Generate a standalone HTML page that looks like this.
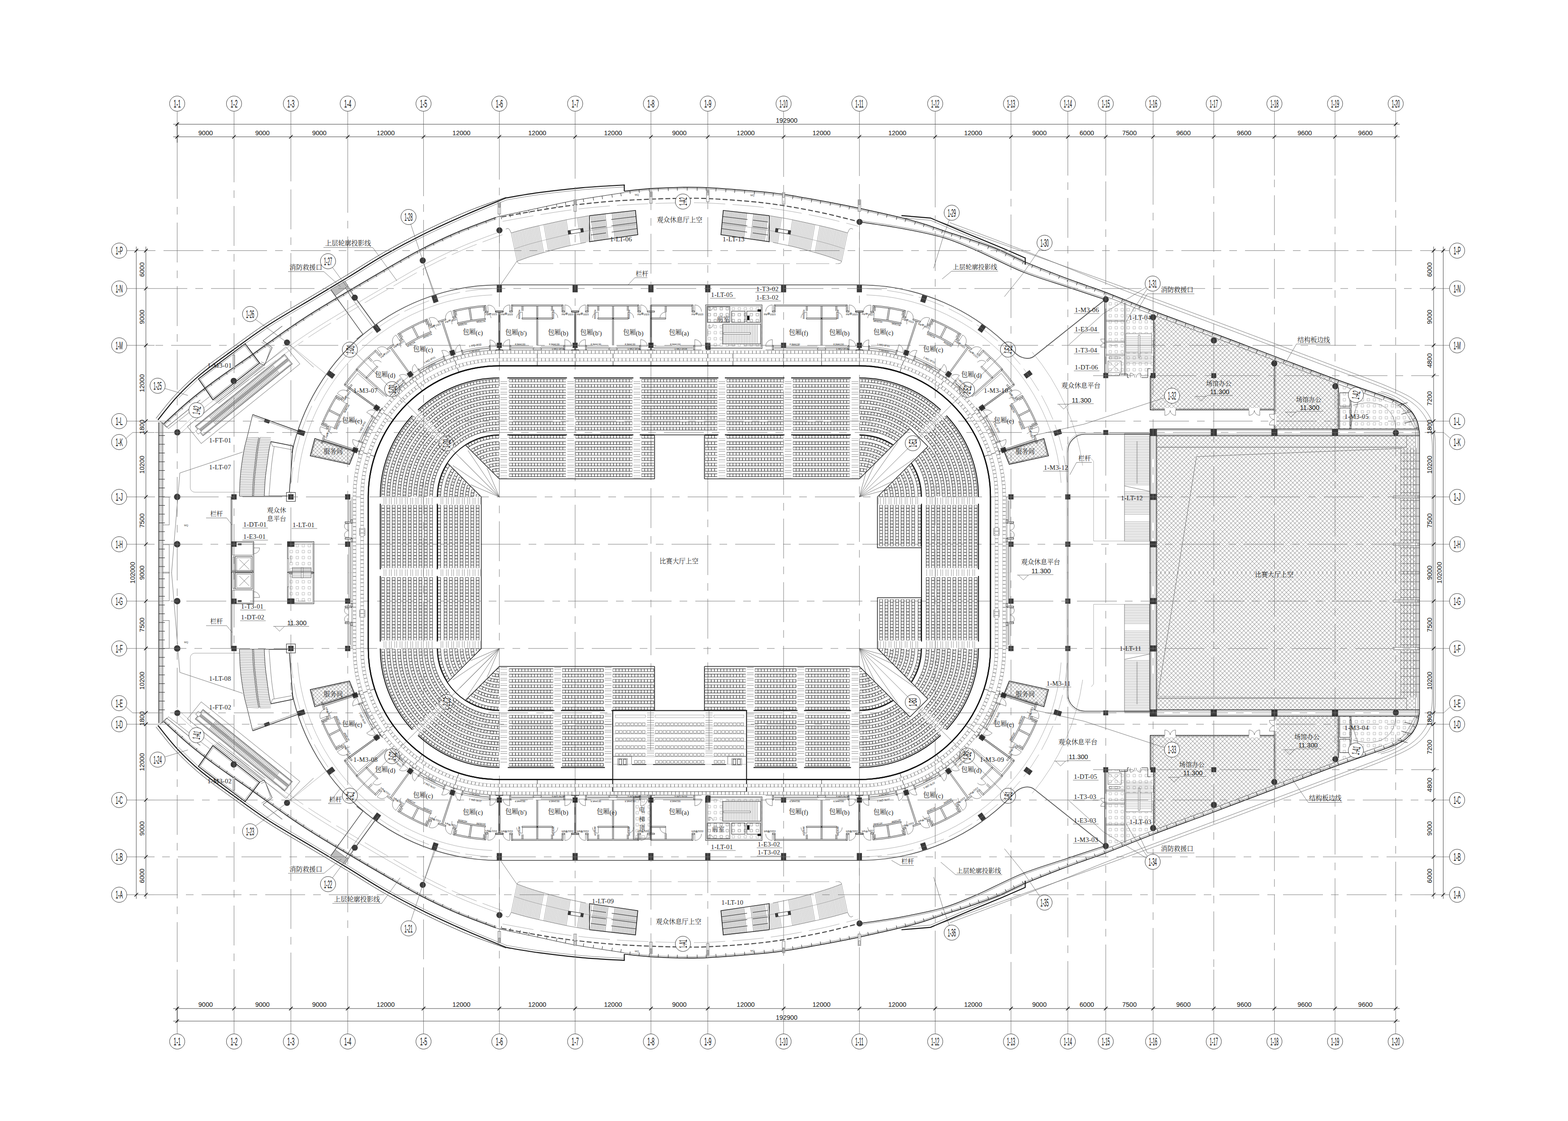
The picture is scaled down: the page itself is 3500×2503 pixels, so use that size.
<!DOCTYPE html><html><head><meta charset="utf-8"><title>plan</title><style>
html,body{margin:0;padding:0;background:#fff}
svg{display:block}
text{font-family:"Liberation Sans",sans-serif;fill:#111}
.g{stroke:#707070;stroke-width:0.95;fill:none}
.gd{stroke:#747474;stroke-width:0.95;fill:none;stroke-dasharray:89 18 17 18}
.bub{stroke:#333;stroke-width:1;fill:#fff}
.bt{font-size:24px;text-anchor:middle}
.dm{stroke:#444;stroke-width:1;fill:none}
.tk{stroke:#111;stroke-width:1.6}
.dt{font-size:14.5px;text-anchor:middle}
.t1{stroke:#222;stroke-width:1;fill:none}
.t0{stroke:#555;stroke-width:0.8;fill:none}
.tl{stroke:#888;stroke-width:0.7;fill:none}
.t2{stroke:#111;stroke-width:2;fill:none}
.t3{stroke:#111;stroke-width:3;fill:none}
.t15{stroke:#222;stroke-width:1.5;fill:none}
.col{fill:#3a3a3a;stroke:none}
.bw{stroke:#1a1a1a;stroke-width:0.9;fill:#fff}
.sd{stroke:#1f1f1f;fill:none;stroke-width:7.1}
.sw{stroke:#fff;fill:none;stroke-width:5.2;stroke-dasharray:5.95 1.1;stroke-dashoffset:-0.55}
.sr{stroke:#c8c8c8;fill:none;stroke-width:0.6}
.stp{stroke:#666;fill:none;stroke-width:15;stroke-dasharray:0.7 3.6 0.7 6.93}
.gsd{stroke:#8c8c8c;fill:none;stroke-width:7.6}
.gsw{stroke:#fff;fill:none;stroke-width:6.3;stroke-dasharray:7 1.56;stroke-dashoffset:-0.8}
.vsd{stroke:#777;fill:none;stroke-width:7.2;stroke-dasharray:7.1 1.4}
.vsw{stroke:#fff;fill:none;stroke-width:5.4;stroke-dasharray:5.3 3.2;stroke-dashoffset:-0.9}
.w{fill:#fff;stroke:none}
.lt{font-family:"Liberation Serif",serif;fill:#222}
.st{font-size:5.6px;fill:#333}
.dt2{font-family:"Liberation Sans",sans-serif;fill:#111}
.cj{font-family:"Liberation Serif","Noto Serif CJK SC",serif;fill:#222}
.cs{font-family:"Liberation Sans","Noto Sans CJK SC",sans-serif}
</style></head><body><svg width="3500" height="2503" viewBox="0 0 3500 2503"><g id="th"><rect x="2581.6" y="972.7" width="577" height="306.5" fill="url(#xh)"/><line x1="2567" y1="958.1" x2="3168" y2="958.1" class="t15"/><line x1="2567" y1="961" x2="3168" y2="961" class="t0"/><line x1="2567" y1="969.5" x2="3168" y2="969.5" class="t0"/><line x1="2567" y1="972.7" x2="3168" y2="972.7" class="t15"/><line x1="2567.1" y1="958" x2="2567.1" y2="1279.2" class="t15"/><line x1="2570" y1="958" x2="2570" y2="1279.2" class="t0"/><line x1="2578.4" y1="958" x2="2578.4" y2="1279.2" class="t0"/><line x1="2581.6" y1="958" x2="2581.6" y2="1279.2" class="t15"/><line x1="2581.6" y1="998.4" x2="3140" y2="998.4" class="t15" style="stroke:#777"/><line x1="3140" y1="972.7" x2="3140" y2="998.4" class="t0"/><line x1="3126.8" y1="1000" x2="3126.8" y2="1279.2" class="t0"/><line x1="3134" y1="1000" x2="3134" y2="1279.2" class="t0"/><line x1="3141" y1="1000" x2="3141" y2="1279.2" class="t0"/><line x1="3148.5" y1="1000" x2="3148.5" y2="1279.2" class="t0"/><line x1="3155.5" y1="1000" x2="3155.5" y2="1279.2" class="t0"/><line x1="3161.5" y1="1000" x2="3161.5" y2="1279.2" class="t0"/><path d="M3126 1012H3168M3126 1029.6H3168M3126 1047.2H3168M3126 1064.8H3168M3126 1082.4H3168M3126 1100H3168M3126 1117.6H3168M3126 1135.2H3168M3126 1152.8H3168M3126 1170.4H3168M3126 1188H3168M3126 1205.6H3168M3126 1223.2H3168M3126 1240.8H3168M3126 1258.4H3168M3126 1276H3168" class="t0"/><rect x="3110" y="1107" width="58" height="5" class="t0" style="fill:#fff"/><rect x="3110" y="1212.8" width="58" height="5" class="t0" style="fill:#fff"/><rect x="2567.1" y="958.4" width="13.6" height="14" class="col"/><rect x="2702.5" y="958.4" width="13.6" height="14" class="col"/><rect x="2837.9" y="958.4" width="13.6" height="14" class="col"/><rect x="2973.2" y="958.4" width="13.6" height="14" class="col"/><rect x="2567.1" y="1102.7" width="13.6" height="13.6" class="col"/><rect x="2567.1" y="1208.5" width="13.6" height="13.6" class="col"/><rect x="2462.7" y="960.2" width="11" height="11" class="col"/><path d="M2575.6 700 L2844.4 800.5 L2844.4 915.3 L2567.5 915.3 L2567.5 839.5 L2575.6 839.5 Z" fill="url(#xh)"/><path d="M2844.4 800.5 L2987.8 854.1 L2987.8 958 L2844.4 958 Z" fill="url(#xh)"/><path d="M2575.6 709 L2575.6 839.5 L2567.5 839.5 L2567.5 915.3 L2844.4 915.3" class="t15"/><path d="M2578.4 720 L2578.4 842.3 L2570.3 842.3 L2570.3 912.5 L2844.4 912.5" class="t0"/><line x1="2844.4" y1="813.5" x2="2844.4" y2="958" class="t15"/><line x1="2847.2" y1="813.5" x2="2847.2" y2="958" class="t0"/><line x1="2987.8" y1="865.1" x2="2987.8" y2="958" class="t15"/><line x1="2985" y1="865.1" x2="2985" y2="958" class="t0"/><path d="M2468.2 661.8 L2573.9 703.4 L2709.5 753.4 L2844.4 804.5 L2980.7 855.6 L3085 892.7" class="t0"/><rect x="2600" y="911" width="24" height="6" class="w"/><path d="M2600 916.5v11a12 12 0 0 0 12 -11M2624 916.5v11a12 12 0 0 1 -12 -11" class="t0"/><rect x="2788" y="911" width="24" height="6" class="w"/><path d="M2788 916.5v11a12 12 0 0 0 12 -11M2812 916.5v11a12 12 0 0 1 -12 -11" class="t0"/><rect x="2841" y="925" width="8" height="24" class="w"/><path d="M2844.4 925h-11a12 12 0 0 0 11 12M2844.4 949h-11a12 12 0 0 1 11 -12" class="t0"/><rect x="2703.8" y="833.3" width="11" height="11" class="col"/><path d="M2470 663.5 L2574 704.4 L2574 838.8 L2470 838.8 Z" fill="url(#sq)"/><path d="M2992 858.6 L3109 900.3 L3140 915 L3155 940 L3158 958 L2992 958 Z" fill="url(#sq)"/><line x1="2466.2" y1="660.8" x2="2466.2" y2="838.8" class="t15"/><line x1="2469.7" y1="660.8" x2="2469.7" y2="838.8" class="t0"/><line x1="2510.5" y1="675.4" x2="2510.5" y2="838.8" class="t1"/><line x1="2513" y1="675.4" x2="2513" y2="838.8" class="t0"/><line x1="2468.2" y1="715" x2="2510.5" y2="715" class="t0"/><line x1="2468.2" y1="717.5" x2="2510.5" y2="717.5" class="t0"/><line x1="2468.2" y1="762" x2="2510.5" y2="762" class="t0"/><line x1="2468.2" y1="764.5" x2="2510.5" y2="764.5" class="t0"/><line x1="2468.2" y1="791" x2="2510.5" y2="791" class="t0"/><line x1="2468.2" y1="793.5" x2="2510.5" y2="793.5" class="t0"/><path d="M2468.2 838.8 L2498.5 838.8 L2498.5 835 L2516.5 835 L2516.5 843 L2520 843" class="t1"/><path d="M2548 843 L2562 843 L2562 823 L2568 823" class="t1"/><rect x="2462.7" y="832.8" width="11" height="11.5" class="col"/><rect x="2568.4" y="832.8" width="11" height="11.5" class="col"/><rect x="2473" y="806" width="30" height="26" class="t0"/><path d="M2473 806l30 26M2503 806l-30 26" class="tl"/><rect x="2476" y="797" width="24" height="4" class="t0"/><rect x="2513" y="745" width="58" height="42" class="t0" style="fill:#fff"/><path d="M2513 752H2571M2513 756H2571M2513 760H2571M2513 764H2571M2513 768H2571M2513 772H2571M2513 776H2571M2513 780H2571M2513 784H2571" class="tl"/><rect x="2541" y="748" width="3.5" height="50" class="t0" style="fill:#fff"/><path d="M2513 790H2571M2513 793.5H2571M2513 797H2571M2513 800.5H2571M2513 804H2571M2513 807.5H2571M2513 811H2571" class="tl"/><path d="M2466 757h-9a9 9 0 0 0 9 9M2466 775h-9a9 9 0 0 1 9 -9" class="t0"/><path d="M2523 843v-10a10 10 0 0 1 10 10M2546 843v-10a10 10 0 0 0 -10 10" class="t0"/><rect x="2990.5" y="877" width="23" height="30" class="t1"/><rect x="2990.5" y="911" width="23" height="47" class="t1"/><line x1="3016" y1="877" x2="3016" y2="958" class="t1"/><path d="M3020 905C3070 890 3112 905 3115.7 958" class="t0"/><path d="M3068 878 Q3130 890 3158 958M3075 876Q3140 890 3163 958M3082 874Q3148 888 3166 950" class="t0"/><path d="M3120 905l22 -6M3128 925l22 -6M3135 945l22 -6" class="t1"/><rect x="2510" y="968" width="56" height="240" class="t0" style="fill:#fff"/><path d="M2510 971H2566M2510 974.6H2566M2510 978.2H2566M2510 981.8H2566M2510 985.4H2566M2510 989H2566M2510 992.6H2566M2510 996.2H2566M2510 999.8H2566M2510 1003.4H2566M2510 1007H2566M2510 1010.6H2566M2510 1014.2H2566M2510 1017.8H2566M2510 1021.4H2566M2510 1025H2566M2510 1028.6H2566M2510 1032.2H2566M2510 1035.8H2566M2510 1039.4H2566M2510 1043H2566M2510 1046.6H2566M2510 1050.2H2566M2510 1053.8H2566M2510 1057.4H2566M2510 1061H2566M2510 1064.6H2566M2510 1068.2H2566M2510 1071.8H2566M2510 1075.4H2566M2510 1079H2566M2510 1082.6H2566M2510 1098H2566M2510 1101.6H2566M2510 1105.2H2566M2510 1108.8H2566M2510 1112.4H2566M2510 1116H2566M2510 1119.6H2566M2510 1123.2H2566M2510 1126.8H2566M2510 1130.4H2566M2510 1134H2566M2510 1137.6H2566M2510 1141.2H2566M2510 1144.8H2566M2510 1148.4H2566M2510 1165H2566M2510 1168.6H2566M2510 1172.2H2566M2510 1175.8H2566M2510 1179.4H2566M2510 1183H2566M2510 1186.6H2566M2510 1190.2H2566M2510 1193.8H2566M2510 1197.4H2566M2510 1201H2566M2510 1204.6H2566" class="tl" style="stroke:#777"/><path d="M2510 1085 L2566 1097" class="t0"/><line x1="2538" y1="985" x2="2538" y2="1080" class="t0"/><path d="M2510 1208 L2441 1208 L2441 1030 L2436 1024" class="tl"/><path d="M352.5 937.6C359.6 929 378.8 903.3 395 886C411.2 868.7 429 851.5 450 834C471 816.5 496 799.1 521 781C546 762.9 570.2 744.4 600 725.1C629.8 705.8 670.6 682.6 700 665C729.4 647.4 749.8 635.4 776.2 619.4C802.6 603.4 830.2 585.1 858.5 569C886.8 552.9 914.9 537.9 945.7 522.7C976.5 507.5 1012.9 491.2 1043.5 477.8C1074.1 464.4 1115 448.1 1129.3 442.1C1141.4 440.1 1173.5 434 1202 430.2C1230.5 426.4 1268.1 422 1300 419.1C1331.9 416.2 1377.9 414 1393.5 413V427" class="t2" style="stroke-width:2.2"/><path d="M348.3 934.1C355.4 925.5 374.6 899.6 391 882.2C407.4 864.8 425.3 847.4 446.5 829.8C467.6 812.2 492.7 794.8 517.8 776.5C542.9 758.3 567.1 739.9 597 720.5C626.9 701.1 667.8 677.9 697.2 660.3C726.6 642.7 746.9 630.7 773.4 614.7C799.8 598.7 827.5 580.4 855.8 564.2C884.1 548.1 912.3 533 943.3 517.8C974.2 502.5 1010.3 485.6 1041.3 472.8C1072.3 459.9 1114.6 445.9 1129.3 440.5" class="t1"/><path d="M398.3 889.1C407.4 880.5 432 854.9 452.9 837.5C473.8 820 498.7 802.7 523.6 784.6C548.6 766.5 572.7 748.2 602.4 728.9C632.2 709.6 673 686.5 702.3 668.9C731.7 651.3 752.1 639.2 778.5 623.2C804.9 607.3 832.5 589 860.7 572.9C888.9 556.8 916.9 541.9 947.7 526.7C978.5 511.6 1014.8 495.3 1045.3 481.9C1075.9 468.5 1116.7 452.2 1131 446.3" class="t0"/><path d="M1130 446.5C1142.1 444.6 1174.2 438.5 1202.6 434.7C1231 430.8 1268.5 426.4 1300.4 423.6C1332.3 420.7 1378.2 418.5 1393.8 417.5" class="t0"/><path d="M366 946C375 937.8 401 913 420 897C439 881 456.7 867.2 480 850C503.3 832.8 533.4 812.8 560 794C586.6 775.2 616.3 753.2 639.6 737C662.9 720.8 677.2 711.3 700 697C722.8 682.7 749.9 666.7 776.2 651C802.5 635.3 831.1 618.5 858 603C884.9 587.5 910.8 572 937.8 558C964.8 544 991.8 531 1020 519C1048.2 506.9 1092.4 491.2 1106.9 485.7" class="t15" style="stroke-width:2.4;stroke:#444"/><path d="M368 948.2C377 940.1 403 915.3 421.9 899.3C440.9 883.3 458.5 869.6 481.8 852.4C505.1 835.3 535.1 815.3 561.7 796.4C588.3 777.6 618 755.6 641.3 739.5C664.6 723.3 678.9 713.9 701.6 699.5C724.3 685.2 751.4 669.2 777.7 653.6C804.1 637.9 832.6 621.1 859.5 605.6C886.4 590.1 912.2 574.6 939.2 560.7C966.1 546.7 993 533.8 1021.2 521.8C1049.3 509.7 1093.5 494 1108 488.5" class="t0"/><path d="M375 937.8l3 3.3M390 924.2l3 3.3M405 910.6l3 3.3M421.6 895.8l2.8 3.5M437.4 883.4l2.8 3.5M454.7 869.8l2.8 3.5M470.5 857.4l2.8 3.5M488.3 844.2l2.6 3.7M505 832.5l2.6 3.7M521.7 820.8l2.6 3.7M540 808l2.6 3.7M556.7 796.3l2.6 3.7M573.3 784.5l2.6 3.7M589.9 772.6l2.6 3.7M608.1 759.6l2.6 3.7M624.7 747.7l2.6 3.7M641.3 735.9l2.5 3.8M659.7 723.7l2.5 3.8M676.5 712.6l2.5 3.8M695 700.3l2.5 3.8M712.1 689.7l2.3 3.9M729.4 679.2l2.3 3.9M748.5 667.7l2.3 3.9M765.8 657.3l2.3 3.9M784.9 645.9l2.3 3.9M802.3 635.7l2.3 3.9M819.7 625.5l2.3 3.9M838.9 614.2l2.3 3.9M856.3 604l2.3 3.9M875.7 593l2.2 3.9M893.5 583l2.2 3.9M911.2 573l2.2 3.9M930.7 562l2.2 3.9M948.8 552.8l1.9 4.1M967 544.1l1.9 4.1M987.1 534.6l1.9 4.1M1005.4 525.9l1.9 4.1M1023.8 517.6l1.6 4.2M1044.6 509.6l1.6 4.2M1063.5 502.4l1.6 4.2M1084.2 494.4l1.6 4.2M1103.1 487.1l1.6 4.2" class="t1"/><path d="M388.2 970.4C397 962.4 422.7 937.9 441.3 922.2C459.8 906.6 476.6 893.5 499.6 876.6C522.5 859.7 552.6 839.7 579.1 820.9C605.5 802.2 635.3 780.1 658.4 764.1C681.5 748.1 695.1 739.1 717.6 724.9C740 710.8 766.9 694.9 793.1 679.4C819.2 663.8 847.8 646.9 874.5 631.6C901.1 616.3 926.6 601 953 587.3C979.4 573.6 1005.4 561.1 1033 549.3C1060.6 537.5 1104.4 522 1118.7 516.5" class="tl"/><path d="M393.6 976.4C402.4 968.4 428 943.9 446.4 928.4C464.9 912.8 481.4 899.8 504.3 883C527.2 866.2 557.2 846.2 583.7 827.5C610.1 808.7 639.9 786.7 663 770.7C686 754.7 699.5 745.8 721.8 731.7C744.2 717.6 771.1 701.8 797.2 686.2C823.3 670.7 851.9 653.8 878.5 638.5C905 623.2 930.4 608 956.7 594.4C983 580.8 1008.6 568.4 1036.1 556.7C1063.6 545 1107.3 529.4 1121.6 524" class="tl" style="stroke-dasharray:60 14"/><path d="M1106.9 485.7C1109.1 485.1 1104.5 485.4 1120 482C1135.5 478.6 1176.7 470 1200 465C1223.3 460 1243.3 455.4 1260 452C1276.7 448.6 1277.7 448.2 1300 444.5C1322.3 440.8 1378 432.4 1393.6 430" class="t1"/><path d="M1117.8 482.6l1.9 6.7M1138 478.2l1.5 6.8M1160 473.5l1.5 6.8M1180 469.2l1.5 6.8M1200 465l1.5 6.8M1220 460.7l1.5 6.8M1242 455.9l1.5 6.8M1262 451.6l1.3 6.9M1282 447.9l1.3 6.9M1302 444.2l1.1 6.9M1323.9 440.8l1.1 6.9M1343.8 437.7l1.1 6.9M1365.7 434.3l1.1 6.9M1385.6 431.2l1.1 6.9" class="t1"/><path d="M1393.6 427C1403.5 426 1432.3 422.4 1453 421C1473.7 419.6 1496.6 418.6 1517.8 418.3C1539 418 1554 417.8 1580.4 419.1C1606.8 420.4 1648 423.7 1676.3 426.2C1704.6 428.7 1719.7 429.7 1750.3 434.2C1780.9 438.7 1832 448.1 1860 453.3C1888 458.5 1893.2 459.6 1918.6 465.1C1944 470.6 1988.2 480.3 2012.2 486.2C2036.2 492.1 2046.9 495.4 2062.9 500.3C2078.9 505.2 2091.1 510.2 2108 515.8C2124.9 521.4 2144.7 527.3 2164.4 534.1C2184.1 540.9 2205.7 548 2226.4 556.5C2247.1 565 2264.9 575 2288.4 585C2311.9 595 2344.8 607.8 2367.3 616.5C2389.9 625.2 2406.9 631 2423.7 637C2440.5 643 2443.2 643.2 2468.2 652.8C2493.2 662.4 2533.7 679.1 2573.9 694.4C2614.1 709.7 2664.4 727.5 2709.5 744.4C2754.6 761.2 2799.2 778.5 2844.4 795.5C2889.6 812.5 2936.5 830.5 2980.7 846.6C3024.8 862.8 3082 881.2 3109.3 892.4C3136.6 903.5 3135.7 905.9 3144.5 913.5C3153.3 921.1 3158.2 929.4 3162.2 938.2C3166.2 947 3167.4 961.7 3168.5 966.4" class="t15" style="stroke-width:1.8"/><path d="M1393.9 430C1403.8 429 1432.6 425.4 1453.2 424C1473.9 422.5 1496.7 421.6 1517.8 421.3C1539 421 1553.9 420.8 1580.3 422.1C1606.6 423.4 1647.8 426.7 1676 429.2C1704.3 431.7 1719.3 432.7 1749.9 437.2C1780.4 441.7 1831.4 451.1 1859.5 456.3C1887.5 461.4 1892.6 462.6 1918 468C1943.3 473.5 1987.5 483.3 2011.5 489.1C2035.5 495 2046.1 498.2 2062 503.2C2077.9 508.1 2090.2 513 2107.1 518.6C2124 524.3 2143.7 530.2 2163.4 536.9C2183.1 543.7 2204.6 550.8 2225.3 559.3C2245.9 567.7 2263.7 577.8 2287.2 587.8C2310.7 597.8 2343.6 610.6 2366.2 619.3C2388.8 628 2405.9 633.8 2422.7 639.8C2439.5 645.9 2442.1 646 2467.1 655.6C2492.2 665.2 2532.6 681.9 2572.8 697.2C2613.1 712.5 2663.4 730.4 2708.4 747.2C2753.5 764.1 2798.1 781.3 2843.3 798.3C2888.5 815.3 2935.5 833.3 2979.7 849.4C3023.8 865.6 3081 884.1 3108.2 895.2C3135.3 906.2 3134 908.4 3142.5 915.8C3151.1 923.1 3155.6 930.9 3159.5 939.4C3163.3 948 3164.6 962.5 3165.6 967.1" class="t0"/><path d="M1405.9 425.8l0.7 7M1426.4 423.7l0.7 7M1448.9 421.4l0.7 7M1469.2 420.3l0.3 7M1491.5 419.4l0.3 7M1511.7 418.6l0.3 7M1534 418.5l-0.1 7M1556.2 418.8l-0.1 7M1576.4 419l-0.1 7M1598.4 420.4l-0.5 7M1620.4 422.1l-0.5 7M1640.3 423.5l-0.5 7M1662.3 425.2l-0.5 7M1684.3 427.1l-0.8 7M1706.3 429.4l-0.8 7M1726.3 431.6l-0.8 7M1748.3 434l-0.8 7M1770.2 437.7l-1.2 6.9M1790.2 441.1l-1.2 6.9M1812.1 445l-1.2 6.9M1832.1 448.4l-1.2 6.9M1854 452.3l-1.2 6.9M1876.2 456.6l-1.4 6.9M1896.4 460.6l-1.4 6.9M1916.6 464.7l-1.4 6.9M1938.5 469.6l-1.5 6.8M1960.4 474.5l-1.5 6.8M1980.3 479l-1.5 6.8M2002.2 484l-1.5 6.8M2022 488.9l-1.9 6.7M2043.4 494.9l-1.9 6.7M2062.9 500.3l-1.9 6.7M2084.5 507.7l-2.3 6.6M2104.1 514.5l-2.3 6.6M2125.5 521.5l-2.2 6.7M2145 527.8l-2.2 6.7M2166.3 534.8l-2.4 6.6M2185.7 541.8l-2.4 6.6M2207 549.5l-2.4 6.6M2226.4 556.5l-2.4 6.6M2246.5 565.7l-2.9 6.4M2264.7 574.1l-2.9 6.4M2284.8 583.3l-2.9 6.4M2305.3 591.8l-2.6 6.5M2324.1 599.2l-2.6 6.5M2344.8 607.5l-2.6 6.5M2365.4 615.8l-2.6 6.5M2384.2 622.6l-2.4 6.6M2404.9 630.2l-2.4 6.6M2425.6 637.7l-2.3 6.6M2445 644.6l-2.3 6.6M2466.3 652.1l-2.3 6.6M2485.2 659.5l-2.6 6.5M2505.9 667.7l-2.6 6.5M2526.7 675.8l-2.6 6.5M2545.6 683.3l-2.6 6.5M2566.3 691.4l-2.6 6.5M2585.2 698.6l-2.4 6.6M2605.9 706.2l-2.4 6.6M2626.6 713.8l-2.4 6.6M2647.3 721.5l-2.4 6.6M2666.2 728.4l-2.4 6.6M2686.9 736.1l-2.4 6.6M2707.6 743.7l-2.4 6.6M2726.4 750.8l-2.5 6.5M2747 758.6l-2.5 6.5M2767.6 766.4l-2.5 6.5M2788.2 774.2l-2.5 6.5M2806.9 781.3l-2.5 6.5M2827.5 789.1l-2.5 6.5M2848.2 796.9l-2.5 6.6M2867.1 804l-2.5 6.6M2887.9 811.8l-2.5 6.6M2908.8 819.6l-2.5 6.6M2927.7 826.7l-2.5 6.6M2948.5 834.5l-2.5 6.6M2969.3 842.3l-2.5 6.6M2988.3 849.3l-2.3 6.6M3009.1 856.7l-2.3 6.6M3029.9 864.1l-2.3 6.6M3048.8 870.8l-2.3 6.6M3069.6 878.3l-2.3 6.6M3090.4 885.7l-2.3 6.6M3111.1 893.5l-3.6 6M3128.7 904l-3.6 6M3145.7 915.1l-5.7 4.1M3158.7 933.3l-5.7 4.1M3165.8 954.3l-6.8 1.5" class="t1"/><path d="M1120 484.5C1133.3 482.1 1173.3 474.4 1200 470C1226.7 465.6 1251.7 461.5 1280 458C1308.3 454.5 1341.2 451.2 1370 449C1398.8 446.8 1428.5 445.7 1453 444.7C1477.5 443.7 1495.8 443.2 1517 443C1538.2 442.8 1553.9 442.2 1580.4 443.4C1606.9 444.6 1647.7 447.4 1676 450C1704.3 452.6 1724.6 455.3 1750.3 459.3C1776 463.3 1808.4 469.6 1830 474C1851.6 478.4 1865.2 482.1 1880 485.7C1894.8 489.3 1912.2 493.9 1918.6 495.5" class="t2" style="stroke:#444;stroke-width:2.2;stroke-dasharray:11 5"/><path d="M1121.8 494.3C1135.1 491.9 1175.1 484.3 1201.6 479.9C1228.2 475.5 1253 471.4 1281.2 467.9C1309.4 464.4 1342.1 461.2 1370.8 459C1399.5 456.8 1429 455.7 1453.4 454.7C1477.8 453.7 1496 453.2 1517.1 453C1538.2 452.8 1553.6 452.2 1580 453.4C1606.3 454.5 1646.9 457.3 1675.1 460C1703.2 462.6 1723.3 465.2 1748.8 469.2C1774.2 473.2 1806.5 479.4 1828 483.8C1849.5 488.2 1863 491.9 1877.6 495.4C1892.3 499 1909.7 503.6 1916.1 505.2" class="tl" style="stroke-dasharray:70 16"/><path d="M2012.2 481.4 L2077 486.8 L2153.1 519 L2237.7 554 L2288.4 576 L2288.4 591" class="t2" style="stroke-width:2.2"/><path d="M2012.2 486.4 L2077 491.8 L2153.1 524 L2237.7 559 L2283 580" class="t0"/><path d="M1918.6 495.5C1934.2 497.9 1980.9 504.2 2012 510C2043.1 515.8 2077 522.2 2105.2 530.5C2133.4 538.8 2151.7 547.2 2181.3 560C2210.9 572.8 2249.7 593.7 2282.8 607C2315.9 620.3 2351.8 630.5 2380 640C2408.2 649.5 2437.1 659.2 2451.9 664C2466.7 668.8 2466 667.8 2468.8 668.6" class="t15"/><path d="M1919.1 492.5C1934.6 495 1981.4 501.2 2012.6 507.1C2043.7 512.9 2077.7 519.3 2106 527.6C2134.4 536 2152.8 544.5 2182.5 557.2C2212.1 570 2250.8 590.9 2283.9 604.2C2317 617.5 2352.8 627.7 2381 637.2C2409.1 646.6 2438 656.4 2452.8 661.1C2467.6 665.9 2466.8 664.9 2469.6 665.7" class="t0"/><path d="M2085.5 490.5C2113.7 500.6 2185.5 526.6 2254.6 551.3C2323.7 576 2424.3 611.2 2500 638.7C2575.7 666.2 2629 686.1 2709 716C2789 745.9 2914.8 793.3 2980 818C3045.2 842.7 3070 851.2 3100 864C3130 876.8 3144.7 883.7 3160 895C3175.3 906.3 3184.8 918.7 3192 932C3199.2 945.3 3201 958.7 3203 975C3205 991.3 3203.8 1020.8 3204 1030" class="t0"/><path d="M2120 497C2150 508.3 2236.7 540.4 2300 565C2363.3 589.6 2431.8 618.4 2500 644.7C2568.2 671 2629 693 2709 723C2789 753 2915.7 800.7 2980 825C3044.3 849.3 3066.3 856.7 3095 869C3123.7 881.3 3137.2 887.8 3152 899C3166.8 910.2 3176.7 922.5 3184 936C3191.3 949.5 3193.8 964.3 3196 980C3198.2 995.7 3196.8 1021.7 3197 1030" class="t0"/><path d="M2465.3 660.2C2482.9 667.2 2530.8 686.6 2571.1 701.9C2611.3 717.2 2661.6 735 2706.7 751.9C2751.8 768.7 2796.4 785.9 2841.6 803C2886.8 820 2933.8 838 2978 854.1C3022.1 870.2 3079.4 888.9 3106.3 899.8C3133.2 910.7 3131.2 912.6 3139.3 919.5C3147.4 926.5 3151.3 933.4 3154.9 941.5C3158.5 949.6 3159.7 963.7 3160.7 968.1" class="tl"/><line x1="354.4" y1="943" x2="354.4" y2="1279.7" class="t15"/><line x1="357.1" y1="943" x2="357.1" y2="1279.7" class="t0"/><line x1="360.4" y1="943" x2="360.4" y2="1279.7" class="t0"/><line x1="363.3" y1="943" x2="363.3" y2="1279.7" class="t1"/><path d="M355 972.5h13M355 992h13M355 1011.5h13M355 1031h13M355 1050.5h13M355 1070h13M355 1089.5h13M355 1109h13M355 1128.5h13M355 1148h13M355 1167.5h13M355 1187h13M355 1206.5h13M355 1226h13M355 1245.5h13M355 1265h13" class="t1"/><line x1="3168.5" y1="966" x2="3168.5" y2="1279.7" class="t15"/><line x1="3165" y1="966" x2="3165" y2="1279.7" class="t0"/><line x1="3160" y1="966" x2="3160" y2="1279.7" class="t0"/><line x1="3204" y1="1030" x2="3204" y2="1279.7" class="t0"/><line x1="3197" y1="1030" x2="3197" y2="1279.7" class="t0"/><rect x="1111.6" y="452" width="6" height="26" class="t0" style="fill:#fff"/><rect x="1113.1" y="454" width="3" height="9" class="t0"/><rect x="1280.8" y="446" width="6" height="26" class="t0" style="fill:#fff"/><rect x="1282.3" y="448" width="3" height="9" class="t0"/><rect x="1450" y="428" width="6" height="26" class="t0" style="fill:#fff"/><rect x="1451.5" y="430" width="3" height="9" class="t0"/><rect x="1576.9" y="424.5" width="6" height="26" class="t0" style="fill:#fff"/><rect x="1578.4" y="426.5" width="3" height="9" class="t0"/><rect x="1746.1" y="430" width="6" height="26" class="t0" style="fill:#fff"/><rect x="1747.6" y="432" width="3" height="9" class="t0"/><rect x="1915.3" y="446" width="6" height="26" class="t0" style="fill:#fff"/><rect x="1916.8" y="448" width="3" height="9" class="t0"/><circle cx="791.9" cy="664.6" r="6.8" class="col"/><circle cx="943.6" cy="581.6" r="6.8" class="col"/><circle cx="1114.8" cy="514.2" r="6.8" class="col"/><circle cx="1918.6" cy="495.5" r="6.8" class="col"/><circle cx="2468.2" cy="668.7" r="6.8" class="col"/><circle cx="2573.9" cy="708.5" r="6.8" class="col"/><circle cx="2709.5" cy="760.3" r="6.8" class="col"/><circle cx="2844.4" cy="811.4" r="6.8" class="col"/><circle cx="2980.7" cy="862.4" r="6.8" class="col"/><circle cx="3115.7" cy="966.4" r="6.8" class="col"/><circle cx="395.8" cy="965.4" r="6.8" class="col"/><circle cx="640.7" cy="764.8" r="6.8" class="col"/><circle cx="521.7" cy="850.5" r="6.8" class="col"/><rect x="-5.8" y="-8.5" width="11.5" height="17" class="col" transform="translate(1114.6 644.2) rotate(0)"/><rect x="-5.8" y="-5.8" width="11.5" height="11.5" class="col" transform="translate(1114.6 771.1) rotate(0)"/><rect x="-5.8" y="-8.5" width="11.5" height="17" class="col" transform="translate(1283.8 644.2) rotate(0)"/><rect x="-5.8" y="-5.8" width="11.5" height="11.5" class="col" transform="translate(1283.8 771.1) rotate(0)"/><rect x="-5.8" y="-8.5" width="11.5" height="17" class="col" transform="translate(1453 644.2) rotate(0)"/><rect x="-5.8" y="-5.8" width="11.5" height="11.5" class="col" transform="translate(1453 771.1) rotate(0)"/><rect x="-5.8" y="-8.5" width="11.5" height="17" class="col" transform="translate(1579.9 644.2) rotate(0)"/><rect x="-5.8" y="-5.8" width="11.5" height="11.5" class="col" transform="translate(1579.9 771.1) rotate(0)"/><rect x="-5.8" y="-8.5" width="11.5" height="17" class="col" transform="translate(1749.1 644.2) rotate(0)"/><rect x="-5.8" y="-5.8" width="11.5" height="11.5" class="col" transform="translate(1749.1 771.1) rotate(0)"/><rect x="-5.8" y="-8.5" width="11.5" height="17" class="col" transform="translate(1918.3 644.2) rotate(0)"/><rect x="-5.8" y="-5.8" width="11.5" height="11.5" class="col" transform="translate(1918.3 771.1) rotate(0)"/><rect x="-5.8" y="-8.5" width="11.5" height="17" class="col" transform="translate(970.8 667) rotate(-18)"/><rect x="-5.8" y="-5.8" width="11.5" height="11.5" class="col" transform="translate(1010 787.7) rotate(-18)"/><rect x="-5.8" y="-8.5" width="11.5" height="17" class="col" transform="translate(841.1 733.1) rotate(-36)"/><rect x="-5.8" y="-5.8" width="11.5" height="11.5" class="col" transform="translate(915.7 835.7) rotate(-36)"/><rect x="-5.8" y="-8.5" width="11.5" height="17" class="col" transform="translate(738.2 836) rotate(-54)"/><rect x="-5.8" y="-5.8" width="11.5" height="11.5" class="col" transform="translate(840.8 910.6) rotate(-54)"/><rect x="-5.8" y="-8.5" width="11.5" height="17" class="col" transform="translate(672.1 965.7) rotate(-72)"/><rect x="-5.8" y="-5.8" width="11.5" height="11.5" class="col" transform="translate(792.8 1004.9) rotate(-72)"/><rect x="-5.8" y="-8.5" width="11.5" height="17" class="col" transform="translate(2062.1 667) rotate(18)"/><rect x="-5.8" y="-5.8" width="11.5" height="11.5" class="col" transform="translate(2022.9 787.7) rotate(18)"/><rect x="-5.8" y="-8.5" width="11.5" height="17" class="col" transform="translate(2191.8 733.1) rotate(36)"/><rect x="-5.8" y="-5.8" width="11.5" height="11.5" class="col" transform="translate(2117.2 835.7) rotate(36)"/><rect x="-5.8" y="-8.5" width="11.5" height="17" class="col" transform="translate(2294.7 836) rotate(54)"/><rect x="-5.8" y="-5.8" width="11.5" height="11.5" class="col" transform="translate(2192.1 910.6) rotate(54)"/><rect x="-5.8" y="-8.5" width="11.5" height="17" class="col" transform="translate(2360.8 965.7) rotate(72)"/><rect x="-5.8" y="-5.8" width="11.5" height="11.5" class="col" transform="translate(2240.1 1004.9) rotate(72)"/><rect x="-5.8" y="-5.8" width="11.5" height="11.5" class="col" transform="translate(776.2 1109.5) rotate(0)"/><rect x="-5.8" y="-5.8" width="11.5" height="11.5" class="col" transform="translate(2256.7 1109.5) rotate(0)"/><rect x="-5.8" y="-5.8" width="11.5" height="11.5" class="col" transform="translate(2383.6 1109.5) rotate(0)"/><rect x="-5.8" y="-5.8" width="11.5" height="11.5" class="col" transform="translate(649.3 1109.5) rotate(0)"/><rect x="-5.8" y="-5.8" width="11.5" height="11.5" class="col" transform="translate(522.4 1109.5) rotate(0)"/><rect x="-5.8" y="-5.8" width="11.5" height="11.5" class="col" transform="translate(776.2 1215.2) rotate(0)"/><rect x="-5.8" y="-5.8" width="11.5" height="11.5" class="col" transform="translate(2256.7 1215.2) rotate(0)"/><rect x="-5.8" y="-5.8" width="11.5" height="11.5" class="col" transform="translate(2383.6 1215.2) rotate(0)"/><rect x="-5.8" y="-5.8" width="11.5" height="11.5" class="col" transform="translate(649.3 1215.2) rotate(0)"/><rect x="-5.8" y="-5.8" width="11.5" height="11.5" class="col" transform="translate(522.4 1215.2) rotate(0)"/><path d="M651.6 1011.1A473.3 473.3 0 0 1 1114.6 636.2L1918.3 636.2A473.3 473.3 0 0 1 2264.4 786.7C2276 799 2296 806 2310 794L2463 672" class="t15" style="stroke:#555;stroke-width:1.8"/><path d="M1098.4 644.5A465.3 465.3 0 0 0 650.4 1077" class="tl" style="stroke-dasharray:60 12"/><path d="M1098.8 658.5A451.3 451.3 0 0 0 664.4 1078" class="tl"/><path d="M2382.5 1077A465.3 465.3 0 0 0 1934.5 644.5" class="tl" style="stroke-dasharray:60 12"/><path d="M2368.5 1078A451.3 451.3 0 0 0 1934.1 658.5" class="tl"/><path d="M2416.7 1039.5A503.3 503.3 0 0 0 2303.9 786" class="tl"/><path d="M2567 969.5H2421.6A38 38 0 0 0 2383.6 1007.5V1279.2" class="t15" style="stroke:#444"/><path d="M2567 966.5H2421.6A41 41 0 0 0 2380.6 1007.5V1279.2" class="tl"/><circle cx="395.5" cy="1109.5" r="7.2" class="col"/><circle cx="395.5" cy="1215.2" r="7.2" class="col"/><rect x="363.3" y="1110" width="14.5" height="62" class="t0"/><rect x="363.3" y="1216" width="14.5" height="63.7" class="t0"/><line x1="516" y1="1109.5" x2="516" y2="1279.2" class="t15" style="stroke:#444"/><line x1="518.6" y1="1109.5" x2="518.6" y2="1279.2" class="t0"/><rect x="639.3" y="1099.5" width="20" height="20" class="t1" style="fill:#fff"/><rect x="643.3" y="1103.5" width="12" height="12" class="col"/><rect x="517.2" y="1209.3" width="49.3" height="70.4" class="t1" style="fill:#fff"/><rect x="519.2" y="1211.3" width="45.3" height="28" class="t0"/><rect x="525.2" y="1242.3" width="38" height="36" class="t1"/><rect x="528.2" y="1245.3" width="32" height="30" class="t0"/><path d="M534.2 1249.3l22 22m0 -22l-22 22" class="t0"/><rect x="520.2" y="1243.3" width="3" height="34" class="t0"/><rect x="519.2" y="1281.3" width="45.3" height="2.5" class="t0"/><path d="M566.5 1223.3h13a13 13 0 0 1 -13 13" class="t0"/><rect x="531.2" y="1213.3" width="8" height="4" class="col"/><rect x="641.6" y="1209.3" width="59.1" height="70.4" class="t1" style="fill:url(#sq2)"/><rect x="644.1" y="1211.8" width="54.1" height="69.4" class="t0"/><rect x="652.6" y="1267.3" width="42" height="12.4" class="t0" style="fill:#fff"/><path d="M652.6 1269.3H694.6M652.6 1273H694.6M652.6 1276.7H694.6M652.6 1280.4H694.6M652.6 1284.1H694.6M652.6 1287.8H694.6" class="tl" style="stroke:#666"/><rect x="672.6" y="1267.3" width="4" height="12.4" class="t0" style="fill:#fff"/><rect x="641.6" y="1247.3" width="3" height="31.4" class="t0" style="fill:#fff"/><rect x="516.7" y="1103.8" width="11.4" height="11.4" class="col"/><rect x="770.5" y="1103.8" width="11.4" height="11.4" class="col"/><rect x="516.7" y="1209.5" width="11.4" height="11.4" class="col"/><rect x="770.5" y="1209.5" width="11.4" height="11.4" class="col"/><rect x="641.3" y="1209.5" width="16" height="11.4" class="col"/><path d="M424.8 941V1089a10 10 0 0 0 10 10H534" class="tl" style="stroke:#777"/><path d="M534.4 1107.8C534.7 1101.5 535.2 1081.7 536 1070C536.8 1058.3 537.9 1048.8 539.4 1037.6C540.9 1026.4 542.8 1014.1 545 1003C547.2 991.9 549.7 984 552.9 971.1C556.1 958.2 562.1 933.2 564 925.6" class="t1"/><path d="M563.4 1107.8C563.8 1101.5 564.6 1081.7 565.5 1070C566.4 1058.3 567.8 1048.8 569 1037.6C570.2 1026.4 571.6 1013 573 1003C574.4 993 576.8 981.6 577.5 977.3" class="t1"/><path d="M566 1107.8C566.4 1101.5 567.2 1081.7 568.1 1070C569 1058.3 570.4 1048.8 571.6 1037.6C572.9 1026.4 574.2 1013 575.6 1003C577 993 579.4 981.6 580.1 977.3" class="t1"/><path d="M589.9 1107.8C590.2 1101.5 591 1081.7 592 1070C593 1058.3 594.6 1048.4 596 1037.6C597.4 1026.8 599.1 1013.6 600.5 1005C601.9 996.4 603.9 989.1 604.6 985.9" class="t1"/><path d="M534.6 1104L563.6 1104M566.2 1104L590.1 1104M534.7 1100.3L563.8 1100.2M566.4 1100.2L590.3 1100.2M534.9 1096.6L564 1096.5M566.6 1096.5L590.5 1096.5M535 1092.9L564.3 1092.7M566.9 1092.7L590.8 1092.8M535.2 1089.2L564.5 1089M567.1 1089L591 1089.1M535.3 1085.5L564.7 1085.2M567.3 1085.2L591.2 1085.3M535.5 1081.8L564.9 1081.5M567.5 1081.5L591.4 1081.6M535.7 1078.1L565.1 1077.8M567.7 1077.8L591.6 1077.9M535.8 1074.4L565.3 1074M567.9 1074L591.8 1074.1M536 1070.7L565.6 1070.3M568.2 1070.3L592.1 1070.4M536.3 1067L566 1066.5M568.6 1066.5L592.6 1066.7M536.7 1063.3L566.4 1062.8M569 1062.8L593 1063M537.1 1059.6L566.8 1059M569.4 1059L593.5 1059.2M537.5 1055.9L567.2 1055.3M569.8 1055.3L594 1055.5M537.9 1052.2L567.6 1051.6M570.2 1051.6L594.5 1051.8M538.3 1048.5L568 1047.8M570.6 1047.8L594.9 1048M538.6 1044.8L568.5 1044.1M571.1 1044.1L595.4 1044.3M539 1041.1L568.9 1040.3M571.5 1040.3L595.9 1040.6M539.4 1037.4L569.3 1036.6M571.9 1036.6L596.4 1036.9M540 1033.7L569.7 1032.8M572.3 1032.8L596.9 1033.1M540.6 1030L570.2 1029.1M572.8 1029.1L597.5 1029.4M541.2 1026.3L570.6 1025.4M573.2 1025.4L598 1025.7M541.8 1022.6L571.1 1021.6M573.7 1021.6L598.5 1021.9M542.4 1018.9L571.5 1017.9M574.1 1017.9L599.1 1018.2M543 1015.2L572 1014.1M574.6 1014.1L599.6 1014.5M543.6 1011.5L572.4 1010.4M575 1010.4L600.1 1010.8M544.2 1007.8L572.8 1006.6M575.4 1006.6L600.7 1007M544.8 1004.1L573.4 1002.9M576 1002.9L601.5 1003.3M545.6 1000.4L574.1 999.2M576.7 999.2L602.4 999.6M546.6 996.7L574.8 995.4M577.4 995.4L603.2 995.8M547.5 993L575.4 991.7M578 991.7L604 992.1M548.4 989.3L576.1 987.9M578.7 987.9L604.6 988.4M549.3 985.6L576.8 984.2M579.4 984.2L604.6 984.7M550.2 981.9L577.5 980.4M580.1 980.4L604.6 980.9M551.1 978.2L577.5 976.7M580.1 976.7L604.6 977.2" class="tl" style="stroke:#555"/><line x1="534.4" y1="1107.8" x2="642" y2="1107.8" class="t1"/><path d="M564 925.6 L672.4 965 Z" class="t15"/><path d="M563 928.5 L671 968" class="t0"/><rect x="-6" y="-4" width="12" height="8" class="col" transform="translate(596 940.3) rotate(20)"/><path d="M604.6 985.9C612.8 987.5 645.7 994.1 653.9 995.8" class="t15"/><path d="M653.9 995.8C653.3 1003.2 651.6 1025.1 650.5 1040C649.4 1054.9 647.8 1075.2 647 1085C646.2 1094.8 646.2 1096.7 646 1099" class="t15"/><path d="M604.6 985.9 L608 996 L651 1004" class="t0"/><path d="M612 997C611 1004.2 607.9 1021.7 606 1040C604.1 1058.3 601.4 1095.8 600.5 1107" class="t0"/><line x1="600.5" y1="1107" x2="642" y2="1107" class="t0"/><path d="M541.8 1009.3 L401.4 1056.1 L383 1279" class="t0"/><g transform="translate(433.7 971.3) rotate(-38.9)"><rect x="0" y="-24.5" width="283" height="49" class="t0"/><rect x="14" y="-13.6" width="256" height="12.5" class="t1" style="stroke:#444;fill:#fff"/><rect x="16" y="-11.399999999999999" width="252" height="8.1" class="t0" style="stroke:#777"/><path d="M52 -7.35H236" stroke="#666" stroke-width="8.1" stroke-dasharray="0.8 2.5" fill="none"/><path d="M14 -12.5H270M14 -2.1999999999999993H270" class="tl"/><rect x="14" y="1.1" width="256" height="12.5" class="t1" style="stroke:#444;fill:#fff"/><rect x="16" y="3.3000000000000003" width="252" height="8.1" class="t0" style="stroke:#777"/><path d="M52 7.35H236" stroke="#666" stroke-width="8.1" stroke-dasharray="0.8 2.5" fill="none"/><path d="M14 2.2H270M14 12.5H270" class="tl"/><rect x="8" y="-5" width="9" height="9" class="t0" style="fill:#fff"/></g><path d="M443 846 L547.2 767.4 L579.4 810.6 L475.2 892.6 Z" class="t15" style="stroke-width:1.8"/><path d="M447 847 L546.5 771.5 L575.5 810 L476 888.5 Z" class="t0"/><path d="M478.2 894.8 L582.4 812.8" class="t0"/><path d="M481.2 897 L585.4 815" class="t0"/><path d="M484.2 899.2 L588.4 817.2" class="t0"/><path d="M487.2 901.4 L591.4 819.4" class="t0"/><path d="M579.4 810.6 L590 816 L607.5 776 L587 761 L630 728" class="t1"/><path d="M583 808 L592 812 L604 777 L584 764" class="t0"/><rect x="520" y="793" width="4" height="28" class="t0" style="fill:#fff"/><circle cx="521.7" cy="850.5" r="6.8" class="col"/><path d="M357 940 L372 954 L447 893" class="t1"/><path d="M363 943 L376 957 L470 884" class="t0"/><path d="M738 646.5 L770.4 627.4 L777 639.3 L748 660.4 Z" class="t0" style="fill:#bdbdbd"/><path d="M738.7 647.2 L810 746.3 L796 757" class="t15" style="stroke:#555"/><path d="M777 639.3 L792 664" class="t1"/><path d="M771 642 L786 667" class="t1"/><path d="M795.5 668 L845 736" class="t15" style="stroke:#555"/><path d="M789 671 L838.5 739" class="t0"/><path d="M748 660.4 L756 673" class="t0"/><path d="M943.6 581.6 L972 668" class="t0"/><path d="M640.7 764.8 L740 845" class="tl"/><g id="st6"><path d="M1141.1 520L1154.4 583.4M1144.2 519.1L1157.3 582.4M1147.2 518.3L1160.3 581.3M1150.3 517.4L1163.2 580.3M1153.3 516.6L1166.1 579.2M1156.4 515.7L1169.1 578.2M1159.5 514.9L1172 577.1M1162.5 514L1174.9 576.1M1165.6 513.1L1177.9 575M1168.6 512.3L1180.8 574M1171.7 511.4L1183.7 573M1174.8 510.6L1186.7 572M1177.9 509.8L1189.7 571.1M1181 509.1L1192.6 570.2M1184 508.4L1195.6 569.3M1187.1 507.7L1198.6 568.4M1190.2 507L1201.6 567.5M1193.3 506.2L1204.6 566.6M1196.4 505.5L1207.5 565.8M1199.5 504.8L1210.5 564.9M1202.6 504.1L1213.5 564M1214 501.5L1224.5 560.9M1217.1 500.8L1227.5 560M1220.2 500.1L1230.5 559.2M1223.3 499.5L1233.5 558.4M1226.4 498.8L1236.5 557.6M1229.5 498.1L1239.5 556.8M1232.6 497.5L1242.5 556M1235.7 496.8L1245.5 555.2M1238.8 496.1L1248.5 554.4M1242 495.5L1251.5 553.6M1245.1 494.8L1254.6 552.8M1248.2 494.1L1257.6 552M1251.3 493.4L1260.6 551.2M1254.4 492.8L1263.6 550.5M1257.5 492.1L1266.6 549.8M1260.6 491.4L1269.7 549.2M1263.7 490.8L1272.7 548.5M1288.8 486.2L1297.2 543.4M1291.9 485.7L1300.2 542.8M1295.1 485.1L1303.2 542.1M1298.2 484.6L1306.3 541.5M1301.3 484L1309.3 540.9M1304.4 483.4L1312.4 540.3M1307.6 482.9L1315.5 539.8M1310.7 482.3L1318.5 539.3M1313.8 481.8L1321.6 538.7" class="tl" style="stroke:#6a6a6a"/><path d="M1318.9 481L1326.5 537.8M1322 480.6L1329.6 537.3M1325.2 480.1L1332.7 536.7M1328.3 479.7L1335.7 536.2M1331.5 479.3L1338.8 535.7M1334.6 478.8L1341.9 535.1M1337.8 478.4L1344.9 534.6M1340.9 477.9L1348 534M1344.1 477.5L1351 533.5M1347.2 477L1354.1 532.9M1350.4 476.6L1357.2 532.4M1366.1 474.4L1372.6 530.1M1369.3 474.1L1375.6 529.7M1372.4 473.8L1378.7 529.4M1375.6 473.6L1381.8 529M1378.8 473.3L1384.9 528.6M1381.9 473L1388 528.3M1385.1 472.7L1391.1 527.9M1388.3 472.5L1394.2 527.5M1391.4 472.2L1397.3 527.2M1394.6 471.9L1400.4 526.8M1397.8 471.6L1403.5 526.4M1400.9 471.4L1406.5 526.1M1404.1 471.1L1409.6 525.7M1407.3 470.8L1412.7 525.3M1410.4 470.5L1415.8 525M1413.6 470.2L1418.9 524.6M1416.8 470L1422 524.2" class="t0" style="stroke:#555"/><path d="M1315.9 481.5 L1418.6 469.8 L1423.8 524 L1315.7 539.8 Z" class="t15"/><path d="M1318.8 495.6L1352.2 491.5M1364.3 490.1L1419.9 483.4" class="t1"/><path d="M1318.8 510.1L1352.6 505.8M1364.9 504.2L1421.2 496.9" class="t1"/><path d="M1318.7 524.7L1353 520M1365.4 518.3L1422.5 510.4" class="t1"/><path d="M1141.1 520C1146.8 518.4 1162.9 513.6 1175 510.5C1187.1 507.4 1198.8 504.8 1213.8 501.5C1228.8 498.2 1248.3 493.8 1265 490.5C1281.7 487.2 1306 483.2 1314.2 481.7" class="t0"/><path d="M1154.4 583.4C1159.5 581.6 1174.2 576 1185 572.5C1195.8 569 1206.3 565.9 1219.1 562.3C1231.9 558.7 1247.2 554.3 1262 550.8C1276.8 547.3 1300 542.8 1307.6 541.2" class="t0"/><path d="M1147.8 555.7C1153.1 554 1168.5 548.8 1180 545.5C1191.5 542.2 1202.5 539.4 1216.4 535.9C1230.4 532.4 1247.8 528.1 1263.5 524.6C1279.2 521.2 1294 518.4 1310.9 515.5C1327.8 512.5 1346.6 509.2 1365 506.8C1383.4 504.3 1411.8 501.9 1421.2 500.9" class="tl"/><g transform="translate(1285 516.5) rotate(-9)"><rect x="-17" y="-4" width="34" height="8" class="t1" style="fill:#fff"/><rect x="-17" y="-4" width="6" height="8" class="col"/><rect x="11" y="-4" width="6" height="8" class="col"/></g><path d="M1129 512q4 -4 8 0l4 8" class="t0"/><path d="M1154.4 583.4q1 5.3 7 5.3" class="t0"/></g><use href="#st6" transform="matrix(-1 0 0 1 3032.9 0)"/><line x1="1161" y1="588.7" x2="1872" y2="588.7" class="tl" style="stroke-dasharray:74 14;stroke:#777"/><path d="M1114.8 514.2 L1114.6 636" class="t0"/><path d="M1154 583 L1114.6 640" class="t0"/><path d="M1918.6 495.5 L1918.3 636" class="t0"/><g class="st" transform="translate(1131.6 703.5) rotate(0) translate(-13.1 0)"><text x="0" y="0">FM</text><text class="cs" x="8.1" y="-0.6">甲</text><text x="13.7" y="0">1023</text></g><g class="st" transform="translate(1131.6 789.7) rotate(0) translate(-13.6 0)"><text x="0" y="0">FM</text><text class="cs" x="8.1" y="-0.6">甲</text><text x="13.7" y="0">1023'</text></g><g class="st" transform="translate(1161.1 770.7) rotate(0) translate(-11.7 0)"><text x="0" y="0">FJM4130</text></g><g class="st" transform="translate(1161.2 701.8) rotate(-90) translate(-10.1 0)"><text x="0" y="0">M0823a</text></g><g class="st" transform="translate(1266.8 703.5) rotate(0) translate(-13.1 0)"><text x="0" y="0">FM</text><text class="cs" x="8.1" y="-0.6">甲</text><text x="13.7" y="0">1023</text></g><g class="st" transform="translate(1266.8 789.7) rotate(0) translate(-13.6 0)"><text x="0" y="0">FM</text><text class="cs" x="8.1" y="-0.6">甲</text><text x="13.7" y="0">1023'</text></g><g class="st" transform="translate(1237.3 770.7) rotate(0) translate(-11.7 0)"><text x="0" y="0">FJM4130</text></g><g class="st" transform="translate(1245.7 780.7) rotate(0) translate(-14.3 0)"><text x="0" y="0">1-MQ-3F06</text></g><g class="st" transform="translate(1237.2 701.8) rotate(-90) translate(-10.1 0)"><text x="0" y="0">M0823a</text></g><g class="st" transform="translate(1300.8 703.5) rotate(0) translate(-13.1 0)"><text x="0" y="0">FM</text><text class="cs" x="8.1" y="-0.6">甲</text><text x="13.7" y="0">1023</text></g><g class="st" transform="translate(1300.8 789.7) rotate(0) translate(-13.6 0)"><text x="0" y="0">FM</text><text class="cs" x="8.1" y="-0.6">甲</text><text x="13.7" y="0">1023'</text></g><g class="st" transform="translate(1330.3 770.7) rotate(0) translate(-11.7 0)"><text x="0" y="0">FJM4130</text></g><g class="st" transform="translate(1330.4 701.8) rotate(-90) translate(-10.1 0)"><text x="0" y="0">M0823a</text></g><g class="st" transform="translate(1436 703.5) rotate(0) translate(-13.1 0)"><text x="0" y="0">FM</text><text class="cs" x="8.1" y="-0.6">甲</text><text x="13.7" y="0">1023</text></g><g class="st" transform="translate(1436 789.7) rotate(0) translate(-13.6 0)"><text x="0" y="0">FM</text><text class="cs" x="8.1" y="-0.6">甲</text><text x="13.7" y="0">1023'</text></g><g class="st" transform="translate(1406.5 770.7) rotate(0) translate(-11.7 0)"><text x="0" y="0">FJM4130</text></g><g class="st" transform="translate(1414.9 780.7) rotate(0) translate(-14.3 0)"><text x="0" y="0">1-MQ-3F06</text></g><g class="st" transform="translate(1406.4 701.8) rotate(-90) translate(-10.1 0)"><text x="0" y="0">M0823a</text></g><g class="st" transform="translate(1556.9 703.5) rotate(0) translate(-13.1 0)"><text x="0" y="0">FM</text><text class="cs" x="8.1" y="-0.6">甲</text><text x="13.7" y="0">1023</text></g><g class="st" transform="translate(1556.9 789.7) rotate(0) translate(-13.6 0)"><text x="0" y="0">FM</text><text class="cs" x="8.1" y="-0.6">甲</text><text x="13.7" y="0">1023'</text></g><g class="st" transform="translate(1507.4 770.7) rotate(0) translate(-11.7 0)"><text x="0" y="0">FJM4130</text></g><g class="st" transform="translate(1519.5 780.7) rotate(0) translate(-14.3 0)"><text x="0" y="0">1-MQ-3F06</text></g><g class="st" transform="translate(1718 703.5) rotate(0) translate(-13.1 0)"><text x="0" y="0">FM</text><text class="cs" x="8.1" y="-0.6">甲</text><text x="13.7" y="0">1023</text></g><g class="st" transform="translate(1718 789.7) rotate(0) translate(-13.6 0)"><text x="0" y="0">FM</text><text class="cs" x="8.1" y="-0.6">甲</text><text x="13.7" y="0">1023'</text></g><g class="st" transform="translate(1774.1 770.7) rotate(0) translate(-11.7 0)"><text x="0" y="0">FJM4130</text></g><g class="st" transform="translate(1795.9 701.8) rotate(-90) translate(-10.1 0)"><text x="0" y="0">M0823a</text></g><g class="st" transform="translate(1901.3 703.5) rotate(0) translate(-13.1 0)"><text x="0" y="0">FM</text><text class="cs" x="8.1" y="-0.6">甲</text><text x="13.7" y="0">1023</text></g><g class="st" transform="translate(1901.3 789.7) rotate(0) translate(-13.6 0)"><text x="0" y="0">FM</text><text class="cs" x="8.1" y="-0.6">甲</text><text x="13.7" y="0">1023'</text></g><g class="st" transform="translate(1871.9 770.7) rotate(0) translate(-11.7 0)"><text x="0" y="0">FJM4130</text></g><g class="st" transform="translate(1880.3 780.7) rotate(0) translate(-14.3 0)"><text x="0" y="0">1-MQ-3F06</text></g><g class="st" transform="translate(1871.9 701.8) rotate(-90) translate(-10.1 0)"><text x="0" y="0">M0823a</text></g><g class="st" transform="translate(1096.4 703.9) rotate(-2.6) translate(-13.1 0)"><text x="0" y="0">FM</text><text class="cs" x="8.1" y="-0.6">甲</text><text x="13.7" y="0">1023</text></g><g class="st" transform="translate(1098.6 790.1) rotate(-2.9) translate(-13.6 0)"><text x="0" y="0">FM</text><text class="cs" x="8.1" y="-0.6">甲</text><text x="13.7" y="0">1023'</text></g><g class="st" transform="translate(1006.5 718.1) rotate(-15.4) translate(-13.1 0)"><text x="0" y="0">FM</text><text class="cs" x="8.1" y="-0.6">甲</text><text x="13.7" y="0">1023</text></g><g class="st" transform="translate(1031.1 800.8) rotate(-15.1) translate(-13.6 0)"><text x="0" y="0">FM</text><text class="cs" x="8.1" y="-0.6">甲</text><text x="13.7" y="0">1023'</text></g><g class="st" transform="translate(1061.2 772.4) rotate(-9) translate(-14.3 0)"><text x="0" y="0">1-MQ-3F01</text></g><g class="st" transform="translate(1059.7 785.3) rotate(-9.6) translate(-11.7 0)"><text x="0" y="0">FJM3830</text></g><g class="st" transform="translate(1073.7 719.6) rotate(-6) translate(-10.1 0)"><text x="0" y="0">M0823a</text></g><g class="st" transform="translate(1033 726.1) rotate(-12) translate(-10.1 0)"><text x="0" y="0">M0823a</text></g><g class="st" transform="translate(972 729.4) rotate(-20.6) translate(-13.1 0)"><text x="0" y="0">FM</text><text class="cs" x="8.1" y="-0.6">甲</text><text x="13.7" y="0">1023</text></g><g class="st" transform="translate(1000.7 810.7) rotate(-20.9) translate(-13.6 0)"><text x="0" y="0">FM</text><text class="cs" x="8.1" y="-0.6">甲</text><text x="13.7" y="0">1023'</text></g><g class="st" transform="translate(890.9 770.7) rotate(-33.4) translate(-13.1 0)"><text x="0" y="0">FM</text><text class="cs" x="8.1" y="-0.6">甲</text><text x="13.7" y="0">1023</text></g><g class="st" transform="translate(939.8 841.7) rotate(-33.1) translate(-13.6 0)"><text x="0" y="0">FM</text><text class="cs" x="8.1" y="-0.6">甲</text><text x="13.7" y="0">1023'</text></g><g class="st" transform="translate(959.7 805.4) rotate(-27) translate(-14.3 0)"><text x="0" y="0">1-MQ-3F01</text></g><g class="st" transform="translate(962.3 818.1) rotate(-27.6) translate(-11.7 0)"><text x="0" y="0">FJM3830</text></g><g class="st" transform="translate(955.3 751.3) rotate(-24) translate(-10.1 0)"><text x="0" y="0">M0823a</text></g><g class="st" transform="translate(918.5 770.1) rotate(-30) translate(-10.1 0)"><text x="0" y="0">M0823a</text></g><g class="st" transform="translate(861.5 792) rotate(-38.6) translate(-13.1 0)"><text x="0" y="0">FM</text><text class="cs" x="8.1" y="-0.6">甲</text><text x="13.7" y="0">1023</text></g><g class="st" transform="translate(913.9 860.5) rotate(-38.9) translate(-13.6 0)"><text x="0" y="0">FM</text><text class="cs" x="8.1" y="-0.6">甲</text><text x="13.7" y="0">1023'</text></g><g class="st" transform="translate(885.9 856.2) rotate(-42.1) translate(-14.3 0)"><text x="0" y="0">1-MQ-3F01</text></g><g class="st" transform="translate(891.7 867.8) rotate(-42.7) translate(-11.7 0)"><text x="0" y="0">FJM3830</text></g><g class="st" transform="translate(775.8 885.8) rotate(-56.6) translate(-13.1 0)"><text x="0" y="0">FM</text><text class="cs" x="8.1" y="-0.6">甲</text><text x="13.7" y="0">1023</text></g><g class="st" transform="translate(846.8 934.7) rotate(-56.9) translate(-13.6 0)"><text x="0" y="0">FM</text><text class="cs" x="8.1" y="-0.6">甲</text><text x="13.7" y="0">1023'</text></g><g class="st" transform="translate(734.5 966.9) rotate(-69.4) translate(-13.1 0)"><text x="0" y="0">FM</text><text class="cs" x="8.1" y="-0.6">甲</text><text x="13.7" y="0">1023</text></g><g class="st" transform="translate(815.8 995.6) rotate(-69.1) translate(-13.6 0)"><text x="0" y="0">FM</text><text class="cs" x="8.1" y="-0.6">甲</text><text x="13.7" y="0">1023'</text></g><g class="st" transform="translate(810.5 954.6) rotate(-63) translate(-14.3 0)"><text x="0" y="0">1-MQ-3F01</text></g><g class="st" transform="translate(820.1 963.3) rotate(-63.6) translate(-11.7 0)"><text x="0" y="0">FJM3830</text></g><g class="st" transform="translate(775.2 913.4) rotate(-60) translate(-10.1 0)"><text x="0" y="0">M0823a</text></g><g class="st" transform="translate(756.4 950.2) rotate(-66) translate(-10.1 0)"><text x="0" y="0">M0823a</text></g><g class="st" transform="translate(1936.5 703.9) rotate(2.6) translate(-13.1 0)"><text x="0" y="0">FM</text><text class="cs" x="8.1" y="-0.6">甲</text><text x="13.7" y="0">1023</text></g><g class="st" transform="translate(1934.3 790.1) rotate(2.9) translate(-13.6 0)"><text x="0" y="0">FM</text><text class="cs" x="8.1" y="-0.6">甲</text><text x="13.7" y="0">1023'</text></g><g class="st" transform="translate(2026.4 718.1) rotate(15.4) translate(-13.1 0)"><text x="0" y="0">FM</text><text class="cs" x="8.1" y="-0.6">甲</text><text x="13.7" y="0">1023</text></g><g class="st" transform="translate(2001.8 800.8) rotate(15.1) translate(-13.6 0)"><text x="0" y="0">FM</text><text class="cs" x="8.1" y="-0.6">甲</text><text x="13.7" y="0">1023'</text></g><g class="st" transform="translate(1971.7 772.4) rotate(9) translate(-14.3 0)"><text x="0" y="0">1-MQ-3F01</text></g><g class="st" transform="translate(1973.2 785.3) rotate(9.6) translate(-11.7 0)"><text x="0" y="0">FJM3830</text></g><g class="st" transform="translate(1959.2 719.6) rotate(6) translate(-10.1 0)"><text x="0" y="0">M0823a</text></g><g class="st" transform="translate(1999.9 726.1) rotate(12) translate(-10.1 0)"><text x="0" y="0">M0823a</text></g><g class="st" transform="translate(2060.9 729.4) rotate(20.6) translate(-13.1 0)"><text x="0" y="0">FM</text><text class="cs" x="8.1" y="-0.6">甲</text><text x="13.7" y="0">1023</text></g><g class="st" transform="translate(2032.2 810.7) rotate(20.9) translate(-13.6 0)"><text x="0" y="0">FM</text><text class="cs" x="8.1" y="-0.6">甲</text><text x="13.7" y="0">1023'</text></g><g class="st" transform="translate(2142 770.7) rotate(33.4) translate(-13.1 0)"><text x="0" y="0">FM</text><text class="cs" x="8.1" y="-0.6">甲</text><text x="13.7" y="0">1023</text></g><g class="st" transform="translate(2093.1 841.7) rotate(33.1) translate(-13.6 0)"><text x="0" y="0">FM</text><text class="cs" x="8.1" y="-0.6">甲</text><text x="13.7" y="0">1023'</text></g><g class="st" transform="translate(2073.2 805.4) rotate(27) translate(-14.3 0)"><text x="0" y="0">1-MQ-3F01</text></g><g class="st" transform="translate(2070.6 818.1) rotate(27.6) translate(-11.7 0)"><text x="0" y="0">FJM3830</text></g><g class="st" transform="translate(2077.6 751.3) rotate(24) translate(-10.1 0)"><text x="0" y="0">M0823a</text></g><g class="st" transform="translate(2114.4 770.1) rotate(30) translate(-10.1 0)"><text x="0" y="0">M0823a</text></g><g class="st" transform="translate(2171.4 792) rotate(38.6) translate(-13.1 0)"><text x="0" y="0">FM</text><text class="cs" x="8.1" y="-0.6">甲</text><text x="13.7" y="0">1023</text></g><g class="st" transform="translate(2119 860.5) rotate(38.9) translate(-13.6 0)"><text x="0" y="0">FM</text><text class="cs" x="8.1" y="-0.6">甲</text><text x="13.7" y="0">1023'</text></g><g class="st" transform="translate(2147 856.2) rotate(42.1) translate(-14.3 0)"><text x="0" y="0">1-MQ-3F01</text></g><g class="st" transform="translate(2141.2 867.8) rotate(42.7) translate(-11.7 0)"><text x="0" y="0">FJM3830</text></g><g class="st" transform="translate(2257.1 885.8) rotate(56.6) translate(-13.1 0)"><text x="0" y="0">FM</text><text class="cs" x="8.1" y="-0.6">甲</text><text x="13.7" y="0">1023</text></g><g class="st" transform="translate(2186.1 934.7) rotate(56.9) translate(-13.6 0)"><text x="0" y="0">FM</text><text class="cs" x="8.1" y="-0.6">甲</text><text x="13.7" y="0">1023'</text></g><g class="st" transform="translate(2298.4 966.9) rotate(69.4) translate(-13.1 0)"><text x="0" y="0">FM</text><text class="cs" x="8.1" y="-0.6">甲</text><text x="13.7" y="0">1023</text></g><g class="st" transform="translate(2217.1 995.6) rotate(69.1) translate(-13.6 0)"><text x="0" y="0">FM</text><text class="cs" x="8.1" y="-0.6">甲</text><text x="13.7" y="0">1023'</text></g><g class="st" transform="translate(2222.4 954.6) rotate(63) translate(-14.3 0)"><text x="0" y="0">1-MQ-3F01</text></g><g class="st" transform="translate(2212.8 963.3) rotate(63.6) translate(-11.7 0)"><text x="0" y="0">FJM3830</text></g><g class="st" transform="translate(2257.7 913.4) rotate(60) translate(-10.1 0)"><text x="0" y="0">M0823a</text></g><g class="st" transform="translate(2276.5 950.2) rotate(66) translate(-10.1 0)"><text x="0" y="0">M0823a</text></g><path d="M1113.3 781.2L1113.3 697M1115.9 781.2L1115.9 697M1106.6 697H1122.6M1106.6 694.3H1122.6M1106.6 697L1106.6 694.3M1122.6 697L1122.6 694.3M1106.6 783.4H1122.6M1106.6 781.2H1122.6M1106.6 783.4L1106.6 781.2M1122.6 783.4L1122.6 781.2M1137.6 697H1143.9M1137.6 694.3H1143.9M1137.6 697L1137.6 694.3M1143.9 697L1143.9 694.3M1141.3 694.3L1141.3 680.8M1143.9 694.3L1143.9 680.8M1141.3 680.8H1199.2M1143.9 683.4H1199.2M1197.9 771.2L1197.9 683.4M1200.5 771.2L1200.5 683.4M1190.2 781.2H1208.2M1190.2 777.2H1208.2M1190.2 781.2L1190.2 777.2M1208.2 781.2L1208.2 777.2M1165.2 712.5H1199.2M1165.2 709.8H1199.2M1165.2 712.5L1165.2 709.8M1199.2 712.5L1199.2 709.8M1164.9 694.3L1164.9 683.4M1167.5 694.3L1167.5 683.4M1137.6 781.2H1140.1M1137.6 771.2H1140.1M1137.6 781.2L1137.6 771.2M1140.1 781.2L1140.1 771.2M1282.5 781.2L1282.5 697M1285.1 781.2L1285.1 697M1291.8 697H1275.8M1291.8 694.3H1275.8M1291.8 697L1291.8 694.3M1275.8 697L1275.8 694.3M1291.8 783.4H1275.8M1291.8 781.2H1275.8M1291.8 783.4L1291.8 781.2M1275.8 783.4L1275.8 781.2M1260.8 697H1254.5M1260.8 694.3H1254.5M1260.8 697L1260.8 694.3M1254.5 697L1254.5 694.3M1254.5 694.3L1254.5 680.8M1257.1 694.3L1257.1 680.8M1257.1 680.8H1199.2M1254.5 683.4H1199.2M1233.2 712.5H1199.2M1233.2 709.8H1199.2M1233.2 712.5L1233.2 709.8M1199.2 712.5L1199.2 709.8M1230.9 694.3L1230.9 683.4M1233.5 694.3L1233.5 683.4M1260.8 781.2H1258.3M1260.8 771.2H1258.3M1260.8 781.2L1260.8 771.2M1258.3 781.2L1258.3 771.2M1282.5 781.2L1282.5 697M1285.1 781.2L1285.1 697M1275.8 697H1291.8M1275.8 694.3H1291.8M1275.8 697L1275.8 694.3M1291.8 697L1291.8 694.3M1275.8 783.4H1291.8M1275.8 781.2H1291.8M1275.8 783.4L1275.8 781.2M1291.8 783.4L1291.8 781.2M1306.8 697H1313.1M1306.8 694.3H1313.1M1306.8 697L1306.8 694.3M1313.1 697L1313.1 694.3M1310.5 694.3L1310.5 680.8M1313.1 694.3L1313.1 680.8M1310.5 680.8H1368.4M1313.1 683.4H1368.4M1367.1 771.2L1367.1 683.4M1369.7 771.2L1369.7 683.4M1359.4 781.2H1377.4M1359.4 777.2H1377.4M1359.4 781.2L1359.4 777.2M1377.4 781.2L1377.4 777.2M1334.4 712.5H1368.4M1334.4 709.8H1368.4M1334.4 712.5L1334.4 709.8M1368.4 712.5L1368.4 709.8M1334.1 694.3L1334.1 683.4M1336.7 694.3L1336.7 683.4M1306.8 781.2H1309.3M1306.8 771.2H1309.3M1306.8 781.2L1306.8 771.2M1309.3 781.2L1309.3 771.2M1451.7 781.2L1451.7 697M1454.3 781.2L1454.3 697M1461 697H1445M1461 694.3H1445M1461 697L1461 694.3M1445 697L1445 694.3M1461 783.4H1445M1461 781.2H1445M1461 783.4L1461 781.2M1445 783.4L1445 781.2M1430 697H1423.7M1430 694.3H1423.7M1430 697L1430 694.3M1423.7 697L1423.7 694.3M1423.7 694.3L1423.7 680.8M1426.3 694.3L1426.3 680.8M1426.3 680.8H1368.4M1423.7 683.4H1368.4M1402.4 712.5H1368.4M1402.4 709.8H1368.4M1402.4 712.5L1402.4 709.8M1368.4 712.5L1368.4 709.8M1400.1 694.3L1400.1 683.4M1402.7 694.3L1402.7 683.4M1430 781.2H1427.5M1430 771.2H1427.5M1430 781.2L1430 771.2M1427.5 781.2L1427.5 771.2M1550.9 697H1544.6M1550.9 694.3H1544.6M1550.9 697L1550.9 694.3M1544.6 697L1544.6 694.3M1544.6 694.3L1544.6 680.8M1547.2 694.3L1547.2 680.8M1547.2 680.8H1453M1544.6 683.4H1453M1550.9 781.2H1548.4M1550.9 771.2H1548.4M1550.9 781.2L1550.9 771.2M1548.4 781.2L1548.4 771.2M1451.7 781.2L1451.7 680.8M1454.3 781.2L1454.3 680.8M1453 712.5H1486M1453 709.8H1486M1453 712.5L1453 709.8M1486 712.5L1486 709.8M1484.7 696.8L1484.7 683.4M1487.3 696.8L1487.3 683.4M1724 697H1730.3M1724 694.3H1730.3M1724 697L1724 694.3M1730.3 697L1730.3 694.3M1727.7 694.3L1727.7 680.8M1730.3 694.3L1730.3 680.8M1727.7 680.8H1833.9M1730.3 683.4H1833.9M1832.6 771.2L1832.6 683.4M1835.2 771.2L1835.2 683.4M1824.9 781.2H1842.9M1824.9 777.2H1842.9M1824.9 781.2L1824.9 777.2M1842.9 781.2L1842.9 777.2M1799.9 712.5H1833.9M1799.9 709.8H1833.9M1799.9 712.5L1799.9 709.8M1833.9 712.5L1833.9 709.8M1799.6 694.3L1799.6 683.4M1802.2 694.3L1802.2 683.4M1724 781.2H1726.5M1724 771.2H1726.5M1724 781.2L1724 771.2M1726.5 781.2L1726.5 771.2M1917 781.2L1917 697M1919.6 781.2L1919.6 697M1926.3 697H1910.3M1926.3 694.3H1910.3M1926.3 697L1926.3 694.3M1910.3 697L1910.3 694.3M1926.3 783.4H1910.3M1926.3 781.2H1910.3M1926.3 783.4L1926.3 781.2M1910.3 783.4L1910.3 781.2M1895.3 697H1889M1895.3 694.3H1889M1895.3 697L1895.3 694.3M1889 697L1889 694.3M1889 694.3L1889 680.8M1891.6 694.3L1891.6 680.8M1891.6 680.8H1833.9M1889 683.4H1833.9M1867.9 712.5H1833.9M1867.9 709.8H1833.9M1867.9 712.5L1867.9 709.8M1833.9 712.5L1833.9 709.8M1865.6 694.3L1865.6 683.4M1868.2 694.3L1868.2 683.4M1895.3 781.2H1892.8M1895.3 771.2H1892.8M1895.3 781.2L1895.3 771.2M1892.8 781.2L1892.8 771.2M1115.7 781.2L1116 697M1113.5 781.2L1113.2 697M1123.3 697.1A412.5 412.5 0 0 0 1105.9 697.1M1123.3 694.4A415.2 415.2 0 0 0 1105.9 694.4M1123.3 697.1L1123.3 694.4M1105.9 697.1L1105.9 694.4M1121.5 783.5A326.1 326.1 0 0 0 1107.7 783.5M1121.5 781.3A328.3 328.3 0 0 0 1107.7 781.3M1121.5 783.5L1121.5 781.3M1107.7 783.5L1107.7 781.3M1089.6 697.8A412.5 412.5 0 0 0 1082.8 698.2M1089.5 695.1A415.2 415.2 0 0 0 1082.6 695.5M1089.6 697.8L1089.5 695.1M1082.8 698.2L1082.6 695.5M1085.5 695.3L1084.5 681.9M1082.6 695.5L1081.6 682.1M1094.7 781.8A328.3 328.3 0 0 0 1092.6 781.9M1094.1 771.8A338.3 338.3 0 0 0 1091.9 772M1094.7 781.8L1094.1 771.8M1092.6 781.9L1091.9 772M1017.7 708.5A412.5 412.5 0 0 0 1011.1 710.2M1017.1 705.9A415.2 415.2 0 0 0 1010.4 707.6M1017.7 708.5L1017.1 705.9M1011.1 710.2L1010.4 707.6M1017.1 705.9L1013.9 692.8M1014.3 706.6L1011.1 693.5M1034.3 791.2A328.3 328.3 0 0 0 1032.2 791.7M1031.9 781.5A338.3 338.3 0 0 0 1029.7 782M1034.3 791.2L1031.9 781.5M1032.2 791.7L1029.7 782M1084.5 681.9A428.7 428.7 0 0 0 1011.1 693.5M1081.8 684.7A426.1 426.1 0 0 0 1014.5 695.3M1083.6 713.7A397 397 0 0 0 1021.8 723.5M1083.4 711A399.7 399.7 0 0 0 1021.1 720.9M1083.6 713.7L1083.4 711M1021.8 723.5L1021.1 720.9M1053.4 714.5L1049.4 688.4M1050.7 714.9L1046.5 688.9M1082.4 694.5L1081.7 684.7M1079.6 694.8L1078.8 684.9M1019.7 704.3L1017.5 694.6M1017 704.9L1014.6 695.3M1014.2 796.9L988.5 716.8M1012.1 797.6L985.8 717.6M995.4 714.6A412.5 412.5 0 0 0 978.9 720M994.6 712A415.2 415.2 0 0 0 978 717.4M995.4 714.6L994.6 712M978.9 720L978 717.4M1020.4 797.3A326.1 326.1 0 0 0 1007.3 801.6M1019.7 795.2A328.3 328.3 0 0 0 1006.6 799.5M1020.4 797.3L1019.7 795.2M1007.3 801.6L1006.6 799.5M963.6 725.6A412.5 412.5 0 0 0 957.3 728.2M962.6 723.1A415.2 415.2 0 0 0 956.3 725.7M963.6 725.6L962.6 723.1M957.3 728.2L956.3 725.7M958.9 724.6L953.8 712.1M956.3 725.7L951.1 713.2M994.4 804A328.3 328.3 0 0 0 992.4 804.8M990.8 794.7A338.3 338.3 0 0 0 988.7 795.5M994.4 804L990.8 794.7M992.4 804.8L988.7 795.5M898.6 758.1A412.5 412.5 0 0 0 892.8 761.7M897.2 755.8A415.2 415.2 0 0 0 891.3 759.4M898.6 758.1L897.2 755.8M892.8 761.7L891.3 759.4M897.2 755.8L890.1 744.3M894.7 757.3L887.6 745.8M939.9 831.6A328.3 328.3 0 0 0 938 832.7M934.6 823.1A338.3 338.3 0 0 0 932.7 824.3M939.9 831.6L934.6 823.1M938 832.7L932.7 824.3M953.8 712.1A428.7 428.7 0 0 0 887.6 745.8M952.1 715.6A426.1 426.1 0 0 0 891.4 746.5M962.8 742.7A397 397 0 0 0 907 771.1M961.8 740.2A399.7 399.7 0 0 0 905.6 768.8M962.8 742.7L961.8 740.2M907 771.1L905.6 768.8M934.4 752.7L922.5 729.2M931.9 754L919.9 730.5M955.8 724.8L952 715.6M953.2 725.9L949.3 716.8M899.1 753.4L894 744.9M896.7 754.9L891.5 746.5M922.5 843.2L873.3 775M920.7 844.6L871 776.6M879.2 770.8A412.5 412.5 0 0 0 865.2 781M877.7 768.5A415.2 415.2 0 0 0 863.5 778.8M879.2 770.8L877.7 768.5M865.2 781L863.5 778.8M928.5 841.7A326.1 326.1 0 0 0 917.4 849.8M927.3 839.9A328.3 328.3 0 0 0 916.1 848M928.5 841.7L927.3 839.9M917.4 849.8L916.1 848M852.4 791.1A412.5 412.5 0 0 0 847.2 795.4M850.7 789A415.2 415.2 0 0 0 845.4 793.4M852.4 791.1L850.7 789M847.2 795.4L845.4 793.4M847.6 791.6L838.9 781.2M845.4 793.4L836.6 783.1M905.9 856.1A328.3 328.3 0 0 0 904.3 857.4M899.6 848.3A338.3 338.3 0 0 0 897.8 849.8M905.9 856.1L899.6 848.3M904.3 857.4L897.8 849.8M838.9 781.2A428.7 428.7 0 0 0 794.2 824.7M838.3 785.1A426.1 426.1 0 0 0 798.1 824.2M843.6 819.3A397 397 0 0 0 818.8 844.7M841.8 817.4A399.7 399.7 0 0 0 816.8 842.9M843.6 819.3L841.8 817.4M818.8 844.7L816.8 842.9M831.5 805.8L824 797.8M829.4 807.8L821.9 799.8M864.8 884.3L797 823.2M863.3 886.1L795 825.4M797.9 826A425 425 0 0 0 770.8 859.7M796 824.3A427.6 427.6 0 0 0 768.7 858.2M797.9 826L796 824.3M770.8 859.7L768.7 858.2M849.7 915.6L769.5 857M848.3 917.4L767.8 859.3M854.9 912.3A326.1 326.1 0 0 0 846.8 923.4M853.1 911A328.3 328.3 0 0 0 845 922.2M854.9 912.3L853.1 911M846.8 923.4L845 922.2M849.7 915.6L781.7 865.9M848.3 917.4L780.1 868.2M786.1 860.1A412.5 412.5 0 0 0 775.9 874.1M783.9 858.4A415.2 415.2 0 0 0 773.6 872.6M786.1 860.1L783.9 858.4M775.9 874.1L773.6 872.6M854.9 912.3A326.1 326.1 0 0 0 846.8 923.4M853.1 911A328.3 328.3 0 0 0 845 922.2M854.9 912.3L853.1 911M846.8 923.4L845 922.2M766.8 887.7A412.5 412.5 0 0 0 763.2 893.5M764.5 886.2A415.2 415.2 0 0 0 760.9 892.1M766.8 887.7L764.5 886.2M763.2 893.5L760.9 892.1M762.4 889.6L750.9 882.5M760.9 892.1L749.4 885M837.8 932.9A328.3 328.3 0 0 0 836.7 934.8M829.4 927.6A338.3 338.3 0 0 0 828.2 929.5M837.8 932.9L829.4 927.6M836.7 934.8L828.2 929.5M733.3 952.2A412.5 412.5 0 0 0 730.7 958.5M730.8 951.2A415.2 415.2 0 0 0 728.2 957.5M733.3 952.2L730.8 951.2M730.7 958.5L728.2 957.5M730.8 951.2L718.3 946M729.7 953.8L717.2 948.7M809.9 987.3A328.3 328.3 0 0 0 809.1 989.3M800.6 983.6A338.3 338.3 0 0 0 799.8 985.7M809.9 987.3L800.6 983.6M809.1 989.3L799.8 985.7M750.9 882.5A428.7 428.7 0 0 0 717.2 948.7M751.6 886.3A426.1 426.1 0 0 0 720.7 947M776.2 901.9A397 397 0 0 0 747.8 957.7M773.9 900.5A399.7 399.7 0 0 0 745.3 956.7M776.2 901.9L773.9 900.5M747.8 957.7L745.3 956.7M759.1 926.8L735.6 914.8M757.8 929.3L734.3 917.4M760 891.6L751.6 886.4M758.5 894L750 888.9M731 948.1L721.9 944.2M729.9 950.7L720.7 946.9M802.7 1007L722.7 980.7M802 1009.1L721.9 983.4M725.1 973.8A412.5 412.5 0 0 0 719.7 990.3M722.5 972.9A415.2 415.2 0 0 0 717.1 989.5M725.1 973.8L722.5 972.9M719.7 990.3L717.1 989.5M806.7 1002.2A326.1 326.1 0 0 0 802.4 1015.3M804.6 1001.5A328.3 328.3 0 0 0 800.3 1014.6M806.7 1002.2L804.6 1001.5M802.4 1015.3L800.3 1014.6M1917.2 781.2L1916.9 697M1919.4 781.2L1919.7 697M1909.6 697.1A412.5 412.5 0 0 1 1927 697.1M1909.6 694.4A415.2 415.2 0 0 1 1927 694.4M1909.6 697.1L1909.6 694.4M1927 697.1L1927 694.4M1911.4 783.5A326.1 326.1 0 0 1 1925.2 783.5M1911.4 781.3A328.3 328.3 0 0 1 1925.2 781.3M1911.4 783.5L1911.4 781.3M1925.2 783.5L1925.2 781.3M1943.3 697.8A412.5 412.5 0 0 1 1950.1 698.2M1943.4 695.1A415.2 415.2 0 0 1 1950.3 695.5M1943.3 697.8L1943.4 695.1M1950.1 698.2L1950.3 695.5M1947.4 695.3L1948.4 681.9M1950.3 695.5L1951.3 682.1M1938.2 781.8A328.3 328.3 0 0 1 1940.3 781.9M1938.8 771.8A338.3 338.3 0 0 1 1941 772M1938.2 781.8L1938.8 771.8M1940.3 781.9L1941 772M2015.2 708.5A412.5 412.5 0 0 1 2021.8 710.2M2015.8 705.9A415.2 415.2 0 0 1 2022.5 707.6M2015.2 708.5L2015.8 705.9M2021.8 710.2L2022.5 707.6M2015.8 705.9L2019 692.8M2018.6 706.6L2021.8 693.5M1998.6 791.2A328.3 328.3 0 0 1 2000.7 791.7M2001 781.5A338.3 338.3 0 0 1 2003.2 782M1998.6 791.2L2001 781.5M2000.7 791.7L2003.2 782M1948.4 681.9A428.7 428.7 0 0 1 2021.8 693.5M1951.1 684.7A426.1 426.1 0 0 1 2018.4 695.3M1949.3 713.7A397 397 0 0 1 2011.1 723.5M1949.5 711A399.7 399.7 0 0 1 2011.8 720.9M1949.3 713.7L1949.5 711M2011.1 723.5L2011.8 720.9M1979.5 714.5L1983.5 688.4M1982.2 714.9L1986.4 688.9M1950.5 694.5L1951.2 684.7M1953.3 694.8L1954.1 684.9M2013.2 704.3L2015.4 694.6M2015.9 704.9L2018.3 695.3M2018.7 796.9L2044.4 716.8M2020.8 797.6L2047.1 717.6M2037.5 714.6A412.5 412.5 0 0 1 2054 720M2038.3 712A415.2 415.2 0 0 1 2054.9 717.4M2037.5 714.6L2038.3 712M2054 720L2054.9 717.4M2012.5 797.3A326.1 326.1 0 0 1 2025.6 801.6M2013.2 795.2A328.3 328.3 0 0 1 2026.3 799.5M2012.5 797.3L2013.2 795.2M2025.6 801.6L2026.3 799.5M2069.3 725.6A412.5 412.5 0 0 1 2075.6 728.2M2070.3 723.1A415.2 415.2 0 0 1 2076.6 725.7M2069.3 725.6L2070.3 723.1M2075.6 728.2L2076.6 725.7M2074 724.6L2079.1 712.1M2076.6 725.7L2081.8 713.2M2038.5 804A328.3 328.3 0 0 1 2040.5 804.8M2042.1 794.7A338.3 338.3 0 0 1 2044.2 795.5M2038.5 804L2042.1 794.7M2040.5 804.8L2044.2 795.5M2134.3 758.1A412.5 412.5 0 0 1 2140.1 761.7M2135.7 755.8A415.2 415.2 0 0 1 2141.6 759.4M2134.3 758.1L2135.7 755.8M2140.1 761.7L2141.6 759.4M2135.7 755.8L2142.8 744.3M2138.2 757.3L2145.3 745.8M2093 831.6A328.3 328.3 0 0 1 2094.9 832.7M2098.3 823.1A338.3 338.3 0 0 1 2100.2 824.3M2093 831.6L2098.3 823.1M2094.9 832.7L2100.2 824.3M2079.1 712.1A428.7 428.7 0 0 1 2145.3 745.8M2080.8 715.6A426.1 426.1 0 0 1 2141.5 746.5M2070.1 742.7A397 397 0 0 1 2125.9 771.1M2071.1 740.2A399.7 399.7 0 0 1 2127.3 768.8M2070.1 742.7L2071.1 740.2M2125.9 771.1L2127.3 768.8M2098.5 752.7L2110.4 729.2M2101 754L2113 730.5M2077.1 724.8L2080.9 715.6M2079.7 725.9L2083.6 716.8M2133.8 753.4L2138.9 744.9M2136.2 754.9L2141.4 746.5M2110.4 843.2L2159.6 775M2112.2 844.6L2161.9 776.6M2153.7 770.8A412.5 412.5 0 0 1 2167.7 781M2155.2 768.5A415.2 415.2 0 0 1 2169.4 778.8M2153.7 770.8L2155.2 768.5M2167.7 781L2169.4 778.8M2104.4 841.7A326.1 326.1 0 0 1 2115.5 849.8M2105.6 839.9A328.3 328.3 0 0 1 2116.8 848M2104.4 841.7L2105.6 839.9M2115.5 849.8L2116.8 848M2180.5 791.1A412.5 412.5 0 0 1 2185.7 795.4M2182.2 789A415.2 415.2 0 0 1 2187.5 793.4M2180.5 791.1L2182.2 789M2185.7 795.4L2187.5 793.4M2185.3 791.6L2194 781.2M2187.5 793.4L2196.3 783.1M2127 856.1A328.3 328.3 0 0 1 2128.6 857.4M2133.3 848.3A338.3 338.3 0 0 1 2135.1 849.8M2127 856.1L2133.3 848.3M2128.6 857.4L2135.1 849.8M2194 781.2A428.7 428.7 0 0 1 2238.7 824.7M2194.6 785.1A426.1 426.1 0 0 1 2234.8 824.2M2189.3 819.3A397 397 0 0 1 2214.1 844.7M2191.1 817.4A399.7 399.7 0 0 1 2216.1 842.9M2189.3 819.3L2191.1 817.4M2214.1 844.7L2216.1 842.9M2201.4 805.8L2208.9 797.8M2203.5 807.8L2211 799.8M2168.1 884.3L2235.9 823.2M2169.6 886.1L2237.9 825.4M2235 826A425 425 0 0 1 2262.1 859.7M2236.9 824.3A427.6 427.6 0 0 1 2264.2 858.2M2235 826L2236.9 824.3M2262.1 859.7L2264.2 858.2M2183.2 915.6L2263.4 857M2184.6 917.4L2265.1 859.3M2178 912.3A326.1 326.1 0 0 1 2186.1 923.4M2179.8 911A328.3 328.3 0 0 1 2187.9 922.2M2178 912.3L2179.8 911M2186.1 923.4L2187.9 922.2M2183.2 915.6L2251.2 865.9M2184.6 917.4L2252.8 868.2M2246.8 860.1A412.5 412.5 0 0 1 2257 874.1M2249 858.4A415.2 415.2 0 0 1 2259.3 872.6M2246.8 860.1L2249 858.4M2257 874.1L2259.3 872.6M2178 912.3A326.1 326.1 0 0 1 2186.1 923.4M2179.8 911A328.3 328.3 0 0 1 2187.9 922.2M2178 912.3L2179.8 911M2186.1 923.4L2187.9 922.2M2266.1 887.7A412.5 412.5 0 0 1 2269.7 893.5M2268.4 886.2A415.2 415.2 0 0 1 2272 892.1M2266.1 887.7L2268.4 886.2M2269.7 893.5L2272 892.1M2270.5 889.6L2282 882.5M2272 892.1L2283.5 885M2195.1 932.9A328.3 328.3 0 0 1 2196.2 934.8M2203.5 927.6A338.3 338.3 0 0 1 2204.7 929.5M2195.1 932.9L2203.5 927.6M2196.2 934.8L2204.7 929.5M2299.6 952.2A412.5 412.5 0 0 1 2302.2 958.5M2302.1 951.2A415.2 415.2 0 0 1 2304.7 957.5M2299.6 952.2L2302.1 951.2M2302.2 958.5L2304.7 957.5M2302.1 951.2L2314.6 946M2303.2 953.8L2315.7 948.7M2223 987.3A328.3 328.3 0 0 1 2223.8 989.3M2232.3 983.6A338.3 338.3 0 0 1 2233.1 985.7M2223 987.3L2232.3 983.6M2223.8 989.3L2233.1 985.7M2282 882.5A428.7 428.7 0 0 1 2315.7 948.7M2281.3 886.3A426.1 426.1 0 0 1 2312.2 947M2256.7 901.9A397 397 0 0 1 2285.1 957.7M2259 900.5A399.7 399.7 0 0 1 2287.6 956.7M2256.7 901.9L2259 900.5M2285.1 957.7L2287.6 956.7M2273.8 926.8L2297.3 914.8M2275.1 929.3L2298.6 917.4M2272.9 891.6L2281.3 886.4M2274.4 894L2282.9 888.9M2301.9 948.1L2311 944.2M2303 950.7L2312.2 946.9M2230.2 1007L2310.2 980.7M2230.9 1009.1L2311 983.4M2307.8 973.8A412.5 412.5 0 0 1 2313.2 990.3M2310.4 972.9A415.2 415.2 0 0 1 2315.8 989.5M2307.8 973.8L2310.4 972.9M2313.2 990.3L2315.8 989.5M2226.2 1002.2A326.1 326.1 0 0 1 2230.5 1015.3M2228.3 1001.5A328.3 328.3 0 0 1 2232.6 1014.6M2226.2 1002.2L2228.3 1001.5M2230.5 1015.3L2232.6 1014.6" class="bw"/><path d="M1137.6 695.7L1137.6 680.7A15 15 0 0 0 1122.6 695.7M1166.2 709.8L1166.2 696.8A13 13 0 0 0 1153.2 709.8M1122.6 773.2H1190.2M1122.6 781.2H1190.2M1137.6 773.2L1137.6 758.2A15 15 0 0 0 1122.6 773.2M1260.8 695.7L1260.8 680.7A15 15 0 0 1 1275.8 695.7M1232.2 709.8L1232.2 696.8A13 13 0 0 1 1245.2 709.8M1275.8 773.2H1207.2M1275.8 781.2H1207.2M1260.8 773.2L1260.8 758.2A15 15 0 0 1 1275.8 773.2M1306.8 695.7L1306.8 680.7A15 15 0 0 0 1291.8 695.7M1335.4 709.8L1335.4 696.8A13 13 0 0 0 1322.4 709.8M1291.8 773.2H1359.4M1291.8 781.2H1359.4M1306.8 773.2L1306.8 758.2A15 15 0 0 0 1291.8 773.2M1430 695.7L1430 680.7A15 15 0 0 1 1445 695.7M1401.4 709.8L1401.4 696.8A13 13 0 0 1 1414.4 709.8M1445 773.2H1376.4M1445 781.2H1376.4M1430 773.2L1430 758.2A15 15 0 0 1 1445 773.2M1550.9 695.7L1550.9 680.7A15 15 0 0 1 1565.9 695.7M1565.9 773.2H1461M1565.9 781.2H1461M1550.9 773.2L1550.9 758.2A15 15 0 0 1 1565.9 773.2M1486 709.8L1486 696.8A13 13 0 0 0 1473 709.8M1724 695.7L1724 680.7A15 15 0 0 0 1709 695.7M1800.9 709.8L1800.9 696.8A13 13 0 0 0 1787.9 709.8M1709 773.2H1824.9M1709 781.2H1824.9M1724 773.2L1724 758.2A15 15 0 0 0 1709 773.2M1895.3 695.7L1895.3 680.7A15 15 0 0 1 1910.3 695.7M1866.9 709.8L1866.9 696.8A13 13 0 0 1 1879.9 709.8M1910.3 773.2H1841.9M1910.3 781.2H1841.9M1895.3 773.2L1895.3 758.2A15 15 0 0 1 1910.3 773.2M1089.6 696.5L1088.7 681.5A15 15 0 0 1 1105.9 695.8M1094.3 773.8L1093.4 758.8A15 15 0 0 1 1107.5 773.3M1010.8 708.9L1007 694.4A15 15 0 0 0 995 713.3M1030.2 784L1026.5 769.4A15 15 0 0 0 1017.4 787.5M1082.4 711.1L1081.3 698.1A13 13 0 0 1 1096 710.2M1022.2 720.6L1019.1 708A13 13 0 0 0 1008.9 724M1107.5 773.3A336.3 336.3 0 0 0 1017.4 787.5M1107.7 781.3A328.3 328.3 0 0 0 1019.7 795.2M963.2 724.4L957.7 710.4A15 15 0 0 1 978.5 718.7M991.5 796.5L986 782.6A15 15 0 0 1 1004 791.9M892.1 760.6L884 748A15 15 0 0 0 878.5 769.7M933.7 826L925.7 813.3A15 15 0 0 0 922.7 833.3M960.8 740.6L955.8 728.6A13 13 0 0 1 973.5 735.5M906.5 768.2L899.7 757.1A13 13 0 0 0 895 775.6M1004 791.9A336.3 336.3 0 0 0 922.7 833.3M1006.6 799.5A328.3 328.3 0 0 0 927.3 839.9M851.6 790.1L842 778.5A15 15 0 0 1 864.4 779.9M900.8 849.9L891.3 838.3A15 15 0 0 1 911.2 841.6M841 818.1L832.1 808.6A13 13 0 0 1 851.2 808.9M911.2 841.6A336.3 336.3 0 0 0 868.8 880M916.1 848A328.3 328.3 0 0 0 874.7 885.4M856.6 884.6L798 833.5L777.4 859.1M765.7 887L753.1 878.9A15 15 0 0 1 774.8 873.4M831.1 928.6L818.4 920.6A15 15 0 0 1 838.4 917.6M729.5 958.1L715.5 952.6A15 15 0 0 0 723.8 973.4M801.6 986.4L787.7 980.9A15 15 0 0 0 797 998.9M773.3 901.4L762.2 894.6A13 13 0 0 1 780.7 889.9M745.7 955.7L733.7 950.7A13 13 0 0 0 740.6 968.4M838.4 917.6A336.3 336.3 0 0 0 797 998.9M845 922.2A328.3 328.3 0 0 0 804.6 1001.5M1943.3 696.5L1944.2 681.5A15 15 0 0 0 1927 695.8M1938.6 773.8L1939.5 758.8A15 15 0 0 0 1925.4 773.3M2022.1 708.9L2025.9 694.4A15 15 0 0 1 2037.9 713.3M2002.7 784L2006.4 769.4A15 15 0 0 1 2015.5 787.5M1950.5 711.1L1951.6 698.1A13 13 0 0 0 1936.9 710.2M2010.7 720.6L2013.8 708A13 13 0 0 1 2024 724M1925.4 773.3A336.3 336.3 0 0 1 2015.5 787.5M1925.2 781.3A328.3 328.3 0 0 1 2013.2 795.2M2069.7 724.4L2075.2 710.4A15 15 0 0 0 2054.4 718.7M2041.4 796.5L2046.9 782.6A15 15 0 0 0 2028.9 791.9M2140.8 760.6L2148.9 748A15 15 0 0 1 2154.4 769.7M2099.2 826L2107.2 813.3A15 15 0 0 1 2110.2 833.3M2072.1 740.6L2077.1 728.6A13 13 0 0 0 2059.4 735.5M2126.4 768.2L2133.2 757.1A13 13 0 0 1 2137.9 775.6M2028.9 791.9A336.3 336.3 0 0 1 2110.2 833.3M2026.3 799.5A328.3 328.3 0 0 1 2105.6 839.9M2181.3 790.1L2190.9 778.5A15 15 0 0 0 2168.5 779.9M2132.1 849.9L2141.6 838.3A15 15 0 0 0 2121.7 841.6M2191.9 818.1L2200.8 808.6A13 13 0 0 0 2181.7 808.9M2121.7 841.6A336.3 336.3 0 0 1 2164.1 880M2116.8 848A328.3 328.3 0 0 1 2158.2 885.4M2176.3 884.6L2234.9 833.5L2255.5 859.1M2267.2 887L2279.8 878.9A15 15 0 0 0 2258.1 873.4M2201.8 928.6L2214.5 920.6A15 15 0 0 0 2194.5 917.6M2303.4 958.1L2317.4 952.6A15 15 0 0 1 2309.1 973.4M2231.3 986.4L2245.2 980.9A15 15 0 0 1 2235.9 998.9M2259.6 901.4L2270.7 894.6A13 13 0 0 0 2252.2 889.9M2287.2 955.7L2299.2 950.7A13 13 0 0 1 2292.3 968.4M2194.5 917.6A336.3 336.3 0 0 1 2235.9 998.9M2187.9 922.2A328.3 328.3 0 0 1 2228.3 1001.5" class="t0"/><path d="M1141.6 776.9H1193.2M1256.8 776.9H1205.2M1310.8 776.9H1362.4M1426 776.9H1374.4M1546.9 776.9H1459M1728 776.9H1827.9M1891.3 776.9H1839.9M1091 777.7A332.6 332.6 0 0 0 1034.5 786.7M989.6 801.3A332.6 332.6 0 0 0 938.7 827.2M900.5 855A332.6 332.6 0 0 0 870.3 883.8M832.3 933.6A332.6 332.6 0 0 0 806.4 984.5M1941.9 777.7A332.6 332.6 0 0 1 1998.4 786.7M2043.3 801.3A332.6 332.6 0 0 1 2094.2 827.2M2132.4 855A332.6 332.6 0 0 1 2162.6 883.8M2200.6 933.6A332.6 332.6 0 0 1 2226.5 984.5" class="t15" style="stroke:#777;stroke-width:1.8"/><rect x="1575" y="680.8" width="126" height="97.4" class="t1" style="fill:url(#sq3)"/><rect x="1577.6" y="683.4" width="120.8" height="92.4" class="t0"/><rect x="1579" y="684.8" width="50" height="35" class="t1" style="fill:url(#sq3)"/><rect x="1633" y="694.8" width="30" height="25" class="t1" style="fill:url(#sq3)"/><rect x="1667" y="694.8" width="30" height="25" class="t1" style="fill:url(#sq3)"/><rect x="1668" y="704.8" width="5" height="10" fill="#111"/><rect x="1691" y="690.8" width="8" height="5" fill="#111"/><rect x="1613" y="723.8" width="85" height="44" class="t1" style="fill:#fff"/><path d="M1615 724.8v42M1618.6 724.8v42M1622.2 724.8v42M1625.8 724.8v42M1629.4 724.8v42M1633 724.8v42M1636.6 724.8v42M1640.2 724.8v42M1643.8 724.8v42M1647.4 724.8v42M1651 724.8v42M1654.6 724.8v42M1658.2 724.8v42M1661.8 724.8v42M1665.4 724.8v42M1669 724.8v42M1672.6 724.8v42M1676.2 724.8v42M1679.8 724.8v42M1683.4 724.8v42M1687 724.8v42M1690.6 724.8v42" class="tl" style="stroke:#666"/><rect x="1615" y="742.8" width="60" height="3.5" class="t0" style="fill:#fff"/><rect x="1575" y="770.2" width="11" height="11" class="col"/><path d="M1583 684.8v9a9 9 0 0 0 9 -9M1583 723.8v9a9 9 0 0 0 9 -9" class="t0"/><path d="M1114.6 781.2V816.5M1283.8 781.2V816.5M1453 781.2V816.5M1579.9 781.2V816.5M1749.1 781.2V816.5M1918.3 781.2V816.5M1199.2 787.2V816.5M1368.4 787.2V816.5M1833.9 787.2V816.5M1636 787.2V816.5M1013.1 797.3L1024.1 830.8M921.6 843.9L942.4 872.5M849 916.5L877.6 937.3M802.4 1008L835.9 1019M2019.8 797.3L2008.8 830.8M2111.3 843.9L2090.5 872.5M2183.9 916.5L2155.3 937.3M2230.5 1008L2197 1019" class="t1"/><path d="M792 1007.5 L702.7 979.3 L692.5 1017.7 L780.1 1036.8 Z" class="t15" style="fill:url(#xh2)"/><path d="M789.5 1009 L704.2 982.7 L695.5 1015.5 L778.7 1034.1 Z" class="t0"/><path d="M2240.9 1007.5 L2330.2 979.3 L2340.4 1017.7 L2252.8 1036.8 Z" class="t15" style="fill:url(#xh2)"/><path d="M2243.4 1009 L2328.7 982.7 L2337.4 1015.5 L2254.2 1034.1 Z" class="t0"/><path d="M785.3 1109.5V1279.2M778.3 1109.5V1279.2" class="t0"/><line x1="781.8" y1="1117.5" x2="781.8" y2="1163.5" class="t15" style="stroke:#777;stroke-width:1.6"/><line x1="781.8" y1="1209.5" x2="781.8" y2="1279.2" class="t15" style="stroke:#777;stroke-width:1.6"/><rect x="770.3" y="1165" width="15" height="3" class="bw"/><rect x="783.8" y="1160.5" width="3" height="7.5" class="bw"/><rect x="770.3" y="1201" width="15" height="3" class="bw"/><rect x="783.8" y="1202.5" width="3" height="7.5" class="bw"/><path d="M778.3 1169.5h-8a9 9 0 0 0 8 14M778.3 1199.5h-8a9 9 0 0 1 8 -14" class="t0"/><path d="M814.6 1179.5h-12M814.6 1183.5h-12M814.6 1187.5h-12M814.6 1191.5h-12M814.6 1195.5h-12M814.6 1179.5v16M802.6 1179.5v16" class="t0"/><path d="M2247.6 1109.5V1279.2M2254.6 1109.5V1279.2" class="t0"/><line x1="2251.1" y1="1117.5" x2="2251.1" y2="1163.5" class="t15" style="stroke:#777;stroke-width:1.6"/><line x1="2251.1" y1="1209.5" x2="2251.1" y2="1279.2" class="t15" style="stroke:#777;stroke-width:1.6"/><rect x="2247.6" y="1165" width="15" height="3" class="bw"/><rect x="2246.1" y="1160.5" width="3" height="7.5" class="bw"/><rect x="2247.6" y="1201" width="15" height="3" class="bw"/><rect x="2246.1" y="1202.5" width="3" height="7.5" class="bw"/><path d="M2254.6 1169.5h8a9 9 0 0 1 -8 14M2254.6 1199.5h8a9 9 0 0 0 -8 -14" class="t0"/><path d="M2218.3 1179.5h12M2218.3 1183.5h12M2218.3 1187.5h12M2218.3 1191.5h12M2218.3 1195.5h12M2218.3 1179.5v16M2230.3 1179.5v16" class="t0"/></g><use href="#th" transform="matrix(1 0 0 -1 0 2557.4)"/>
<line x1="395.5" y1="248.4" x2="395.5" y2="392" class="g"/>
<line x1="395.5" y1="392" x2="395.5" y2="2165" class="gd" style="stroke-dashoffset:37"/>
<line x1="395.5" y1="2165" x2="395.5" y2="2308.5" class="g"/>
<circle cx="395.5" cy="231.4" r="17" class="bub"/>
<text x="395.5" y="240" class="bt" textLength="16" lengthAdjust="spacingAndGlyphs">1-1</text>
<circle cx="395.5" cy="2325.5" r="17" class="bub"/>
<text x="395.5" y="2334.1" class="bt" textLength="16" lengthAdjust="spacingAndGlyphs">1-1</text>
<line x1="522.4" y1="248.4" x2="522.4" y2="392" class="g"/>
<line x1="522.4" y1="392" x2="522.4" y2="2165" class="gd" style="stroke-dashoffset:74"/>
<line x1="522.4" y1="2165" x2="522.4" y2="2308.5" class="g"/>
<circle cx="522.4" cy="231.4" r="17" class="bub"/>
<text x="522.4" y="240" class="bt" textLength="16" lengthAdjust="spacingAndGlyphs">1-2</text>
<circle cx="522.4" cy="2325.5" r="17" class="bub"/>
<text x="522.4" y="2334.1" class="bt" textLength="16" lengthAdjust="spacingAndGlyphs">1-2</text>
<line x1="649.3" y1="248.4" x2="649.3" y2="392" class="g"/>
<line x1="649.3" y1="392" x2="649.3" y2="2165" class="gd" style="stroke-dashoffset:111"/>
<line x1="649.3" y1="2165" x2="649.3" y2="2308.5" class="g"/>
<circle cx="649.3" cy="231.4" r="17" class="bub"/>
<text x="649.3" y="240" class="bt" textLength="16" lengthAdjust="spacingAndGlyphs">1-3</text>
<circle cx="649.3" cy="2325.5" r="17" class="bub"/>
<text x="649.3" y="2334.1" class="bt" textLength="16" lengthAdjust="spacingAndGlyphs">1-3</text>
<line x1="776.2" y1="248.4" x2="776.2" y2="392" class="g"/>
<line x1="776.2" y1="392" x2="776.2" y2="2165" class="gd" style="stroke-dashoffset:6"/>
<line x1="776.2" y1="2165" x2="776.2" y2="2308.5" class="g"/>
<circle cx="776.2" cy="231.4" r="17" class="bub"/>
<text x="776.2" y="240" class="bt" textLength="16" lengthAdjust="spacingAndGlyphs">1-4</text>
<circle cx="776.2" cy="2325.5" r="17" class="bub"/>
<text x="776.2" y="2334.1" class="bt" textLength="16" lengthAdjust="spacingAndGlyphs">1-4</text>
<line x1="945.4" y1="248.4" x2="945.4" y2="392" class="g"/>
<line x1="945.4" y1="392" x2="945.4" y2="2165" class="gd" style="stroke-dashoffset:43"/>
<line x1="945.4" y1="2165" x2="945.4" y2="2308.5" class="g"/>
<circle cx="945.4" cy="231.4" r="17" class="bub"/>
<text x="945.4" y="240" class="bt" textLength="16" lengthAdjust="spacingAndGlyphs">1-5</text>
<circle cx="945.4" cy="2325.5" r="17" class="bub"/>
<text x="945.4" y="2334.1" class="bt" textLength="16" lengthAdjust="spacingAndGlyphs">1-5</text>
<line x1="1114.6" y1="248.4" x2="1114.6" y2="392" class="g"/>
<line x1="1114.6" y1="392" x2="1114.6" y2="2165" class="gd" style="stroke-dashoffset:80"/>
<line x1="1114.6" y1="2165" x2="1114.6" y2="2308.5" class="g"/>
<circle cx="1114.6" cy="231.4" r="17" class="bub"/>
<text x="1114.6" y="240" class="bt" textLength="16" lengthAdjust="spacingAndGlyphs">1-6</text>
<circle cx="1114.6" cy="2325.5" r="17" class="bub"/>
<text x="1114.6" y="2334.1" class="bt" textLength="16" lengthAdjust="spacingAndGlyphs">1-6</text>
<line x1="1283.8" y1="248.4" x2="1283.8" y2="392" class="g"/>
<line x1="1283.8" y1="392" x2="1283.8" y2="2165" class="gd" style="stroke-dashoffset:117"/>
<line x1="1283.8" y1="2165" x2="1283.8" y2="2308.5" class="g"/>
<circle cx="1283.8" cy="231.4" r="17" class="bub"/>
<text x="1283.8" y="240" class="bt" textLength="16" lengthAdjust="spacingAndGlyphs">1-7</text>
<circle cx="1283.8" cy="2325.5" r="17" class="bub"/>
<text x="1283.8" y="2334.1" class="bt" textLength="16" lengthAdjust="spacingAndGlyphs">1-7</text>
<line x1="1453" y1="248.4" x2="1453" y2="392" class="g"/>
<line x1="1453" y1="392" x2="1453" y2="2165" class="gd" style="stroke-dashoffset:12"/>
<line x1="1453" y1="2165" x2="1453" y2="2308.5" class="g"/>
<circle cx="1453" cy="231.4" r="17" class="bub"/>
<text x="1453" y="240" class="bt" textLength="16" lengthAdjust="spacingAndGlyphs">1-8</text>
<circle cx="1453" cy="2325.5" r="17" class="bub"/>
<text x="1453" y="2334.1" class="bt" textLength="16" lengthAdjust="spacingAndGlyphs">1-8</text>
<line x1="1579.9" y1="248.4" x2="1579.9" y2="392" class="g"/>
<line x1="1579.9" y1="392" x2="1579.9" y2="2165" class="gd" style="stroke-dashoffset:49"/>
<line x1="1579.9" y1="2165" x2="1579.9" y2="2308.5" class="g"/>
<circle cx="1579.9" cy="231.4" r="17" class="bub"/>
<text x="1579.9" y="240" class="bt" textLength="16" lengthAdjust="spacingAndGlyphs">1-9</text>
<circle cx="1579.9" cy="2325.5" r="17" class="bub"/>
<text x="1579.9" y="2334.1" class="bt" textLength="16" lengthAdjust="spacingAndGlyphs">1-9</text>
<line x1="1749.1" y1="248.4" x2="1749.1" y2="392" class="g"/>
<line x1="1749.1" y1="392" x2="1749.1" y2="2165" class="gd" style="stroke-dashoffset:86"/>
<line x1="1749.1" y1="2165" x2="1749.1" y2="2308.5" class="g"/>
<circle cx="1749.1" cy="231.4" r="17" class="bub"/>
<text x="1749.1" y="240" class="bt" textLength="18.5" lengthAdjust="spacingAndGlyphs">1-10</text>
<circle cx="1749.1" cy="2325.5" r="17" class="bub"/>
<text x="1749.1" y="2334.1" class="bt" textLength="18.5" lengthAdjust="spacingAndGlyphs">1-10</text>
<line x1="1918.3" y1="248.4" x2="1918.3" y2="392" class="g"/>
<line x1="1918.3" y1="392" x2="1918.3" y2="2165" class="gd" style="stroke-dashoffset:123"/>
<line x1="1918.3" y1="2165" x2="1918.3" y2="2308.5" class="g"/>
<circle cx="1918.3" cy="231.4" r="17" class="bub"/>
<text x="1918.3" y="240" class="bt" textLength="18.5" lengthAdjust="spacingAndGlyphs">1-11</text>
<circle cx="1918.3" cy="2325.5" r="17" class="bub"/>
<text x="1918.3" y="2334.1" class="bt" textLength="18.5" lengthAdjust="spacingAndGlyphs">1-11</text>
<line x1="2087.5" y1="248.4" x2="2087.5" y2="392" class="g"/>
<line x1="2087.5" y1="392" x2="2087.5" y2="2165" class="gd" style="stroke-dashoffset:18"/>
<line x1="2087.5" y1="2165" x2="2087.5" y2="2308.5" class="g"/>
<circle cx="2087.5" cy="231.4" r="17" class="bub"/>
<text x="2087.5" y="240" class="bt" textLength="18.5" lengthAdjust="spacingAndGlyphs">1-12</text>
<circle cx="2087.5" cy="2325.5" r="17" class="bub"/>
<text x="2087.5" y="2334.1" class="bt" textLength="18.5" lengthAdjust="spacingAndGlyphs">1-12</text>
<line x1="2256.7" y1="248.4" x2="2256.7" y2="392" class="g"/>
<line x1="2256.7" y1="392" x2="2256.7" y2="2165" class="gd" style="stroke-dashoffset:55"/>
<line x1="2256.7" y1="2165" x2="2256.7" y2="2308.5" class="g"/>
<circle cx="2256.7" cy="231.4" r="17" class="bub"/>
<text x="2256.7" y="240" class="bt" textLength="18.5" lengthAdjust="spacingAndGlyphs">1-13</text>
<circle cx="2256.7" cy="2325.5" r="17" class="bub"/>
<text x="2256.7" y="2334.1" class="bt" textLength="18.5" lengthAdjust="spacingAndGlyphs">1-13</text>
<line x1="2383.6" y1="248.4" x2="2383.6" y2="392" class="g"/>
<line x1="2383.6" y1="392" x2="2383.6" y2="2165" class="gd" style="stroke-dashoffset:92"/>
<line x1="2383.6" y1="2165" x2="2383.6" y2="2308.5" class="g"/>
<circle cx="2383.6" cy="231.4" r="17" class="bub"/>
<text x="2383.6" y="240" class="bt" textLength="18.5" lengthAdjust="spacingAndGlyphs">1-14</text>
<circle cx="2383.6" cy="2325.5" r="17" class="bub"/>
<text x="2383.6" y="2334.1" class="bt" textLength="18.5" lengthAdjust="spacingAndGlyphs">1-14</text>
<line x1="2468.2" y1="248.4" x2="2468.2" y2="392" class="g"/>
<line x1="2468.2" y1="392" x2="2468.2" y2="2165" class="gd" style="stroke-dashoffset:129"/>
<line x1="2468.2" y1="2165" x2="2468.2" y2="2308.5" class="g"/>
<circle cx="2468.2" cy="231.4" r="17" class="bub"/>
<text x="2468.2" y="240" class="bt" textLength="18.5" lengthAdjust="spacingAndGlyphs">1-15</text>
<circle cx="2468.2" cy="2325.5" r="17" class="bub"/>
<text x="2468.2" y="2334.1" class="bt" textLength="18.5" lengthAdjust="spacingAndGlyphs">1-15</text>
<line x1="2573.9" y1="248.4" x2="2573.9" y2="392" class="g"/>
<line x1="2573.9" y1="392" x2="2573.9" y2="2165" class="gd" style="stroke-dashoffset:24"/>
<line x1="2573.9" y1="2165" x2="2573.9" y2="2308.5" class="g"/>
<circle cx="2573.9" cy="231.4" r="17" class="bub"/>
<text x="2573.9" y="240" class="bt" textLength="18.5" lengthAdjust="spacingAndGlyphs">1-16</text>
<circle cx="2573.9" cy="2325.5" r="17" class="bub"/>
<text x="2573.9" y="2334.1" class="bt" textLength="18.5" lengthAdjust="spacingAndGlyphs">1-16</text>
<line x1="2709.3" y1="248.4" x2="2709.3" y2="392" class="g"/>
<line x1="2709.3" y1="392" x2="2709.3" y2="2165" class="gd" style="stroke-dashoffset:61"/>
<line x1="2709.3" y1="2165" x2="2709.3" y2="2308.5" class="g"/>
<circle cx="2709.3" cy="231.4" r="17" class="bub"/>
<text x="2709.3" y="240" class="bt" textLength="18.5" lengthAdjust="spacingAndGlyphs">1-17</text>
<circle cx="2709.3" cy="2325.5" r="17" class="bub"/>
<text x="2709.3" y="2334.1" class="bt" textLength="18.5" lengthAdjust="spacingAndGlyphs">1-17</text>
<line x1="2844.7" y1="248.4" x2="2844.7" y2="392" class="g"/>
<line x1="2844.7" y1="392" x2="2844.7" y2="2165" class="gd" style="stroke-dashoffset:98"/>
<line x1="2844.7" y1="2165" x2="2844.7" y2="2308.5" class="g"/>
<circle cx="2844.7" cy="231.4" r="17" class="bub"/>
<text x="2844.7" y="240" class="bt" textLength="18.5" lengthAdjust="spacingAndGlyphs">1-18</text>
<circle cx="2844.7" cy="2325.5" r="17" class="bub"/>
<text x="2844.7" y="2334.1" class="bt" textLength="18.5" lengthAdjust="spacingAndGlyphs">1-18</text>
<line x1="2980" y1="248.4" x2="2980" y2="392" class="g"/>
<line x1="2980" y1="392" x2="2980" y2="2165" class="gd" style="stroke-dashoffset:135"/>
<line x1="2980" y1="2165" x2="2980" y2="2308.5" class="g"/>
<circle cx="2980" cy="231.4" r="17" class="bub"/>
<text x="2980" y="240" class="bt" textLength="18.5" lengthAdjust="spacingAndGlyphs">1-19</text>
<circle cx="2980" cy="2325.5" r="17" class="bub"/>
<text x="2980" y="2334.1" class="bt" textLength="18.5" lengthAdjust="spacingAndGlyphs">1-19</text>
<line x1="3115.4" y1="248.4" x2="3115.4" y2="392" class="g"/>
<line x1="3115.4" y1="392" x2="3115.4" y2="2165" class="gd" style="stroke-dashoffset:30"/>
<line x1="3115.4" y1="2165" x2="3115.4" y2="2308.5" class="g"/>
<circle cx="3115.4" cy="231.4" r="17" class="bub"/>
<text x="3115.4" y="240" class="bt" textLength="18.5" lengthAdjust="spacingAndGlyphs">1-20</text>
<circle cx="3115.4" cy="2325.5" r="17" class="bub"/>
<text x="3115.4" y="2334.1" class="bt" textLength="18.5" lengthAdjust="spacingAndGlyphs">1-20</text>
<line x1="386.5" y1="277.4" x2="3124.4" y2="277.4" class="dm"/>
<line x1="386.5" y1="305.5" x2="3124.4" y2="305.5" class="dm"/>
<line x1="391.5" y1="281.4" x2="399.5" y2="273.4" class="tk"/>
<line x1="3111.4" y1="281.4" x2="3119.4" y2="273.4" class="tk"/>
<line x1="391.5" y1="309.5" x2="399.5" y2="301.5" class="tk"/>
<line x1="518.4" y1="309.5" x2="526.4" y2="301.5" class="tk"/>
<line x1="645.3" y1="309.5" x2="653.3" y2="301.5" class="tk"/>
<line x1="772.2" y1="309.5" x2="780.2" y2="301.5" class="tk"/>
<line x1="941.4" y1="309.5" x2="949.4" y2="301.5" class="tk"/>
<line x1="1110.6" y1="309.5" x2="1118.6" y2="301.5" class="tk"/>
<line x1="1279.8" y1="309.5" x2="1287.8" y2="301.5" class="tk"/>
<line x1="1449" y1="309.5" x2="1457" y2="301.5" class="tk"/>
<line x1="1575.9" y1="309.5" x2="1583.9" y2="301.5" class="tk"/>
<line x1="1745.1" y1="309.5" x2="1753.1" y2="301.5" class="tk"/>
<line x1="1914.3" y1="309.5" x2="1922.3" y2="301.5" class="tk"/>
<line x1="2083.5" y1="309.5" x2="2091.5" y2="301.5" class="tk"/>
<line x1="2252.7" y1="309.5" x2="2260.7" y2="301.5" class="tk"/>
<line x1="2379.6" y1="309.5" x2="2387.6" y2="301.5" class="tk"/>
<line x1="2464.2" y1="309.5" x2="2472.2" y2="301.5" class="tk"/>
<line x1="2569.9" y1="309.5" x2="2577.9" y2="301.5" class="tk"/>
<line x1="2705.3" y1="309.5" x2="2713.3" y2="301.5" class="tk"/>
<line x1="2840.7" y1="309.5" x2="2848.7" y2="301.5" class="tk"/>
<line x1="2976" y1="309.5" x2="2984" y2="301.5" class="tk"/>
<line x1="3111.4" y1="309.5" x2="3119.4" y2="301.5" class="tk"/>
<text x="458.9" y="302" class="dt">9000</text>
<text x="585.8" y="302" class="dt">9000</text>
<text x="712.8" y="302" class="dt">9000</text>
<text x="860.8" y="302" class="dt">12000</text>
<text x="1030" y="302" class="dt">12000</text>
<text x="1199.2" y="302" class="dt">12000</text>
<text x="1368.4" y="302" class="dt">12000</text>
<text x="1516.4" y="302" class="dt">9000</text>
<text x="1664.5" y="302" class="dt">12000</text>
<text x="1833.7" y="302" class="dt">12000</text>
<text x="2002.9" y="302" class="dt">12000</text>
<text x="2172.1" y="302" class="dt">12000</text>
<text x="2320.1" y="302" class="dt">9000</text>
<text x="2425.9" y="302" class="dt">6000</text>
<text x="2521.1" y="302" class="dt">7500</text>
<text x="2641.6" y="302" class="dt">9600</text>
<text x="2777" y="302" class="dt">9600</text>
<text x="2912.3" y="302" class="dt">9600</text>
<text x="3047.7" y="302" class="dt">9600</text>
<text x="1756" y="273.9" class="dt">192900</text>
<line x1="395.5" y1="274.4" x2="395.5" y2="318.5" class="tk" style="stroke-width:1.2"/>
<line x1="386.5" y1="2280" x2="3124.4" y2="2280" class="dm"/>
<line x1="386.5" y1="2251.9" x2="3124.4" y2="2251.9" class="dm"/>
<line x1="391.5" y1="2284" x2="399.5" y2="2276" class="tk"/>
<line x1="3111.4" y1="2284" x2="3119.4" y2="2276" class="tk"/>
<line x1="391.5" y1="2255.9" x2="399.5" y2="2247.9" class="tk"/>
<line x1="518.4" y1="2255.9" x2="526.4" y2="2247.9" class="tk"/>
<line x1="645.3" y1="2255.9" x2="653.3" y2="2247.9" class="tk"/>
<line x1="772.2" y1="2255.9" x2="780.2" y2="2247.9" class="tk"/>
<line x1="941.4" y1="2255.9" x2="949.4" y2="2247.9" class="tk"/>
<line x1="1110.6" y1="2255.9" x2="1118.6" y2="2247.9" class="tk"/>
<line x1="1279.8" y1="2255.9" x2="1287.8" y2="2247.9" class="tk"/>
<line x1="1449" y1="2255.9" x2="1457" y2="2247.9" class="tk"/>
<line x1="1575.9" y1="2255.9" x2="1583.9" y2="2247.9" class="tk"/>
<line x1="1745.1" y1="2255.9" x2="1753.1" y2="2247.9" class="tk"/>
<line x1="1914.3" y1="2255.9" x2="1922.3" y2="2247.9" class="tk"/>
<line x1="2083.5" y1="2255.9" x2="2091.5" y2="2247.9" class="tk"/>
<line x1="2252.7" y1="2255.9" x2="2260.7" y2="2247.9" class="tk"/>
<line x1="2379.6" y1="2255.9" x2="2387.6" y2="2247.9" class="tk"/>
<line x1="2464.2" y1="2255.9" x2="2472.2" y2="2247.9" class="tk"/>
<line x1="2569.9" y1="2255.9" x2="2577.9" y2="2247.9" class="tk"/>
<line x1="2705.3" y1="2255.9" x2="2713.3" y2="2247.9" class="tk"/>
<line x1="2840.7" y1="2255.9" x2="2848.7" y2="2247.9" class="tk"/>
<line x1="2976" y1="2255.9" x2="2984" y2="2247.9" class="tk"/>
<line x1="3111.4" y1="2255.9" x2="3119.4" y2="2247.9" class="tk"/>
<text x="458.9" y="2248.4" class="dt">9000</text>
<text x="585.8" y="2248.4" class="dt">9000</text>
<text x="712.8" y="2248.4" class="dt">9000</text>
<text x="860.8" y="2248.4" class="dt">12000</text>
<text x="1030" y="2248.4" class="dt">12000</text>
<text x="1199.2" y="2248.4" class="dt">12000</text>
<text x="1368.4" y="2248.4" class="dt">12000</text>
<text x="1516.4" y="2248.4" class="dt">9000</text>
<text x="1664.5" y="2248.4" class="dt">12000</text>
<text x="1833.7" y="2248.4" class="dt">12000</text>
<text x="2002.9" y="2248.4" class="dt">12000</text>
<text x="2172.1" y="2248.4" class="dt">12000</text>
<text x="2320.1" y="2248.4" class="dt">9000</text>
<text x="2425.9" y="2248.4" class="dt">6000</text>
<text x="2521.1" y="2248.4" class="dt">7500</text>
<text x="2641.6" y="2248.4" class="dt">9600</text>
<text x="2777" y="2248.4" class="dt">9600</text>
<text x="2912.3" y="2248.4" class="dt">9600</text>
<text x="3047.7" y="2248.4" class="dt">9600</text>
<text x="1756" y="2276.5" class="dt">192900</text>
<line x1="395.5" y1="2248.9" x2="395.5" y2="2283" class="tk" style="stroke-width:1.2"/>
<line x1="283" y1="1997.8" x2="345" y2="1997.8" class="g"/>
<line x1="3180" y1="1997.8" x2="3235.5" y2="1997.8" class="g"/>
<line x1="345" y1="1997.8" x2="3180" y2="1997.8" class="gd" style="stroke-dashoffset:37"/>
<circle cx="266" cy="1997.8" r="17" class="bub"/>
<text x="266" y="2006.4" class="bt" textLength="16" lengthAdjust="spacingAndGlyphs">1-A</text>
<circle cx="3252.5" cy="1997.8" r="17" class="bub"/>
<text x="3252.5" y="2006.4" class="bt" textLength="16" lengthAdjust="spacingAndGlyphs">1-A</text>
<line x1="283" y1="1913.2" x2="345" y2="1913.2" class="g"/>
<line x1="3180" y1="1913.2" x2="3235.5" y2="1913.2" class="g"/>
<line x1="345" y1="1913.2" x2="3180" y2="1913.2" class="gd" style="stroke-dashoffset:90"/>
<circle cx="266" cy="1913.2" r="17" class="bub"/>
<text x="266" y="1921.8" class="bt" textLength="16" lengthAdjust="spacingAndGlyphs">1-B</text>
<circle cx="3252.5" cy="1913.2" r="17" class="bub"/>
<text x="3252.5" y="1921.8" class="bt" textLength="16" lengthAdjust="spacingAndGlyphs">1-B</text>
<line x1="283" y1="1786.3" x2="345" y2="1786.3" class="g"/>
<line x1="3180" y1="1786.3" x2="3235.5" y2="1786.3" class="g"/>
<line x1="345" y1="1786.3" x2="3180" y2="1786.3" class="gd" style="stroke-dashoffset:1"/>
<circle cx="266" cy="1786.3" r="17" class="bub"/>
<text x="266" y="1794.9" class="bt" textLength="16" lengthAdjust="spacingAndGlyphs">1-C</text>
<circle cx="3252.5" cy="1786.3" r="17" class="bub"/>
<text x="3252.5" y="1794.9" class="bt" textLength="16" lengthAdjust="spacingAndGlyphs">1-C</text>
<line x1="283" y1="1617.1" x2="345" y2="1617.1" class="g"/>
<line x1="3180" y1="1617.1" x2="3235.5" y2="1617.1" class="g"/>
<line x1="345" y1="1617.1" x2="3180" y2="1617.1" class="gd" style="stroke-dashoffset:54"/>
<circle cx="266" cy="1617.1" r="17" class="bub"/>
<text x="266" y="1625.7" class="bt" textLength="16" lengthAdjust="spacingAndGlyphs">1-D</text>
<circle cx="3252.5" cy="1617.1" r="17" class="bub"/>
<text x="3252.5" y="1625.7" class="bt" textLength="16" lengthAdjust="spacingAndGlyphs">1-D</text>
<path d="M281 1578 L296 1591.7 L345 1591.7" class="g"/>
<path d="M3237.5 1578 L3222.5 1591.7 L3180 1591.7" class="g"/>
<line x1="345" y1="1591.7" x2="3180" y2="1591.7" class="gd" style="stroke-dashoffset:107"/>
<circle cx="266" cy="1570" r="17" class="bub"/>
<text x="266" y="1578.6" class="bt" textLength="16" lengthAdjust="spacingAndGlyphs">1-E</text>
<circle cx="3252.5" cy="1570" r="17" class="bub"/>
<text x="3252.5" y="1578.6" class="bt" textLength="16" lengthAdjust="spacingAndGlyphs">1-E</text>
<line x1="283" y1="1447.9" x2="345" y2="1447.9" class="g"/>
<line x1="3180" y1="1447.9" x2="3235.5" y2="1447.9" class="g"/>
<line x1="345" y1="1447.9" x2="3180" y2="1447.9" class="gd" style="stroke-dashoffset:18"/>
<circle cx="266" cy="1447.9" r="17" class="bub"/>
<text x="266" y="1456.5" class="bt" textLength="16" lengthAdjust="spacingAndGlyphs">1-F</text>
<circle cx="3252.5" cy="1447.9" r="17" class="bub"/>
<text x="3252.5" y="1456.5" class="bt" textLength="16" lengthAdjust="spacingAndGlyphs">1-F</text>
<line x1="283" y1="1342.2" x2="345" y2="1342.2" class="g"/>
<line x1="3180" y1="1342.2" x2="3235.5" y2="1342.2" class="g"/>
<line x1="345" y1="1342.2" x2="3180" y2="1342.2" class="gd" style="stroke-dashoffset:71"/>
<circle cx="266" cy="1342.2" r="17" class="bub"/>
<text x="266" y="1350.8" class="bt" textLength="16" lengthAdjust="spacingAndGlyphs">1-G</text>
<circle cx="3252.5" cy="1342.2" r="17" class="bub"/>
<text x="3252.5" y="1350.8" class="bt" textLength="16" lengthAdjust="spacingAndGlyphs">1-G</text>
<line x1="283" y1="1215.2" x2="345" y2="1215.2" class="g"/>
<line x1="3180" y1="1215.2" x2="3235.5" y2="1215.2" class="g"/>
<line x1="345" y1="1215.2" x2="3180" y2="1215.2" class="gd" style="stroke-dashoffset:124"/>
<circle cx="266" cy="1215.2" r="17" class="bub"/>
<text x="266" y="1223.8" class="bt" textLength="16" lengthAdjust="spacingAndGlyphs">1-H</text>
<circle cx="3252.5" cy="1215.2" r="17" class="bub"/>
<text x="3252.5" y="1223.8" class="bt" textLength="16" lengthAdjust="spacingAndGlyphs">1-H</text>
<line x1="283" y1="1109.5" x2="345" y2="1109.5" class="g"/>
<line x1="3180" y1="1109.5" x2="3235.5" y2="1109.5" class="g"/>
<line x1="345" y1="1109.5" x2="3180" y2="1109.5" class="gd" style="stroke-dashoffset:88"/>
<circle cx="266" cy="1109.5" r="17" class="bub"/>
<text x="266" y="1118.1" class="bt" textLength="16" lengthAdjust="spacingAndGlyphs">1-J</text>
<circle cx="3252.5" cy="1109.5" r="17" class="bub"/>
<text x="3252.5" y="1118.1" class="bt" textLength="16" lengthAdjust="spacingAndGlyphs">1-J</text>
<path d="M281 979 L296 965.7 L345 965.7" class="g"/>
<path d="M3237.5 979 L3222.5 965.7 L3180 965.7" class="g"/>
<line x1="345" y1="965.7" x2="3180" y2="965.7" class="gd" style="stroke-dashoffset:141"/>
<circle cx="266" cy="987" r="17" class="bub"/>
<text x="266" y="995.6" class="bt" textLength="16" lengthAdjust="spacingAndGlyphs">1-K</text>
<circle cx="3252.5" cy="987" r="17" class="bub"/>
<text x="3252.5" y="995.6" class="bt" textLength="16" lengthAdjust="spacingAndGlyphs">1-K</text>
<line x1="283" y1="940.3" x2="345" y2="940.3" class="g"/>
<line x1="3180" y1="940.3" x2="3235.5" y2="940.3" class="g"/>
<line x1="345" y1="940.3" x2="3180" y2="940.3" class="gd" style="stroke-dashoffset:52"/>
<circle cx="266" cy="940.3" r="17" class="bub"/>
<text x="266" y="948.9" class="bt" textLength="16" lengthAdjust="spacingAndGlyphs">1-L</text>
<circle cx="3252.5" cy="940.3" r="17" class="bub"/>
<text x="3252.5" y="948.9" class="bt" textLength="16" lengthAdjust="spacingAndGlyphs">1-L</text>
<line x1="283" y1="771.1" x2="345" y2="771.1" class="g"/>
<line x1="3180" y1="771.1" x2="3235.5" y2="771.1" class="g"/>
<line x1="345" y1="771.1" x2="3180" y2="771.1" class="gd" style="stroke-dashoffset:105"/>
<circle cx="266" cy="771.1" r="17" class="bub"/>
<text x="266" y="779.7" class="bt" textLength="16" lengthAdjust="spacingAndGlyphs">1-M</text>
<circle cx="3252.5" cy="771.1" r="17" class="bub"/>
<text x="3252.5" y="779.7" class="bt" textLength="16" lengthAdjust="spacingAndGlyphs">1-M</text>
<line x1="283" y1="644.2" x2="345" y2="644.2" class="g"/>
<line x1="3180" y1="644.2" x2="3235.5" y2="644.2" class="g"/>
<line x1="345" y1="644.2" x2="3180" y2="644.2" class="gd" style="stroke-dashoffset:16"/>
<circle cx="266" cy="644.2" r="17" class="bub"/>
<text x="266" y="652.8" class="bt" textLength="16" lengthAdjust="spacingAndGlyphs">1-N</text>
<circle cx="3252.5" cy="644.2" r="17" class="bub"/>
<text x="3252.5" y="652.8" class="bt" textLength="16" lengthAdjust="spacingAndGlyphs">1-N</text>
<line x1="283" y1="559.6" x2="345" y2="559.6" class="g"/>
<line x1="3180" y1="559.6" x2="3235.5" y2="559.6" class="g"/>
<line x1="345" y1="559.6" x2="3180" y2="559.6" class="gd" style="stroke-dashoffset:122"/>
<circle cx="266" cy="559.6" r="17" class="bub"/>
<text x="266" y="568.2" class="bt" textLength="16" lengthAdjust="spacingAndGlyphs">1-P</text>
<circle cx="3252.5" cy="559.6" r="17" class="bub"/>
<text x="3252.5" y="568.2" class="bt" textLength="16" lengthAdjust="spacingAndGlyphs">1-P</text>
<line x1="2440" y1="838.8" x2="3212" y2="838.8" class="gd"/>
<line x1="2440" y1="1718.6" x2="3212" y2="1718.6" class="gd"/>
<line x1="304.2" y1="550.6" x2="304.2" y2="2006.8" class="dm"/>
<line x1="325.7" y1="550.6" x2="325.7" y2="2006.8" class="dm"/>
<line x1="300.2" y1="563.6" x2="308.2" y2="555.6" class="tk"/>
<line x1="300.2" y1="2001.8" x2="308.2" y2="1993.8" class="tk"/>
<line x1="321.7" y1="2001.8" x2="329.7" y2="1993.8" class="tk"/>
<line x1="321.7" y1="1917.2" x2="329.7" y2="1909.2" class="tk"/>
<line x1="321.7" y1="1790.3" x2="329.7" y2="1782.3" class="tk"/>
<line x1="321.7" y1="1621.1" x2="329.7" y2="1613.1" class="tk"/>
<line x1="321.7" y1="1595.7" x2="329.7" y2="1587.7" class="tk"/>
<line x1="321.7" y1="1451.9" x2="329.7" y2="1443.9" class="tk"/>
<line x1="321.7" y1="1346.2" x2="329.7" y2="1338.2" class="tk"/>
<line x1="321.7" y1="1219.2" x2="329.7" y2="1211.2" class="tk"/>
<line x1="321.7" y1="1113.5" x2="329.7" y2="1105.5" class="tk"/>
<line x1="321.7" y1="969.7" x2="329.7" y2="961.7" class="tk"/>
<line x1="321.7" y1="944.3" x2="329.7" y2="936.3" class="tk"/>
<line x1="321.7" y1="775.1" x2="329.7" y2="767.1" class="tk"/>
<line x1="321.7" y1="648.2" x2="329.7" y2="640.2" class="tk"/>
<line x1="321.7" y1="563.6" x2="329.7" y2="555.6" class="tk"/>
<text class="dt" transform="translate(321.7 1955.5) rotate(-90)">6000</text>
<text class="dt" transform="translate(321.7 1849.8) rotate(-90)">9000</text>
<text class="dt" transform="translate(321.7 1701.7) rotate(-90)">12000</text>
<text class="dt" transform="translate(321.7 1604.4) rotate(-90)">1800</text>
<text class="dt" transform="translate(321.7 1519.8) rotate(-90)">10200</text>
<text class="dt" transform="translate(321.7 1395) rotate(-90)">7500</text>
<text class="dt" transform="translate(321.7 1278.7) rotate(-90)">9000</text>
<text class="dt" transform="translate(321.7 1162.4) rotate(-90)">7500</text>
<text class="dt" transform="translate(321.7 1037.6) rotate(-90)">10200</text>
<text class="dt" transform="translate(321.7 953) rotate(-90)">1800</text>
<text class="dt" transform="translate(321.7 855.7) rotate(-90)">12000</text>
<text class="dt" transform="translate(321.7 707.6) rotate(-90)">9000</text>
<text class="dt" transform="translate(321.7 601.9) rotate(-90)">6000</text>
<text class="dt" transform="translate(300.7 1278.7) rotate(-90)">102000</text>
<line x1="3221.5" y1="550.6" x2="3221.5" y2="2006.8" class="dm"/>
<line x1="3200" y1="550.6" x2="3200" y2="2006.8" class="dm"/>
<line x1="3217.5" y1="563.6" x2="3225.5" y2="555.6" class="tk"/>
<line x1="3217.5" y1="2001.8" x2="3225.5" y2="1993.8" class="tk"/>
<line x1="3196" y1="2001.8" x2="3204" y2="1993.8" class="tk"/>
<line x1="3196" y1="1917.2" x2="3204" y2="1909.2" class="tk"/>
<line x1="3196" y1="1790.3" x2="3204" y2="1782.3" class="tk"/>
<line x1="3196" y1="1722.6" x2="3204" y2="1714.6" class="tk"/>
<line x1="3196" y1="1621.1" x2="3204" y2="1613.1" class="tk"/>
<line x1="3196" y1="1595.7" x2="3204" y2="1587.7" class="tk"/>
<line x1="3196" y1="1451.9" x2="3204" y2="1443.9" class="tk"/>
<line x1="3196" y1="1346.2" x2="3204" y2="1338.2" class="tk"/>
<line x1="3196" y1="1219.2" x2="3204" y2="1211.2" class="tk"/>
<line x1="3196" y1="1113.5" x2="3204" y2="1105.5" class="tk"/>
<line x1="3196" y1="969.7" x2="3204" y2="961.7" class="tk"/>
<line x1="3196" y1="944.3" x2="3204" y2="936.3" class="tk"/>
<line x1="3196" y1="842.8" x2="3204" y2="834.8" class="tk"/>
<line x1="3196" y1="775.1" x2="3204" y2="767.1" class="tk"/>
<line x1="3196" y1="648.2" x2="3204" y2="640.2" class="tk"/>
<line x1="3196" y1="563.6" x2="3204" y2="555.6" class="tk"/>
<text class="dt" transform="translate(3196 1955.5) rotate(-90)">6000</text>
<text class="dt" transform="translate(3196 1849.8) rotate(-90)">9000</text>
<text class="dt" transform="translate(3196 1752.5) rotate(-90)">4800</text>
<text class="dt" transform="translate(3196 1667.9) rotate(-90)">7200</text>
<text class="dt" transform="translate(3196 1604.4) rotate(-90)">1800</text>
<text class="dt" transform="translate(3196 1519.8) rotate(-90)">10200</text>
<text class="dt" transform="translate(3196 1395) rotate(-90)">7500</text>
<text class="dt" transform="translate(3196 1278.7) rotate(-90)">9000</text>
<text class="dt" transform="translate(3196 1162.4) rotate(-90)">7500</text>
<text class="dt" transform="translate(3196 1037.6) rotate(-90)">10200</text>
<text class="dt" transform="translate(3196 953) rotate(-90)">1800</text>
<text class="dt" transform="translate(3196 889.5) rotate(-90)">7200</text>
<text class="dt" transform="translate(3196 804.9) rotate(-90)">4800</text>
<text class="dt" transform="translate(3196 707.6) rotate(-90)">9000</text>
<text class="dt" transform="translate(3196 601.9) rotate(-90)">6000</text>
<text class="dt" transform="translate(3217.5 1278.7) rotate(-90)">102000</text>
<defs><pattern id="xh" width="6.72" height="6.72" patternUnits="userSpaceOnUse" patternTransform="translate(2581.6 972.7) rotate(45)"><path d="M0 0.5H6.72M0.5 0V6.72" stroke="#7a7a7a" stroke-width="0.7" fill="none"/></pattern><pattern id="sq" width="13.4" height="13.4" patternUnits="userSpaceOnUse" patternTransform="translate(2472 672)"><rect x="3.5" y="3.5" width="5.6" height="5.6" stroke="#999" stroke-width="0.7" fill="none"/></pattern><pattern id="sq2" width="13.4" height="13.4" patternUnits="userSpaceOnUse" patternTransform="translate(644 1212)"><rect x="3.5" y="3.5" width="5.6" height="5.6" stroke="#999" stroke-width="0.7" fill="none"/></pattern><pattern id="sq3" width="13.4" height="13.4" patternUnits="userSpaceOnUse" patternTransform="translate(1577 683)"><rect x="3.5" y="3.5" width="5.6" height="5.6" stroke="#999" stroke-width="0.7" fill="none"/></pattern><pattern id="xh2" width="6" height="6" patternUnits="userSpaceOnUse" patternTransform="rotate(45)"><path d="M0 0.5H6M0.5 0V6" stroke="#858585" stroke-width="0.7" fill="none"/></pattern></defs>
<path d="M2584 1555 L2670.8 1019.5 L3130 1001" class="t0"/>
<path d="M2584 1555 L3130 1560" class="tl"/>
<defs><path id="seatp" d="M1136.5 849.8H1263M1284.7 849.8H1411.3M1432 849.8H1601M1622 849.8H1748.5M1770 849.8H1896.5M1136.5 861.7H1263M1284.7 861.7H1411.3M1432 861.7H1601M1622 861.7H1748.5M1770 861.7H1896.5M1136.5 873.7H1263M1284.7 873.7H1411.3M1432 873.7H1601M1622 873.7H1748.5M1770 873.7H1896.5M1136.5 885.6H1263M1284.7 885.6H1411.3M1432 885.6H1601M1622 885.6H1748.5M1770 885.6H1896.5M1136.5 897.5H1263M1284.7 897.5H1411.3M1432 897.5H1601M1622 897.5H1748.5M1770 897.5H1896.5M1136.5 909.5H1263M1284.7 909.5H1411.3M1432 909.5H1601M1622 909.5H1748.5M1770 909.5H1896.5M1136.5 921.4H1263M1284.7 921.4H1411.3M1432 921.4H1601M1622 921.4H1748.5M1770 921.4H1896.5M1136.5 933.3H1263M1284.7 933.3H1411.3M1432 933.3H1601M1622 933.3H1748.5M1770 933.3H1896.5M1136.5 945.2H1263M1284.7 945.2H1411.3M1432 945.2H1601M1622 945.2H1748.5M1770 945.2H1896.5M1136.5 957.2H1263M1284.7 957.2H1411.3M1432 957.2H1601M1622 957.2H1748.5M1770 957.2H1896.5M1136.5 975.4H1263M1284.7 975.4H1411.3M1432 975.4H1459.7M1573.9 975.4H1601M1622 975.4H1748.5M1770 975.4H1896.5M1136.5 989.4H1263M1284.7 989.4H1411.3M1432 989.4H1459.7M1573.9 989.4H1601M1622 989.4H1748.5M1770 989.4H1896.5M1136.5 1001.3H1263M1284.7 1001.3H1411.3M1432 1001.3H1459.7M1573.9 1001.3H1601M1622 1001.3H1748.5M1770 1001.3H1896.5M1136.5 1013.3H1263M1284.7 1013.3H1411.3M1432 1013.3H1459.7M1573.9 1013.3H1601M1622 1013.3H1748.5M1770 1013.3H1896.5M1136.5 1025.2H1263M1284.7 1025.2H1411.3M1432 1025.2H1459.7M1573.9 1025.2H1601M1622 1025.2H1748.5M1770 1025.2H1896.5M1136.5 1037.2H1263M1284.7 1037.2H1411.3M1432 1037.2H1459.7M1573.9 1037.2H1601M1622 1037.2H1748.5M1770 1037.2H1896.5M1136.5 1049.1H1263M1284.7 1049.1H1411.3M1432 1049.1H1459.7M1573.9 1049.1H1601M1622 1049.1H1748.5M1770 1049.1H1896.5M1136.5 1061.1H1263M1284.7 1061.1H1411.3M1432 1061.1H1459.7M1573.9 1061.1H1601M1622 1061.1H1748.5M1770 1061.1H1896.5M1136.5 1582H1234.6M1255 1582H1347.2M1367.7 1582H1459.8M1573.4 1582H1664.5M1685 1582H1777.2M1797.7 1582H1896.5M1136.5 1568H1234.6M1255 1568H1347.2M1367.7 1568H1459.8M1573.4 1568H1664.5M1685 1568H1777.2M1797.7 1568H1896.5M1136.5 1556.1H1234.6M1255 1556.1H1347.2M1367.7 1556.1H1459.8M1573.4 1556.1H1664.5M1685 1556.1H1777.2M1797.7 1556.1H1896.5M1136.5 1544.1H1234.6M1255 1544.1H1347.2M1367.7 1544.1H1459.8M1573.4 1544.1H1664.5M1685 1544.1H1777.2M1797.7 1544.1H1896.5M1136.5 1532.2H1234.6M1255 1532.2H1347.2M1367.7 1532.2H1459.8M1573.4 1532.2H1664.5M1685 1532.2H1777.2M1797.7 1532.2H1896.5M1136.5 1520.2H1234.6M1255 1520.2H1347.2M1367.7 1520.2H1459.8M1573.4 1520.2H1664.5M1685 1520.2H1777.2M1797.7 1520.2H1896.5M1136.5 1508.3H1234.6M1255 1508.3H1347.2M1367.7 1508.3H1459.8M1573.4 1508.3H1664.5M1685 1508.3H1777.2M1797.7 1508.3H1896.5M1136.5 1496.3H1234.6M1255 1496.3H1347.2M1367.7 1496.3H1459.8M1573.4 1496.3H1664.5M1685 1496.3H1777.2M1797.7 1496.3H1896.5M1136.5 1707.6H1234.6M1255 1707.6H1347.2M1685 1707.6H1777.2M1797.7 1707.6H1896.5M1136.5 1695.7H1234.6M1255 1695.7H1347.2M1685 1695.7H1777.2M1797.7 1695.7H1896.5M1136.5 1683.7H1234.6M1255 1683.7H1347.2M1685 1683.7H1777.2M1797.7 1683.7H1896.5M1136.5 1671.8H1234.6M1255 1671.8H1347.2M1685 1671.8H1777.2M1797.7 1671.8H1896.5M1136.5 1659.9H1234.6M1255 1659.9H1347.2M1685 1659.9H1777.2M1797.7 1659.9H1896.5M1136.5 1648H1234.6M1255 1648H1347.2M1685 1648H1777.2M1797.7 1648H1896.5M1136.5 1636H1234.6M1255 1636H1347.2M1685 1636H1777.2M1797.7 1636H1896.5M1136.5 1624.1H1234.6M1255 1624.1H1347.2M1685 1624.1H1777.2M1797.7 1624.1H1896.5M1136.5 1612.2H1234.6M1255 1612.2H1347.2M1685 1612.2H1777.2M1797.7 1612.2H1896.5M1136.5 1600.2H1234.6M1255 1600.2H1347.2M1685 1600.2H1777.2M1797.7 1600.2H1896.5M854.9 1127.8V1268.3M854.9 1289.1V1429.6M866.8 1127.8V1268.3M866.8 1289.1V1429.6M878.8 1127.8V1268.3M878.8 1289.1V1429.6M890.7 1127.8V1268.3M890.7 1289.1V1429.6M902.6 1127.8V1268.3M902.6 1289.1V1429.6M914.5 1127.8V1268.3M914.5 1289.1V1429.6M926.5 1127.8V1268.3M926.5 1289.1V1429.6M938.4 1127.8V1268.3M938.4 1289.1V1429.6M950.3 1127.8V1268.3M950.3 1289.1V1429.6M962.3 1127.8V1268.3M962.3 1289.1V1429.6M980.5 1127.8V1268.3M980.5 1289.1V1429.6M994.5 1127.8V1268.3M994.5 1289.1V1429.6M1006.4 1127.8V1268.3M1006.4 1289.1V1429.6M1018.4 1127.8V1268.3M1018.4 1289.1V1429.6M1030.3 1127.8V1268.3M1030.3 1289.1V1429.6M1042.3 1127.8V1268.3M1042.3 1289.1V1429.6M1054.2 1127.8V1268.3M1054.2 1289.1V1429.6M1066.2 1127.8V1268.3M1066.2 1289.1V1429.6M2178 1127.8V1268.3M2178 1289.1V1429.6M2166.1 1127.8V1268.3M2166.1 1289.1V1429.6M2154.1 1127.8V1268.3M2154.1 1289.1V1429.6M2142.2 1127.8V1268.3M2142.2 1289.1V1429.6M2130.3 1127.8V1268.3M2130.3 1289.1V1429.6M2118.3 1127.8V1268.3M2118.3 1289.1V1429.6M2106.4 1127.8V1268.3M2106.4 1289.1V1429.6M2094.5 1127.8V1268.3M2094.5 1289.1V1429.6M2082.6 1127.8V1268.3M2082.6 1289.1V1429.6M2070.6 1127.8V1268.3M2070.6 1289.1V1429.6M2052.4 1127.8V1219.5M2052.4 1337.9V1429.6M2038.4 1127.8V1219.5M2038.4 1337.9V1429.6M2026.5 1127.8V1219.5M2026.5 1337.9V1429.6M2014.5 1127.8V1219.5M2014.5 1337.9V1429.6M2002.6 1127.8V1219.5M2002.6 1337.9V1429.6M1990.6 1127.8V1219.5M1990.6 1337.9V1429.6M1978.7 1127.8V1219.5M1978.7 1337.9V1429.6M1966.7 1127.8V1219.5M1966.7 1337.9V1429.6M1113.2 849.8A259.7 259.7 0 0 0 936.3 920.6M925.7 931.2A259.7 259.7 0 0 0 854.9 1108.1M1113.3 861.7A247.8 247.8 0 0 0 944.8 929.1M934.2 939.7A247.8 247.8 0 0 0 866.8 1108.2M1113.4 873.7A235.8 235.8 0 0 0 953.2 937.5M942.6 948.1A235.8 235.8 0 0 0 878.8 1108.3M1113.4 885.6A223.9 223.9 0 0 0 961.7 946M951.1 956.6A223.9 223.9 0 0 0 890.7 1108.3M1113.5 897.5A212 212 0 0 0 970.1 954.4M959.5 965A212 212 0 0 0 902.6 1108.4M1113.6 909.5A200 200 0 0 0 978.5 962.8M967.9 973.4A200 200 0 0 0 914.6 1108.5M1113.6 921.4A188.1 188.1 0 0 0 987 971.3M976.4 981.9A188.1 188.1 0 0 0 926.5 1108.5M1113.7 933.3A176.2 176.2 0 0 0 995.4 979.7M984.8 990.3A176.2 176.2 0 0 0 938.4 1108.6M1113.7 945.2A164.3 164.3 0 0 0 1003.9 988.2M993.3 998.8A164.3 164.3 0 0 0 950.3 1108.6M1113.8 957.2A152.3 152.3 0 0 0 1012.3 996.6M1001.7 1007.2A152.3 152.3 0 0 0 962.3 1108.7M1113.7 975.4A134.1 134.1 0 0 0 1043.3 995.9M1001 1038.2A134.1 134.1 0 0 0 980.5 1108.6M1113.8 989.4A120.1 120.1 0 0 0 1053.5 1006.1M1011.2 1048.4A120.1 120.1 0 0 0 994.5 1108.7M1113.8 1001.3A108.2 108.2 0 0 0 1062.2 1014.8M1019.9 1057.1A108.2 108.2 0 0 0 1006.4 1108.7M1113.9 1013.3A96.2 96.2 0 0 0 1071.1 1023.7M1028.8 1066A96.2 96.2 0 0 0 1018.4 1108.8M1114 1025.2A84.3 84.3 0 0 0 1080 1032.6M1037.7 1074.9A84.3 84.3 0 0 0 1030.3 1108.9M1114.1 1037.2A72.3 72.3 0 0 0 1089.2 1041.8M1046.9 1084.1A72.3 72.3 0 0 0 1042.3 1109M1114.2 1049.1A60.4 60.4 0 0 0 1098.7 1051.2M1056.3 1093.6A60.4 60.4 0 0 0 1054.2 1109.1M1114.3 1061.1A48.4 48.4 0 0 0 1108.9 1061.4M1066.5 1103.8A48.4 48.4 0 0 0 1066.2 1109.2M2178 1108.1A259.7 259.7 0 0 0 2107.2 931.2M2096.6 920.6A259.7 259.7 0 0 0 1919.7 849.8M2166.1 1108.2A247.8 247.8 0 0 0 2098.7 939.7M2088.1 929.1A247.8 247.8 0 0 0 1919.6 861.7M2154.1 1108.3A235.8 235.8 0 0 0 2090.3 948.1M2079.7 937.5A235.8 235.8 0 0 0 1919.5 873.7M2142.2 1108.3A223.9 223.9 0 0 0 2081.8 956.6M2071.2 946A223.9 223.9 0 0 0 1919.5 885.6M2130.3 1108.4A212 212 0 0 0 2073.4 965M2062.8 954.4A212 212 0 0 0 1919.4 897.5M2118.3 1108.5A200 200 0 0 0 2065 973.4M2054.4 962.8A200 200 0 0 0 1919.3 909.5M2106.4 1108.2A188.1 188.1 0 0 0 2070.8 999.3M2028.5 957A188.1 188.1 0 0 0 1919.6 921.4M2094.5 1108.3A176.2 176.2 0 0 0 2062.2 1007.9M2019.9 965.6A176.2 176.2 0 0 0 1919.5 933.3M2082.6 1108.4A164.3 164.3 0 0 0 2053.7 1016.5M2011.3 974.1A164.3 164.3 0 0 0 1919.4 945.2M2070.6 1108.4A152.3 152.3 0 0 0 2045.1 1025M2002.8 982.7A152.3 152.3 0 0 0 1919.4 957.2M2052.4 1108.6A134.1 134.1 0 0 0 2031.9 1038.2M1989.6 995.9A134.1 134.1 0 0 0 1919.2 975.4M2038.4 1108.7A120.1 120.1 0 0 0 2021.7 1048.4M1979.4 1006.1A120.1 120.1 0 0 0 1919.1 989.4M2026.5 1108.7A108.2 108.2 0 0 0 2013 1057.1M1970.7 1014.8A108.2 108.2 0 0 0 1919.1 1001.3M2014.5 1108.8A96.2 96.2 0 0 0 2004.1 1066M1961.8 1023.7A96.2 96.2 0 0 0 1919 1013.3M2002.6 1108.9A84.3 84.3 0 0 0 1995.2 1074.9M1952.9 1032.6A84.3 84.3 0 0 0 1918.9 1025.2M1990.6 1109A72.3 72.3 0 0 0 1986 1084.1M1943.7 1041.8A72.3 72.3 0 0 0 1918.8 1037.2M1978.7 1109.1A60.4 60.4 0 0 0 1976.6 1093.6M1934.2 1051.2A60.4 60.4 0 0 0 1918.7 1049.1M1966.7 1109.2A48.4 48.4 0 0 0 1966.4 1103.8M1924 1061.4A48.4 48.4 0 0 0 1918.6 1061.1M854.9 1449.3A259.7 259.7 0 0 0 925.7 1626.2M936.3 1636.8A259.7 259.7 0 0 0 1113.2 1707.6M866.8 1449.2A247.8 247.8 0 0 0 934.2 1617.7M944.8 1628.3A247.8 247.8 0 0 0 1113.3 1695.7M878.8 1449.1A235.8 235.8 0 0 0 942.6 1609.3M953.2 1619.9A235.8 235.8 0 0 0 1113.4 1683.7M890.7 1449.1A223.9 223.9 0 0 0 951.1 1600.8M961.7 1611.4A223.9 223.9 0 0 0 1113.4 1671.8M902.6 1449A212 212 0 0 0 959.5 1592.4M970.1 1603A212 212 0 0 0 1113.5 1659.9M914.6 1448.9A200 200 0 0 0 967.9 1584M978.5 1594.6A200 200 0 0 0 1113.6 1647.9M926.5 1448.9A188.1 188.1 0 0 0 976.4 1575.5M987 1586.1A188.1 188.1 0 0 0 1113.6 1636M938.4 1448.8A176.2 176.2 0 0 0 984.8 1567.1M995.4 1577.7A176.2 176.2 0 0 0 1113.7 1624.1M950.3 1448.8A164.3 164.3 0 0 0 993.3 1558.6M1003.9 1569.2A164.3 164.3 0 0 0 1113.7 1612.2M962.3 1448.7A152.3 152.3 0 0 0 1001.7 1550.2M1012.3 1560.8A152.3 152.3 0 0 0 1113.8 1600.2M980.5 1448.8A134.1 134.1 0 0 0 1001 1519.2M1043.3 1561.5A134.1 134.1 0 0 0 1113.7 1582M994.5 1448.7A120.1 120.1 0 0 0 1011.2 1509M1053.5 1551.3A120.1 120.1 0 0 0 1113.8 1568M1006.4 1448.7A108.2 108.2 0 0 0 1019.9 1500.3M1062.2 1542.6A108.2 108.2 0 0 0 1113.8 1556.1M1018.4 1448.6A96.2 96.2 0 0 0 1028.8 1491.4M1071.1 1533.7A96.2 96.2 0 0 0 1113.9 1544.1M1030.3 1448.5A84.3 84.3 0 0 0 1037.7 1482.5M1080 1524.8A84.3 84.3 0 0 0 1114 1532.2M1042.3 1448.4A72.3 72.3 0 0 0 1046.9 1473.3M1089.2 1515.6A72.3 72.3 0 0 0 1114.1 1520.2M1054.2 1448.3A60.4 60.4 0 0 0 1056.3 1463.8M1098.7 1506.2A60.4 60.4 0 0 0 1114.2 1508.3M1066.2 1448.2A48.4 48.4 0 0 0 1066.5 1453.6M1108.9 1496A48.4 48.4 0 0 0 1114.3 1496.3M1919.7 1707.6A259.7 259.7 0 0 0 2096.6 1636.8M2107.2 1626.2A259.7 259.7 0 0 0 2178 1449.3M1919.6 1695.7A247.8 247.8 0 0 0 2088.1 1628.3M2098.7 1617.7A247.8 247.8 0 0 0 2166.1 1449.2M1919.5 1683.7A235.8 235.8 0 0 0 2079.7 1619.9M2090.3 1609.3A235.8 235.8 0 0 0 2154.1 1449.1M1919.5 1671.8A223.9 223.9 0 0 0 2071.2 1611.4M2081.8 1600.8A223.9 223.9 0 0 0 2142.2 1449.1M1919.4 1659.9A212 212 0 0 0 2062.8 1603M2073.4 1592.4A212 212 0 0 0 2130.3 1449M1919.3 1647.9A200 200 0 0 0 2054.4 1594.6M2065 1584A200 200 0 0 0 2118.3 1448.9M1919.6 1636A188.1 188.1 0 0 0 2028.5 1600.4M2070.8 1558.1A188.1 188.1 0 0 0 2106.4 1449.2M1919.5 1624.1A176.2 176.2 0 0 0 2019.9 1591.8M2062.2 1549.5A176.2 176.2 0 0 0 2094.5 1449.1M1919.4 1612.2A164.3 164.3 0 0 0 2011.3 1583.3M2053.7 1540.9A164.3 164.3 0 0 0 2082.6 1449M1919.4 1600.2A152.3 152.3 0 0 0 2002.8 1574.7M2045.1 1532.4A152.3 152.3 0 0 0 2070.6 1449M1919.2 1582A134.1 134.1 0 0 0 1989.6 1561.5M2031.9 1519.2A134.1 134.1 0 0 0 2052.4 1448.8M1919.1 1568A120.1 120.1 0 0 0 1979.4 1551.3M2021.7 1509A120.1 120.1 0 0 0 2038.4 1448.7M1919.1 1556.1A108.2 108.2 0 0 0 1970.7 1542.6M2013 1500.3A108.2 108.2 0 0 0 2026.5 1448.7M1919 1544.1A96.2 96.2 0 0 0 1961.8 1533.7M2004.1 1491.4A96.2 96.2 0 0 0 2014.5 1448.6M1918.9 1532.2A84.3 84.3 0 0 0 1952.9 1524.8M1995.2 1482.5A84.3 84.3 0 0 0 2002.6 1448.5M1918.8 1520.2A72.3 72.3 0 0 0 1943.7 1515.6M1986 1473.3A72.3 72.3 0 0 0 1990.6 1448.4M1918.7 1508.3A60.4 60.4 0 0 0 1934.2 1506.2M1976.6 1463.8A60.4 60.4 0 0 0 1978.7 1448.3M1918.6 1496.3A48.4 48.4 0 0 0 1924 1496M1966.4 1453.6A48.4 48.4 0 0 0 1966.7 1448.2"/></defs>
<path d="M1124.6 851.7L1124.6 963.2M1124.6 978.9L1124.6 1067.3M1273.8 851.7L1273.8 963.2M1273.8 978.9L1273.8 1067.3M1421.7 851.7L1421.7 963.2M1421.7 978.9L1421.7 1067.3M1611.5 851.7L1611.5 963.2M1611.5 978.9L1611.5 1067.3M1759.2 851.7L1759.2 963.2M1759.2 978.9L1759.2 1067.3M1908.3 851.7L1908.3 963.2M1908.3 978.9L1908.3 1067.3M1124.6 1490.1L1124.6 1578.5M1244.8 1490.1L1244.8 1578.5M1357.5 1490.1L1357.5 1578.5M1674.8 1490.1L1674.8 1578.5M1787.5 1490.1L1787.5 1578.5M1908.3 1490.1L1908.3 1578.5M1124.6 1594.2L1124.6 1705.7M1244.8 1594.2L1244.8 1705.7M1357.4 1594.2L1357.4 1705.7M1675.5 1594.2L1675.5 1705.7M1787.5 1594.2L1787.5 1705.7M1908.3 1594.2L1908.3 1705.7M856.8 1118.5L968.3 1118.5M984 1118.5L1072.4 1118.5M856.8 1278.7L968.3 1278.7M984 1278.7L1072.4 1278.7M856.8 1438.9L968.3 1438.9M984 1438.9L1072.4 1438.9M2176.1 1118.5L2064.6 1118.5M2176.1 1278.7L2064.6 1278.7M2176.1 1438.9L2064.6 1438.9M2048.9 1118.5L1960.5 1118.5M2048.9 1438.9L1960.5 1438.9M932.3 927.2L1011.1 1006M2100.6 927.2L2052.7 975.1M932.3 1630.2L1011.1 1551.4M2100.6 1630.2L2052.7 1582.3" class="stp"/>
<use href="#seatp" class="sd"/><use href="#seatp" class="sw"/>
<path d="M1135.5 844.2H1264M1283.7 844.2H1412.3M1431 844.2H1602M1621 844.2H1749.5M1769 844.2H1897.5M1135.5 856.1H1264M1283.7 856.1H1412.3M1431 856.1H1602M1621 856.1H1749.5M1769 856.1H1897.5M1135.5 868.1H1264M1283.7 868.1H1412.3M1431 868.1H1602M1621 868.1H1749.5M1769 868.1H1897.5M1135.5 880H1264M1283.7 880H1412.3M1431 880H1602M1621 880H1749.5M1769 880H1897.5M1135.5 891.9H1264M1283.7 891.9H1412.3M1431 891.9H1602M1621 891.9H1749.5M1769 891.9H1897.5M1135.5 903.9H1264M1283.7 903.9H1412.3M1431 903.9H1602M1621 903.9H1749.5M1769 903.9H1897.5M1135.5 915.8H1264M1283.7 915.8H1412.3M1431 915.8H1602M1621 915.8H1749.5M1769 915.8H1897.5M1135.5 927.7H1264M1283.7 927.7H1412.3M1431 927.7H1602M1621 927.7H1749.5M1769 927.7H1897.5M1135.5 939.6H1264M1283.7 939.6H1412.3M1431 939.6H1602M1621 939.6H1749.5M1769 939.6H1897.5M1135.5 951.6H1264M1283.7 951.6H1412.3M1431 951.6H1602M1621 951.6H1749.5M1769 951.6H1897.5M1135.5 969.8H1264M1283.7 969.8H1412.3M1431 969.8H1460.7M1572.9 969.8H1602M1621 969.8H1749.5M1769 969.8H1897.5M1135.5 983.8H1264M1283.7 983.8H1412.3M1431 983.8H1460.7M1572.9 983.8H1602M1621 983.8H1749.5M1769 983.8H1897.5M1135.5 995.7H1264M1283.7 995.7H1412.3M1431 995.7H1460.7M1572.9 995.7H1602M1621 995.7H1749.5M1769 995.7H1897.5M1135.5 1007.7H1264M1283.7 1007.7H1412.3M1431 1007.7H1460.7M1572.9 1007.7H1602M1621 1007.7H1749.5M1769 1007.7H1897.5M1135.5 1019.6H1264M1283.7 1019.6H1412.3M1431 1019.6H1460.7M1572.9 1019.6H1602M1621 1019.6H1749.5M1769 1019.6H1897.5M1135.5 1031.6H1264M1283.7 1031.6H1412.3M1431 1031.6H1460.7M1572.9 1031.6H1602M1621 1031.6H1749.5M1769 1031.6H1897.5M1135.5 1043.5H1264M1283.7 1043.5H1412.3M1431 1043.5H1460.7M1572.9 1043.5H1602M1621 1043.5H1749.5M1769 1043.5H1897.5M1135.5 1055.5H1264M1283.7 1055.5H1412.3M1431 1055.5H1460.7M1572.9 1055.5H1602M1621 1055.5H1749.5M1769 1055.5H1897.5M1135.5 1587.6H1235.6M1254 1587.6H1348.2M1366.7 1587.6H1460.8M1572.4 1587.6H1665.5M1684 1587.6H1778.2M1796.7 1587.6H1897.5M1135.5 1573.6H1235.6M1254 1573.6H1348.2M1366.7 1573.6H1460.8M1572.4 1573.6H1665.5M1684 1573.6H1778.2M1796.7 1573.6H1897.5M1135.5 1561.7H1235.6M1254 1561.7H1348.2M1366.7 1561.7H1460.8M1572.4 1561.7H1665.5M1684 1561.7H1778.2M1796.7 1561.7H1897.5M1135.5 1549.7H1235.6M1254 1549.7H1348.2M1366.7 1549.7H1460.8M1572.4 1549.7H1665.5M1684 1549.7H1778.2M1796.7 1549.7H1897.5M1135.5 1537.8H1235.6M1254 1537.8H1348.2M1366.7 1537.8H1460.8M1572.4 1537.8H1665.5M1684 1537.8H1778.2M1796.7 1537.8H1897.5M1135.5 1525.8H1235.6M1254 1525.8H1348.2M1366.7 1525.8H1460.8M1572.4 1525.8H1665.5M1684 1525.8H1778.2M1796.7 1525.8H1897.5M1135.5 1513.9H1235.6M1254 1513.9H1348.2M1366.7 1513.9H1460.8M1572.4 1513.9H1665.5M1684 1513.9H1778.2M1796.7 1513.9H1897.5M1135.5 1501.9H1235.6M1254 1501.9H1348.2M1366.7 1501.9H1460.8M1572.4 1501.9H1665.5M1684 1501.9H1778.2M1796.7 1501.9H1897.5M1135.5 1713.2H1235.6M1254 1713.2H1348.2M1684 1713.2H1778.2M1796.7 1713.2H1897.5M1135.5 1701.3H1235.6M1254 1701.3H1348.2M1684 1701.3H1778.2M1796.7 1701.3H1897.5M1135.5 1689.3H1235.6M1254 1689.3H1348.2M1684 1689.3H1778.2M1796.7 1689.3H1897.5M1135.5 1677.4H1235.6M1254 1677.4H1348.2M1684 1677.4H1778.2M1796.7 1677.4H1897.5M1135.5 1665.5H1235.6M1254 1665.5H1348.2M1684 1665.5H1778.2M1796.7 1665.5H1897.5M1135.5 1653.5H1235.6M1254 1653.5H1348.2M1684 1653.5H1778.2M1796.7 1653.5H1897.5M1135.5 1641.6H1235.6M1254 1641.6H1348.2M1684 1641.6H1778.2M1796.7 1641.6H1897.5M1135.5 1629.7H1235.6M1254 1629.7H1348.2M1684 1629.7H1778.2M1796.7 1629.7H1897.5M1135.5 1617.8H1235.6M1254 1617.8H1348.2M1684 1617.8H1778.2M1796.7 1617.8H1897.5M1135.5 1605.8H1235.6M1254 1605.8H1348.2M1684 1605.8H1778.2M1796.7 1605.8H1897.5M849.3 1126.8V1269.3M849.3 1288.1V1430.6M861.2 1126.8V1269.3M861.2 1288.1V1430.6M873.2 1126.8V1269.3M873.2 1288.1V1430.6M885.1 1126.8V1269.3M885.1 1288.1V1430.6M897 1126.8V1269.3M897 1288.1V1430.6M908.9 1126.8V1269.3M908.9 1288.1V1430.6M920.9 1126.8V1269.3M920.9 1288.1V1430.6M932.8 1126.8V1269.3M932.8 1288.1V1430.6M944.7 1126.8V1269.3M944.7 1288.1V1430.6M956.7 1126.8V1269.3M956.7 1288.1V1430.6M974.9 1126.8V1269.3M974.9 1288.1V1430.6M988.9 1126.8V1269.3M988.9 1288.1V1430.6M1000.8 1126.8V1269.3M1000.8 1288.1V1430.6M1012.8 1126.8V1269.3M1012.8 1288.1V1430.6M1024.7 1126.8V1269.3M1024.7 1288.1V1430.6M1036.7 1126.8V1269.3M1036.7 1288.1V1430.6M1048.6 1126.8V1269.3M1048.6 1288.1V1430.6M1060.6 1126.8V1269.3M1060.6 1288.1V1430.6M2183.6 1126.8V1269.3M2183.6 1288.1V1430.6M2171.7 1126.8V1269.3M2171.7 1288.1V1430.6M2159.7 1126.8V1269.3M2159.7 1288.1V1430.6M2147.8 1126.8V1269.3M2147.8 1288.1V1430.6M2135.9 1126.8V1269.3M2135.9 1288.1V1430.6M2123.9 1126.8V1269.3M2123.9 1288.1V1430.6M2112 1126.8V1269.3M2112 1288.1V1430.6M2100.1 1126.8V1269.3M2100.1 1288.1V1430.6M2088.2 1126.8V1269.3M2088.2 1288.1V1430.6M2076.2 1126.8V1269.3M2076.2 1288.1V1430.6M2058 1126.8V1220.5M2058 1336.9V1430.6M2044 1126.8V1220.5M2044 1336.9V1430.6M2032.1 1126.8V1220.5M2032.1 1336.9V1430.6M2020.1 1126.8V1220.5M2020.1 1336.9V1430.6M2008.2 1126.8V1220.5M2008.2 1336.9V1430.6M1996.2 1126.8V1220.5M1996.2 1336.9V1430.6M1984.3 1126.8V1220.5M1984.3 1336.9V1430.6M1972.3 1126.8V1220.5M1972.3 1336.9V1430.6M1113.2 844.2A265.3 265.3 0 0 0 932.5 916.6M921.7 927.4A265.3 265.3 0 0 0 849.3 1108.1M1113.3 856.1A253.4 253.4 0 0 0 940.9 925M930.1 935.8A253.4 253.4 0 0 0 861.2 1108.2M1113.3 868.1A241.4 241.4 0 0 0 949.4 933.4M938.5 944.3A241.4 241.4 0 0 0 873.2 1108.2M1113.4 880A229.5 229.5 0 0 0 957.8 941.9M947 952.7A229.5 229.5 0 0 0 885.1 1108.3M1113.5 891.9A217.6 217.6 0 0 0 966.3 950.3M955.4 961.2A217.6 217.6 0 0 0 897 1108.4M1113.5 903.9A205.6 205.6 0 0 0 974.7 958.7M963.8 969.6A205.6 205.6 0 0 0 909 1108.4M1113.6 915.8A193.7 193.7 0 0 0 983.2 967.2M972.3 978.1A193.7 193.7 0 0 0 920.9 1108.5M1113.6 927.7A181.8 181.8 0 0 0 991.6 975.6M980.7 986.5A181.8 181.8 0 0 0 932.8 1108.5M1113.7 939.6A169.9 169.9 0 0 0 1000.1 984M989.1 995A169.9 169.9 0 0 0 944.7 1108.6M1113.8 951.6A157.9 157.9 0 0 0 1008.6 992.5M997.6 1003.5A157.9 157.9 0 0 0 956.7 1108.7M1113.6 969.8A139.7 139.7 0 0 0 1040.4 991.2M996.3 1035.3A139.7 139.7 0 0 0 974.9 1108.5M1113.7 983.8A125.7 125.7 0 0 0 1050.7 1001.3M1006.4 1045.6A125.7 125.7 0 0 0 988.9 1108.6M1113.8 995.7A113.8 113.8 0 0 0 1059.5 1009.9M1015 1054.4A113.8 113.8 0 0 0 1000.8 1108.7M1113.9 1007.7A101.8 101.8 0 0 0 1068.6 1018.7M1023.8 1063.5A101.8 101.8 0 0 0 1012.8 1108.8M1114 1019.6A89.9 89.9 0 0 0 1077.7 1027.5M1032.6 1072.6A89.9 89.9 0 0 0 1024.7 1108.9M1114.1 1031.6A77.9 77.9 0 0 0 1087.3 1036.6M1041.7 1082.2A77.9 77.9 0 0 0 1036.7 1109M1114.1 1043.5A66 66 0 0 0 1097.2 1045.8M1050.9 1092.1A66 66 0 0 0 1048.6 1109M1114.2 1055.5A54 54 0 0 0 1108.2 1055.9M1061 1103.1A54 54 0 0 0 1060.6 1109.1M2183.6 1108.1A265.3 265.3 0 0 0 2111.2 927.4M2100.4 916.6A265.3 265.3 0 0 0 1919.7 844.2M2171.7 1108.2A253.4 253.4 0 0 0 2102.8 935.8M2092 925A253.4 253.4 0 0 0 1919.6 856.1M2159.7 1108.2A241.4 241.4 0 0 0 2094.4 944.3M2083.5 933.4A241.4 241.4 0 0 0 1919.6 868.1M2147.8 1108.3A229.5 229.5 0 0 0 2085.9 952.7M2075.1 941.9A229.5 229.5 0 0 0 1919.5 880M2135.9 1108.4A217.6 217.6 0 0 0 2077.5 961.2M2066.6 950.3A217.6 217.6 0 0 0 1919.4 891.9M2123.9 1108.4A205.6 205.6 0 0 0 2069.1 969.6M2058.2 958.7A205.6 205.6 0 0 0 1919.4 903.9M2112 1108.1A193.7 193.7 0 0 0 2075.3 996.1M2031.7 952.5A193.7 193.7 0 0 0 1919.7 915.8M2100.1 1108.2A181.8 181.8 0 0 0 2066.8 1004.7M2023.1 961A181.8 181.8 0 0 0 1919.6 927.7M2088.2 1108.3A169.9 169.9 0 0 0 2058.3 1013.3M2014.5 969.5A169.9 169.9 0 0 0 1919.5 939.6M2076.2 1108.4A157.9 157.9 0 0 0 2049.7 1021.9M2005.9 978.1A157.9 157.9 0 0 0 1919.4 951.6M2058 1108.5A139.7 139.7 0 0 0 2036.6 1035.3M1992.5 991.2A139.7 139.7 0 0 0 1919.3 969.8M2044 1108.6A125.7 125.7 0 0 0 2026.5 1045.6M1982.2 1001.3A125.7 125.7 0 0 0 1919.2 983.8M2032.1 1108.7A113.8 113.8 0 0 0 2017.9 1054.4M1973.4 1009.9A113.8 113.8 0 0 0 1919.1 995.7M2020.1 1108.8A101.8 101.8 0 0 0 2009.1 1063.5M1964.3 1018.7A101.8 101.8 0 0 0 1919 1007.7M2008.2 1108.9A89.9 89.9 0 0 0 2000.3 1072.6M1955.2 1027.5A89.9 89.9 0 0 0 1918.9 1019.6M1996.2 1109A77.9 77.9 0 0 0 1991.2 1082.2M1945.6 1036.6A77.9 77.9 0 0 0 1918.8 1031.6M1984.3 1109A66 66 0 0 0 1982 1092.1M1935.7 1045.8A66 66 0 0 0 1918.8 1043.5M1972.3 1109.1A54 54 0 0 0 1971.9 1103.1M1924.7 1055.9A54 54 0 0 0 1918.7 1055.5M849.3 1449.3A265.3 265.3 0 0 0 921.7 1630M932.5 1640.8A265.3 265.3 0 0 0 1113.2 1713.2M861.2 1449.2A253.4 253.4 0 0 0 930.1 1621.6M940.9 1632.4A253.4 253.4 0 0 0 1113.3 1701.3M873.2 1449.2A241.4 241.4 0 0 0 938.5 1613.1M949.4 1624A241.4 241.4 0 0 0 1113.3 1689.3M885.1 1449.1A229.5 229.5 0 0 0 947 1604.7M957.8 1615.5A229.5 229.5 0 0 0 1113.4 1677.4M897 1449A217.6 217.6 0 0 0 955.4 1596.2M966.3 1607.1A217.6 217.6 0 0 0 1113.5 1665.5M909 1449A205.6 205.6 0 0 0 963.8 1587.8M974.7 1598.7A205.6 205.6 0 0 0 1113.5 1653.5M920.9 1448.9A193.7 193.7 0 0 0 972.3 1579.3M983.2 1590.2A193.7 193.7 0 0 0 1113.6 1641.6M932.8 1448.9A181.8 181.8 0 0 0 980.7 1570.9M991.6 1581.8A181.8 181.8 0 0 0 1113.6 1629.7M944.7 1448.8A169.9 169.9 0 0 0 989.1 1562.4M1000.1 1573.4A169.9 169.9 0 0 0 1113.7 1617.8M956.7 1448.7A157.9 157.9 0 0 0 997.6 1553.9M1008.6 1564.9A157.9 157.9 0 0 0 1113.8 1605.8M974.9 1448.9A139.7 139.7 0 0 0 996.3 1522.1M1040.4 1566.2A139.7 139.7 0 0 0 1113.6 1587.6M988.9 1448.8A125.7 125.7 0 0 0 1006.4 1511.8M1050.7 1556.1A125.7 125.7 0 0 0 1113.7 1573.6M1000.8 1448.7A113.8 113.8 0 0 0 1015 1503M1059.5 1547.5A113.8 113.8 0 0 0 1113.8 1561.7M1012.8 1448.6A101.8 101.8 0 0 0 1023.8 1493.9M1068.6 1538.7A101.8 101.8 0 0 0 1113.9 1549.7M1024.7 1448.5A89.9 89.9 0 0 0 1032.6 1484.8M1077.7 1529.9A89.9 89.9 0 0 0 1114 1537.8M1036.7 1448.4A77.9 77.9 0 0 0 1041.7 1475.2M1087.3 1520.8A77.9 77.9 0 0 0 1114.1 1525.8M1048.6 1448.4A66 66 0 0 0 1050.9 1465.3M1097.2 1511.6A66 66 0 0 0 1114.1 1513.9M1060.6 1448.3A54 54 0 0 0 1061 1454.3M1108.2 1501.5A54 54 0 0 0 1114.2 1501.9M1919.7 1713.2A265.3 265.3 0 0 0 2100.4 1640.8M2111.2 1630A265.3 265.3 0 0 0 2183.6 1449.3M1919.6 1701.3A253.4 253.4 0 0 0 2092 1632.4M2102.8 1621.6A253.4 253.4 0 0 0 2171.7 1449.2M1919.6 1689.3A241.4 241.4 0 0 0 2083.5 1624M2094.4 1613.1A241.4 241.4 0 0 0 2159.7 1449.2M1919.5 1677.4A229.5 229.5 0 0 0 2075.1 1615.5M2085.9 1604.7A229.5 229.5 0 0 0 2147.8 1449.1M1919.4 1665.5A217.6 217.6 0 0 0 2066.6 1607.1M2077.5 1596.2A217.6 217.6 0 0 0 2135.9 1449M1919.4 1653.5A205.6 205.6 0 0 0 2058.2 1598.7M2069.1 1587.8A205.6 205.6 0 0 0 2123.9 1449M1919.7 1641.6A193.7 193.7 0 0 0 2031.7 1604.9M2075.3 1561.3A193.7 193.7 0 0 0 2112 1449.3M1919.6 1629.7A181.8 181.8 0 0 0 2023.1 1596.4M2066.8 1552.7A181.8 181.8 0 0 0 2100.1 1449.2M1919.5 1617.8A169.9 169.9 0 0 0 2014.5 1587.9M2058.3 1544.1A169.9 169.9 0 0 0 2088.2 1449.1M1919.4 1605.8A157.9 157.9 0 0 0 2005.9 1579.3M2049.7 1535.5A157.9 157.9 0 0 0 2076.2 1449M1919.3 1587.6A139.7 139.7 0 0 0 1992.5 1566.2M2036.6 1522.1A139.7 139.7 0 0 0 2058 1448.9M1919.2 1573.6A125.7 125.7 0 0 0 1982.2 1556.1M2026.5 1511.8A125.7 125.7 0 0 0 2044 1448.8M1919.1 1561.7A113.8 113.8 0 0 0 1973.4 1547.5M2017.9 1503A113.8 113.8 0 0 0 2032.1 1448.7M1919 1549.7A101.8 101.8 0 0 0 1964.3 1538.7M2009.1 1493.9A101.8 101.8 0 0 0 2020.1 1448.6M1918.9 1537.8A89.9 89.9 0 0 0 1955.2 1529.9M2000.3 1484.8A89.9 89.9 0 0 0 2008.2 1448.5M1918.8 1525.8A77.9 77.9 0 0 0 1945.6 1520.8M1991.2 1475.2A77.9 77.9 0 0 0 1996.2 1448.4M1918.8 1513.9A66 66 0 0 0 1935.7 1511.6M1982 1465.3A66 66 0 0 0 1984.3 1448.4M1918.7 1501.9A54 54 0 0 0 1924.7 1501.5M1971.9 1454.3A54 54 0 0 0 1972.3 1448.3" class="sr"/>
<path d="M1132.5 843.7H1265.5M1132.5 970.9H1265.5M1280.7 843.7H1413.8M1280.7 970.9H1413.8M1428 843.7H1603.5M1428 970.9H1461.2M1572.4 970.9H1603.5M1618 843.7H1751M1618 970.9H1751M1766 843.7H1899M1766 970.9H1899M1133.5 1586.5H1237.6M1252 1586.5H1350.2M1364.7 1586.5H1462.8M1570.4 1586.5H1667.5M1682 1586.5H1780.2M1794.7 1586.5H1899.5M1133.5 1713.7H1237.6M1252 1713.7H1350.2M1682 1713.7H1780.2M1794.7 1713.7H1899.5M848.8 1124.8V1271.3M976 1124.8V1271.3M848.8 1286.1V1432.6M976 1286.1V1432.6M2184.1 1124.8V1271.3M2184.1 1286.1V1432.6M2056.9 1124.8V1432.6M1114.6 843.7A265.8 265.8 0 0 0 933.1 915.3M920.4 928A265.8 265.8 0 0 0 848.8 1109.5M1114.6 970.9A138.6 138.6 0 0 0 976 1109.5M2184.1 1109.5A265.8 265.8 0 0 0 2112.5 928M2099.8 915.3A265.8 265.8 0 0 0 1918.3 843.7M2056.9 1109.5A138.6 138.6 0 0 0 2034.3 1033.7M1994.1 993.5A138.6 138.6 0 0 0 1918.3 970.9M848.8 1447.9A265.8 265.8 0 0 0 920.4 1629.4M933.1 1642.1A265.8 265.8 0 0 0 1114.6 1713.7M976 1447.9A138.6 138.6 0 0 0 1114.6 1586.5M1918.3 1713.7A265.8 265.8 0 0 0 2099.8 1642.1M2112.5 1629.4A265.8 265.8 0 0 0 2184.1 1447.9M1918.3 1586.5A138.6 138.6 0 0 0 1994.1 1563.9M2034.3 1523.7A138.6 138.6 0 0 0 2056.9 1447.9" class="t2"/>
<path d="M1114.6 816.9L1918.3 816.9A292.6 292.6 0 0 1 2210.9 1109.5L2210.9 1447.9A292.6 292.6 0 0 1 1918.3 1740.5L1114.6 1740.5A292.6 292.6 0 0 1 822 1447.9L822 1109.5A292.6 292.6 0 0 1 1114.6 816.9Z" class="t3" style="stroke-width:2.6"/>
<line x1="1114.6" y1="1069.3" x2="1038.8" y2="993.5" class="t15"/>
<line x1="1074.4" y1="1109.5" x2="998.6" y2="1033.7" class="t15"/>
<path d="M1114.6 1109.5L1087.2 1045.1M1114.6 1109.5L1044.7 1005.9M1114.6 1109.5L1026.2 1021.1M1114.6 1109.5L1011 1039.6M1114.6 1109.5L1050.2 1082.1" class="t0"/>
<line x1="1958.5" y1="1109.5" x2="2071.3" y2="996.7" class="t15"/>
<line x1="1918.3" y1="1069.3" x2="2031.1" y2="956.5" class="t15"/>
<line x1="2071.3" y1="996.7" x2="2031.1" y2="956.5" class="t15"/>
<path d="M1918.3 1109.5L1995.6 1088.8M1918.3 1109.5L1990.8 1075.7M1918.3 1109.5L2041.2 1023.5M1918.3 1109.5L2004.3 986.6M1918.3 1109.5L1952.1 1037M1918.3 1109.5L1939 1032.2" class="t0"/>
<line x1="1074.4" y1="1447.9" x2="998.6" y2="1523.7" class="t15"/>
<line x1="1114.6" y1="1488.1" x2="1038.8" y2="1563.9" class="t15"/>
<path d="M1114.6 1447.9L1050.2 1475.3M1114.6 1447.9L1011 1517.8M1114.6 1447.9L1026.2 1536.3M1114.6 1447.9L1044.7 1551.5M1114.6 1447.9L1087.2 1512.3" class="t0"/>
<line x1="1918.3" y1="1488.1" x2="2031.1" y2="1600.9" class="t15"/>
<line x1="1958.5" y1="1447.9" x2="2071.3" y2="1560.7" class="t15"/>
<line x1="2031.1" y1="1600.9" x2="2071.3" y2="1560.7" class="t15"/>
<path d="M1918.3 1447.9L1939 1525.2M1918.3 1447.9L1952.1 1520.4M1918.3 1447.9L2004.3 1570.8M1918.3 1447.9L2041.2 1533.9M1918.3 1447.9L1990.8 1481.7M1918.3 1447.9L1995.6 1468.6" class="t0"/>
<line x1="1114.6" y1="1069.3" x2="1461.2" y2="1069.3" class="t15"/>
<line x1="1572.4" y1="1069.3" x2="1918.3" y2="1069.3" class="t15"/>
<line x1="1461.2" y1="1069.3" x2="1461.2" y2="970.9" class="t15"/>
<line x1="1572.4" y1="1069.3" x2="1572.4" y2="970.9" class="t15"/>
<line x1="1461.2" y1="970.9" x2="1572.4" y2="970.9" class="t15"/>
<line x1="1114.6" y1="1488.1" x2="1461.2" y2="1488.1" class="t15"/>
<line x1="1572.4" y1="1488.1" x2="1918.3" y2="1488.1" class="t15"/>
<line x1="1461.2" y1="1488.1" x2="1461.2" y2="1586.6" class="t15"/>
<line x1="1572.4" y1="1488.1" x2="1572.4" y2="1586.6" class="t15"/>
<line x1="1074.4" y1="1109.5" x2="1074.4" y2="1447.9" class="t15"/>
<path d="M1958.5 1109.5 L1958.5 1223 L2056.9 1223" class="t15"/>
<path d="M1958.5 1447.9 L1958.5 1334.4 L2056.9 1334.4" class="t15"/>
<rect x="1367.7" y="1586.6" width="298.7" height="181.4" class="t2" style="fill:#fff"/>
<path d="M1114.6 816.9L1918.3 816.9A292.6 292.6 0 0 1 2210.9 1109.5L2210.9 1447.9A292.6 292.6 0 0 1 1918.3 1740.5L1114.6 1740.5A292.6 292.6 0 0 1 822 1447.9L822 1109.5A292.6 292.6 0 0 1 1114.6 816.9Z" class="t3" style="stroke-width:2.6"/>
<line x1="1410.7" y1="1707.1" x2="1442.7" y2="1707.1" class="t2"/>
<line x1="1457.7" y1="1707.1" x2="1573.7" y2="1707.1" class="t2"/>
<line x1="1588.7" y1="1707.1" x2="1620.7" y2="1707.1" class="t2"/>
<defs><path id="vsp" d="M1373.7 1617.1H1440.7M1462.7 1617.1H1571.7M1593.7 1617.1H1660.4M1373.7 1634.1H1440.7M1462.7 1634.1H1571.7M1593.7 1634.1H1660.4M1373.7 1651.1H1440.7M1462.7 1651.1H1571.7M1593.7 1651.1H1660.4M1373.7 1668.1H1440.7M1462.7 1668.1H1571.7M1593.7 1668.1H1660.4M1373.7 1685.1H1440.7M1462.7 1685.1H1571.7M1593.7 1685.1H1660.4M1415.7 1701.1H1440.7M1462.7 1701.1H1571.7M1593.7 1701.1H1618.7"/></defs><use href="#vsp" class="vsd"/><use href="#vsp" class="vsw"/>
<path d="M1367.7 1621.6H1666.4M1367.7 1638.6H1666.4M1367.7 1655.6H1666.4M1367.7 1672.6H1666.4M1367.7 1689.6H1666.4M1367.7 1706.6H1666.4" class="tl"/>
<rect x="1373.7" y="1596.6" width="67" height="6" class="tl"/>
<rect x="1462.7" y="1596.6" width="109" height="6" class="tl"/>
<rect x="1593.7" y="1596.6" width="66.7" height="6" class="tl"/>
<line x1="1452.2" y1="1586.6" x2="1452.2" y2="1674.6" class="t0"/>
<path d="M1452.2 1591.6V1686.6" class="stp" style="stroke-width:16;stroke-dasharray:0.7 4 0.7 4 0.7 6.9"/>
<line x1="1582.7" y1="1586.6" x2="1582.7" y2="1674.6" class="t0"/>
<path d="M1582.7 1591.6V1686.6" class="stp" style="stroke-width:16;stroke-dasharray:0.7 4 0.7 4 0.7 6.9"/>
<rect x="1378.7" y="1694.1" width="22" height="14" class="t0"/>
<rect x="1381.7" y="1695.1" width="6" height="12" class="t1"/>
<rect x="1391.7" y="1695.1" width="6" height="12" class="t1"/>
<rect x="1633.4" y="1694.1" width="22" height="14" class="t0"/>
<rect x="1636.4" y="1695.1" width="6" height="12" class="t1"/>
<rect x="1646.4" y="1695.1" width="6" height="12" class="t1"/>
<path d="M1367.7 1688.6 L1409.7 1688.6 L1409.7 1706.6" class="t0"/>
<path d="M1666.4 1688.6 L1624.4 1688.6 L1624.4 1706.6" class="t0"/>
<defs><path id="gsp" d="M1114.6 803.2L1918.3 803.2A306.3 306.3 0 0 1 2224.6 1109.5L2224.6 1447.9A306.3 306.3 0 0 1 1918.3 1754.2L1114.6 1754.2A306.3 306.3 0 0 1 808.3 1447.9L808.3 1109.5A306.3 306.3 0 0 1 1114.6 803.2M1114.6 786.2L1918.3 786.2A323.3 323.3 0 0 1 2241.6 1109.5L2241.6 1447.9A323.3 323.3 0 0 1 1918.3 1771.2L1114.6 1771.2A323.3 323.3 0 0 1 791.3 1447.9L791.3 1109.5A323.3 323.3 0 0 1 1114.6 786.2"/></defs><use href="#gsp" class="gsd"/><use href="#gsp" class="gsw"/>
<path d="M367 867 L419.5 883" class="t0"/>
<path d="M367 1690.4 L419.5 1674.4" class="t0"/>
<path d="M570 713 L640.7 764.8 L700 820" class="t0"/>
<path d="M570 1844.4 L640.7 1792.6 L700 1737.4" class="t0"/>
<path d="M742 597 L791.9 664.6 L841.7 733" class="t0"/>
<path d="M742 1960.4 L791.9 1892.8 L841.7 1824.4" class="t0"/>
<path d="M917 501 L943.6 581.6 L975 668" class="t0"/>
<path d="M917 2056.4 L943.6 1975.8 L975 1889.4" class="t0"/>
<path d="M2119 491 L2105 530 L2084 599" class="t0"/>
<path d="M2119 2066.4 L2105 2027.4 L2084 1958.4" class="t0"/>
<path d="M2321 556 L2282.8 611.7 L2242 662.4" class="t0"/>
<path d="M2321 2001.4 L2282.8 1945.7 L2242 1895" class="t0"/>
<path d="M2558 642 L2463 700 L2386 769.7" class="t0"/>
<path d="M2558 1915.4 L2463 1857.4 L2386 1787.7" class="t0"/>
<path d="M2561 645 L2530 690 L2514 718" class="t0"/>
<path d="M2561 1912.4 L2530 1867.4 L2514 1839.4" class="t0"/>
<path d="M2599.5 888 L2420 947 L2300 974" class="t0"/>
<path d="M2599.5 1669.4 L2420 1610.4 L2300 1583.4" class="t0"/>
<path d="M3031 898 L3012 958" class="t0"/>
<path d="M3031 1659.4 L3012 1599.4" class="t0"/>
<path d="M1114.6 1109.5 L781 775.9" class="t0"/>
<path d="M1114.6 1447.9 L781 1781.5" class="t0"/>
<path d="M1918.3 1109.5 L2251.9 775.9" class="t0"/>
<path d="M1918.3 1447.9 L2251.9 1781.5" class="t0"/>
<circle cx="351.8" cy="861.3" r="17" class="bub"/>
<text x="351.8" y="869.9" class="bt" textLength="18.5" lengthAdjust="spacingAndGlyphs">1-25</text>
<circle cx="351.8" cy="1696.1" r="17" class="bub"/>
<text x="351.8" y="1704.7" class="bt" textLength="18.5" lengthAdjust="spacingAndGlyphs">1-24</text>
<circle cx="558.2" cy="701.2" r="17" class="bub"/>
<text x="558.2" y="709.8" class="bt" textLength="18.5" lengthAdjust="spacingAndGlyphs">1-26</text>
<circle cx="558.2" cy="1856.2" r="17" class="bub"/>
<text x="558.2" y="1864.8" class="bt" textLength="18.5" lengthAdjust="spacingAndGlyphs">1-23</text>
<circle cx="732.2" cy="583.3" r="17" class="bub"/>
<text x="732.2" y="591.9" class="bt" textLength="18.5" lengthAdjust="spacingAndGlyphs">1-27</text>
<circle cx="732.2" cy="1974.1" r="17" class="bub"/>
<text x="732.2" y="1982.7" class="bt" textLength="18.5" lengthAdjust="spacingAndGlyphs">1-22</text>
<circle cx="911.9" cy="484.5" r="17" class="bub"/>
<text x="911.9" y="493.1" class="bt" textLength="18.5" lengthAdjust="spacingAndGlyphs">1-28</text>
<circle cx="911.9" cy="2072.9" r="17" class="bub"/>
<text x="911.9" y="2081.5" class="bt" textLength="18.5" lengthAdjust="spacingAndGlyphs">1-21</text>
<circle cx="2124.4" cy="475" r="17" class="bub"/>
<text x="2124.4" y="483.6" class="bt" textLength="18.5" lengthAdjust="spacingAndGlyphs">1-29</text>
<circle cx="2124.4" cy="2082.4" r="17" class="bub"/>
<text x="2124.4" y="2091" class="bt" textLength="18.5" lengthAdjust="spacingAndGlyphs">1-36</text>
<circle cx="2331.6" cy="542.1" r="17" class="bub"/>
<text x="2331.6" y="550.7" class="bt" textLength="18.5" lengthAdjust="spacingAndGlyphs">1-30</text>
<circle cx="2331.6" cy="2015.3" r="17" class="bub"/>
<text x="2331.6" y="2023.9" class="bt" textLength="18.5" lengthAdjust="spacingAndGlyphs">1-35</text>
<circle cx="2573" cy="633.2" r="17" class="bub"/>
<text x="2573" y="641.8" class="bt" textLength="18.5" lengthAdjust="spacingAndGlyphs">1-31</text>
<circle cx="2573" cy="1924.2" r="17" class="bub"/>
<text x="2573" y="1932.8" class="bt" textLength="18.5" lengthAdjust="spacingAndGlyphs">1-34</text>
<circle cx="2616.1" cy="883.6" r="17" class="bub"/>
<text x="2616.1" y="892.2" class="bt" textLength="18.5" lengthAdjust="spacingAndGlyphs">1-32</text>
<circle cx="2616.1" cy="1673.8" r="17" class="bub"/>
<text x="2616.1" y="1682.4" class="bt" textLength="18.5" lengthAdjust="spacingAndGlyphs">1-33</text>
<circle cx="3026.5" cy="881.8" r="17" class="bub"/>
<text class="bt" textLength="18.5" lengthAdjust="spacingAndGlyphs" transform="translate(3026.5 881.8) rotate(-80) translate(0 8.6)">1-A2</text>
<circle cx="3026.5" cy="1675.6" r="17" class="bub"/>
<text class="bt" textLength="18.5" lengthAdjust="spacingAndGlyphs" transform="translate(3026.5 1675.6) rotate(-80) translate(0 8.6)">1-A1</text>
<circle cx="1524.4" cy="450" r="17" class="bub"/>
<text class="bt" textLength="18.5" lengthAdjust="spacingAndGlyphs" transform="translate(1524.4 450) rotate(-90) translate(0 8.6)">1-A2</text>
<circle cx="1524.4" cy="2107.4" r="17" class="bub"/>
<text class="bt" textLength="18.5" lengthAdjust="spacingAndGlyphs" transform="translate(1524.4 2107.4) rotate(-90) translate(0 8.6)">1-A1</text>
<circle cx="438.6" cy="915.9" r="17" class="bub"/>
<text class="bt" textLength="18.5" lengthAdjust="spacingAndGlyphs" transform="translate(438.6 915.9) rotate(-80) translate(0 8.6)">1-A2</text>
<circle cx="438.6" cy="1641.5" r="17" class="bub"/>
<text class="bt" textLength="18.5" lengthAdjust="spacingAndGlyphs" transform="translate(438.6 1641.5) rotate(-80) translate(0 8.6)">1-A1</text>
<circle cx="781" cy="780.7" r="17" class="bub" style="fill:none"/>
<text class="bt" textLength="18.5" lengthAdjust="spacingAndGlyphs" transform="translate(781 780.7) rotate(-82) translate(0 8.6)">1-D1</text>
<circle cx="781" cy="1776.7" r="17" class="bub" style="fill:none"/>
<text class="bt" textLength="18.5" lengthAdjust="spacingAndGlyphs" transform="translate(781 1776.7) rotate(-82) translate(0 8.6)">1-C1</text>
<circle cx="875.5" cy="869" r="17" class="bub" style="fill:none"/>
<text class="bt" textLength="18.5" lengthAdjust="spacingAndGlyphs" transform="translate(875.5 869) rotate(-82) translate(0 8.6)">1-D2</text>
<circle cx="875.5" cy="1688.4" r="17" class="bub" style="fill:none"/>
<text class="bt" textLength="18.5" lengthAdjust="spacingAndGlyphs" transform="translate(875.5 1688.4) rotate(-82) translate(0 8.6)">1-C2</text>
<circle cx="996.4" cy="990.2" r="17" class="bub" style="fill:none"/>
<text class="bt" textLength="18.5" lengthAdjust="spacingAndGlyphs" transform="translate(996.4 990.2) rotate(-82) translate(0 8.6)">1-D3</text>
<circle cx="996.4" cy="1567.2" r="17" class="bub" style="fill:none"/>
<text class="bt" textLength="18.5" lengthAdjust="spacingAndGlyphs" transform="translate(996.4 1567.2) rotate(-82) translate(0 8.6)">1-C3</text>
<circle cx="2250" cy="780.5" r="17" class="bub" style="fill:none"/>
<text class="bt" textLength="18.5" lengthAdjust="spacingAndGlyphs" transform="translate(2250 780.5) rotate(-82) translate(0 8.6)">1-E1</text>
<circle cx="2250" cy="1776.9" r="17" class="bub" style="fill:none"/>
<text class="bt" textLength="18.5" lengthAdjust="spacingAndGlyphs" transform="translate(2250 1776.9) rotate(-82) translate(0 8.6)">1-B1</text>
<circle cx="2158.5" cy="870.2" r="17" class="bub" style="fill:none"/>
<text class="bt" textLength="18.5" lengthAdjust="spacingAndGlyphs" transform="translate(2158.5 870.2) rotate(-82) translate(0 8.6)">1-E2</text>
<circle cx="2158.5" cy="1687.2" r="17" class="bub" style="fill:none"/>
<text class="bt" textLength="18.5" lengthAdjust="spacingAndGlyphs" transform="translate(2158.5 1687.2) rotate(-82) translate(0 8.6)">1-B2</text>
<circle cx="2037.5" cy="989.6" r="17" class="bub" style="fill:none"/>
<text class="bt" textLength="18.5" lengthAdjust="spacingAndGlyphs" transform="translate(2037.5 989.6) rotate(-90) translate(0 8.6)">1-E3</text>
<circle cx="2037.5" cy="1567.8" r="17" class="bub" style="fill:none"/>
<text class="bt" textLength="18.5" lengthAdjust="spacingAndGlyphs" transform="translate(2037.5 1567.8) rotate(-90) translate(0 8.6)">1-B3</text>
<rect x="1413.7" y="1779" width="38.5" height="95" class="t1" style="fill:url(#sq3)"/>
<rect x="1416" y="1781.5" width="34" height="90" class="t0"/>
<text class="cj" x="1466.3" y="495.8" font-size="14.5">观众休息厅上空</text>
<text class="cj" x="1464" y="2062.8" font-size="14.5">观众休息厅上空</text>
<text class="cj" x="1472.1" y="1258.3" font-size="14.5">比赛大厅上空</text>
<text class="cj" x="2801.2" y="1287.8" font-size="14.3">比赛大厅上空</text>
<text class="cj" x="725.4" y="548.2" font-size="14.7">上层轮廓投影线</text>
<path d="M722 552.6 L832 552.6 L886 627" class="t0"/>
<text class="cj" x="646" y="602.2" font-size="14.7">消防救援口</text>
<path d="M643 606.5 L723 606.5 L760 640" class="t0"/>
<text class="cj" x="1419" y="615.8" font-size="14">栏杆</text>
<path d="M1445 620 L1417 620 L1402 636" class="t0"/>
<text class="cj" x="2126.6" y="601.3" font-size="14.2">上层轮廓投影线</text>
<path d="M2228 605.5 L2124 605.5 L2103 623" class="t0"/>
<text class="cj" x="2591.3" y="651.8" font-size="14.5">消防救援口</text>
<path d="M2666 656 L2561 656 L2540 690" class="t0"/>
<text class="cj" x="2896.2" y="763.8" font-size="14.5">结构板边线</text>
<path d="M2970 768 L2894 768 L2868 812" class="t0"/>
<text class="cj" x="745.3" y="2012.7" font-size="14.7">上层轮廓投影线</text>
<path d="M742 2017.2 L852 2017.2 L893 1960" class="t0"/>
<text class="cj" x="646" y="1945.7" font-size="14.7">消防救援口</text>
<path d="M643 1950 L723 1950 L762 1918" class="t0"/>
<text class="cj" x="2012" y="1928.3" font-size="14">栏杆</text>
<path d="M2040 1932.5 L2010 1932.5 L1990 1921" class="t0"/>
<text class="cj" x="735" y="1790.3" font-size="14">栏杆</text>
<path d="M762 1794.5 L733 1794.5 L760 1760" class="t0"/>
<text class="cj" x="2135" y="1948.8" font-size="14.2">上层轮廓投影线</text>
<path d="M2237 1953 L2133 1953 L2100 1925" class="t0"/>
<text class="cj" x="2591.3" y="1900.3" font-size="14.5">消防救援口</text>
<path d="M2666 1904.5 L2561 1904.5 L2545 1870" class="t0"/>
<text class="cj" x="2922" y="1787.3" font-size="14.5">结构板边线</text>
<path d="M2996 1791.5 L2920 1791.5 L2888 1745" class="t0"/>
<text class="cj" x="2691.9" y="861.3" font-size="14.2">场馆办公</text>
<text x="2700.9" y="880" class="dt2" font-size="14.5" text-anchor="start">11.300</text>
<line x1="2693.9" y1="883" x2="2751.9" y2="883" class="t0"/>
<path d="M2666.9 885h27M2669.9 885l11 11l11 -11" class="t0"/>
<text class="cj" x="2892.7" y="896.5" font-size="14.2">场馆办公</text>
<text x="2901.7" y="915.2" class="dt2" font-size="14.5" text-anchor="start">11.300</text>
<line x1="2894.7" y1="918.2" x2="2952.7" y2="918.2" class="t0"/>
<path d="M2867.7 920.2h27M2870.7 920.2l11 11l11 -11" class="t0"/>
<text class="cj" x="2632" y="1711.8" font-size="14.2">场馆办公</text>
<text x="2641" y="1730.5" class="dt2" font-size="14.5" text-anchor="start">11.300</text>
<line x1="2634" y1="1733.5" x2="2692" y2="1733.5" class="t0"/>
<path d="M2607 1735.5h27M2610 1735.5l11 11l11 -11" class="t0"/>
<text class="cj" x="2889" y="1650.3" font-size="14.2">场馆办公</text>
<text x="2898" y="1669" class="dt2" font-size="14.5" text-anchor="start">11.300</text>
<line x1="2891" y1="1672" x2="2949" y2="1672" class="t0"/>
<path d="M2864 1674h27M2867 1674l11 11l11 -11" class="t0"/>
<text class="cj" x="2369.3" y="865.8" font-size="14.5">观众休息平台</text>
<text x="2392.3" y="898.5" class="dt2" font-size="14.5" text-anchor="start">11.300</text>
<line x1="2387.3" y1="901.5" x2="2441.3" y2="901.5" class="t0"/>
<path d="M2360.3 902.5h27M2363.3 902.5l11 11l11 -11" class="t0"/>
<text class="cj" x="2279.3" y="1259.8" font-size="14.5">观众休息平台</text>
<text x="2302.3" y="1280" class="dt2" font-size="14.5" text-anchor="start">11.300</text>
<line x1="2297.3" y1="1283" x2="2351.3" y2="1283" class="t0"/>
<path d="M2270.3 1284h27M2273.3 1284l11 11l11 -11" class="t0"/>
<text class="cj" x="2362.4" y="1661.7" font-size="14.5">观众休息平台</text>
<text x="2385.4" y="1695.4" class="dt2" font-size="14.5" text-anchor="start">11.300</text>
<line x1="2380.4" y1="1698.4" x2="2434.4" y2="1698.4" class="t0"/>
<path d="M2353.4 1699.4h27M2356.4 1699.4l11 11l11 -11" class="t0"/>
<text class="cj" x="596" y="1143.8" font-size="14.2">观众休</text>
<text class="cj" x="596" y="1162.8" font-size="14.2">息平台</text>
<text x="641" y="1395.5" class="dt2" font-size="14.5" text-anchor="start">11.300</text>
<line x1="636" y1="1398.5" x2="690" y2="1398.5" class="t0"/>
<path d="M610 1398.5h26M613 1398.5l11 11l11 -11" class="t0"/>
<text class="cj" x="469.2" y="1151.8" font-size="14">栏杆</text>
<path d="M460 1156.5 L506 1156.5 L518 1172" class="t0"/>
<text class="cj" x="469.2" y="1392.3" font-size="14">栏杆</text>
<path d="M460 1397 L506 1397 L518 1412" class="t0"/>
<text class="cj" x="2407" y="1027.8" font-size="14">栏杆</text>
<path d="M2437 1032.5 L2403 1032.5 L2388 1060" class="t0"/>
<text class="cj" x="722.2" y="1012.8" font-size="14.3">服务间</text>
<text class="cj" x="2266.7" y="1012.8" font-size="14.3">服务间</text>
<text class="cj" x="722.2" y="1554.5" font-size="14.3">服务间</text>
<text class="cj" x="2266.7" y="1554.5" font-size="14.3">服务间</text>
<g transform="translate(1127.7 748.5)" fill="#222"><text class="cj" x="0" y="-1.7" font-size="14.3">包厢</text><text x="28.6" y="0" class="lt" font-size="14.6">(b')</text></g>
<g transform="translate(1223 748.5)" fill="#222"><text class="cj" x="0" y="-1.7" font-size="14.3">包厢</text><text x="28.6" y="0" class="lt" font-size="14.6">(b)</text></g>
<g transform="translate(1295 748.5)" fill="#222"><text class="cj" x="0" y="-1.7" font-size="14.3">包厢</text><text x="28.6" y="0" class="lt" font-size="14.6">(b')</text></g>
<g transform="translate(1390.7 748.5)" fill="#222"><text class="cj" x="0" y="-1.7" font-size="14.3">包厢</text><text x="28.6" y="0" class="lt" font-size="14.6">(b)</text></g>
<g transform="translate(1493 748.5)" fill="#222"><text class="cj" x="0" y="-1.7" font-size="14.3">包厢</text><text x="28.6" y="0" class="lt" font-size="14.6">(a)</text></g>
<g transform="translate(1760.8 748.5)" fill="#222"><text class="cj" x="0" y="-1.7" font-size="14.3">包厢</text><text x="28.6" y="0" class="lt" font-size="14.6">(f)</text></g>
<g transform="translate(1850.8 748.5)" fill="#222"><text class="cj" x="0" y="-1.7" font-size="14.3">包厢</text><text x="28.6" y="0" class="lt" font-size="14.6">(b)</text></g>
<g transform="translate(1127.7 1818.9)" fill="#222"><text class="cj" x="0" y="-1.7" font-size="14.3">包厢</text><text x="28.6" y="0" class="lt" font-size="14.6">(b')</text></g>
<g transform="translate(1223 1818.9)" fill="#222"><text class="cj" x="0" y="-1.7" font-size="14.3">包厢</text><text x="28.6" y="0" class="lt" font-size="14.6">(b)</text></g>
<g transform="translate(1331.8 1818.9)" fill="#222"><text class="cj" x="0" y="-1.7" font-size="14.3">包厢</text><text x="28.6" y="0" class="lt" font-size="14.6">(e)</text></g>
<g transform="translate(1493 1818.9)" fill="#222"><text class="cj" x="0" y="-1.7" font-size="14.3">包厢</text><text x="28.6" y="0" class="lt" font-size="14.6">(a)</text></g>
<g transform="translate(1760.8 1818.9)" fill="#222"><text class="cj" x="0" y="-1.7" font-size="14.3">包厢</text><text x="28.6" y="0" class="lt" font-size="14.6">(f)</text></g>
<g transform="translate(1850.8 1818.9)" fill="#222"><text class="cj" x="0" y="-1.7" font-size="14.3">包厢</text><text x="28.6" y="0" class="lt" font-size="14.6">(b)</text></g>
<text class="cj" x="1426" y="1813.3" font-size="14">电</text>
<text class="cj" x="1426" y="1834.3" font-size="14">梯</text>
<text class="cj" x="1426" y="1853.3" font-size="14">顶</text>
<text class="cj" x="1600" y="716.8" font-size="14.2">前室</text>
<text class="cj" x="1589.1" y="1856.3" font-size="14.2">前室</text>
<g transform="translate(1033 748)" fill="#222"><text class="cj" x="0" y="-1.7" font-size="14.3">包厢</text><text x="28.6" y="0" class="lt" font-size="14.6">(c)</text></g>
<g transform="translate(1949.4 748)" fill="#222"><text class="cj" x="0" y="-1.7" font-size="14.3">包厢</text><text x="28.6" y="0" class="lt" font-size="14.6">(c)</text></g>
<g transform="translate(1033 1819.4)" fill="#222"><text class="cj" x="0" y="-1.7" font-size="14.3">包厢</text><text x="28.6" y="0" class="lt" font-size="14.6">(c)</text></g>
<g transform="translate(1949.4 1819.4)" fill="#222"><text class="cj" x="0" y="-1.7" font-size="14.3">包厢</text><text x="28.6" y="0" class="lt" font-size="14.6">(c)</text></g>
<g transform="translate(921.9 785.5)" fill="#222"><text class="cj" x="0" y="-1.7" font-size="14.3">包厢</text><text x="28.6" y="0" class="lt" font-size="14.6">(c)</text></g>
<g transform="translate(2060.5 785.5)" fill="#222"><text class="cj" x="0" y="-1.7" font-size="14.3">包厢</text><text x="28.6" y="0" class="lt" font-size="14.6">(c)</text></g>
<g transform="translate(921.9 1781.9)" fill="#222"><text class="cj" x="0" y="-1.7" font-size="14.3">包厢</text><text x="28.6" y="0" class="lt" font-size="14.6">(c)</text></g>
<g transform="translate(2060.5 1781.9)" fill="#222"><text class="cj" x="0" y="-1.7" font-size="14.3">包厢</text><text x="28.6" y="0" class="lt" font-size="14.6">(c)</text></g>
<g transform="translate(836.9 842.5)" fill="#222"><text class="cj" x="0" y="-1.7" font-size="14.3">包厢</text><text x="28.6" y="0" class="lt" font-size="14.6">(d)</text></g>
<g transform="translate(2145.5 842.5)" fill="#222"><text class="cj" x="0" y="-1.7" font-size="14.3">包厢</text><text x="28.6" y="0" class="lt" font-size="14.6">(d)</text></g>
<g transform="translate(836.9 1724.9)" fill="#222"><text class="cj" x="0" y="-1.7" font-size="14.3">包厢</text><text x="28.6" y="0" class="lt" font-size="14.6">(d)</text></g>
<g transform="translate(2145.5 1724.9)" fill="#222"><text class="cj" x="0" y="-1.7" font-size="14.3">包厢</text><text x="28.6" y="0" class="lt" font-size="14.6">(d)</text></g>
<g transform="translate(763.8 944.5)" fill="#222"><text class="cj" x="0" y="-1.7" font-size="14.3">包厢</text><text x="28.6" y="0" class="lt" font-size="14.6">(c)</text></g>
<g transform="translate(2218.6 944.5)" fill="#222"><text class="cj" x="0" y="-1.7" font-size="14.3">包厢</text><text x="28.6" y="0" class="lt" font-size="14.6">(c)</text></g>
<g transform="translate(763.8 1622.9)" fill="#222"><text class="cj" x="0" y="-1.7" font-size="14.3">包厢</text><text x="28.6" y="0" class="lt" font-size="14.6">(c)</text></g>
<g transform="translate(2218.6 1622.9)" fill="#222"><text class="cj" x="0" y="-1.7" font-size="14.3">包厢</text><text x="28.6" y="0" class="lt" font-size="14.6">(c)</text></g>
<text x="1361.8" y="539" class="lt" font-size="14.6" letter-spacing="0.35">1-LT-06</text>
<text x="1613" y="539" class="lt" font-size="14.6" letter-spacing="0.35">1-LT-13</text>
<text x="1321.3" y="2016.5" class="lt" font-size="14.6" letter-spacing="0.35">1-LT-09</text>
<text x="1610.3" y="2020.4" class="lt" font-size="14.6" letter-spacing="0.35">1-LT-10</text>
<text x="463" y="820.5" class="lt" font-size="14.6" letter-spacing="0.35">1-M3-01</text>
<text x="466.7" y="988.4" class="lt" font-size="14.6" letter-spacing="0.35">1-FT-01</text>
<text x="466.7" y="1047.5" class="lt" font-size="14.6" letter-spacing="0.35">1-LT-07</text>
<text x="463" y="1749" class="lt" font-size="14.6" letter-spacing="0.35">1-M3-02</text>
<text x="466.7" y="1584" class="lt" font-size="14.6" letter-spacing="0.35">1-FT-02</text>
<text x="466.7" y="1520" class="lt" font-size="14.6" letter-spacing="0.35">1-LT-08</text>
<text x="788.8" y="877" class="lt" font-size="14.6" letter-spacing="0.35">1-M3-07</text>
<text x="2196" y="877" class="lt" font-size="14.6" letter-spacing="0.35">1-M3-10</text>
<text x="788.8" y="1701" class="lt" font-size="14.6" letter-spacing="0.35">1-M3-08</text>
<text x="2187" y="1701" class="lt" font-size="14.6" letter-spacing="0.35">1-M3-09</text>
<text x="543" y="1176" class="lt" font-size="14.6" letter-spacing="0.35">1-DT-01</text>
<line x1="541" y1="1179" x2="598.1" y2="1179" class="t0"/>
<text x="543" y="1203" class="lt" font-size="14.6" letter-spacing="0.35">1-E3-01</text>
<line x1="541" y1="1206" x2="598.1" y2="1206" class="t0"/>
<text x="538" y="1359" class="lt" font-size="14.6" letter-spacing="0.35">1-T3-01</text>
<line x1="536" y1="1362" x2="593.1" y2="1362" class="t0"/>
<text x="538" y="1383" class="lt" font-size="14.6" letter-spacing="0.35">1-DT-02</text>
<line x1="536" y1="1386" x2="593.1" y2="1386" class="t0"/>
<text x="653" y="1177" class="lt" font-size="14.6" letter-spacing="0.35">1-LT-01</text>
<line x1="651" y1="1180" x2="708.1" y2="1180" class="t0"/>
<text x="1587" y="663" class="lt" font-size="14.6" letter-spacing="0.35">1-LT-05</text>
<line x1="1585" y1="666" x2="1642.1" y2="666" class="t0"/>
<text x="1688" y="649.5" class="lt" font-size="14.6" letter-spacing="0.35">1-T3-02</text>
<line x1="1686" y1="652.5" x2="1743.1" y2="652.5" class="t0"/>
<text x="1688" y="669" class="lt" font-size="14.6" letter-spacing="0.35">1-E3-02</text>
<line x1="1686" y1="672" x2="1743.1" y2="672" class="t0"/>
<text x="1587" y="1896" class="lt" font-size="14.6" letter-spacing="0.35">1-LT-01</text>
<line x1="1585" y1="1899" x2="1642.1" y2="1899" class="t0"/>
<text x="1691.2" y="1890" class="lt" font-size="14.6" letter-spacing="0.35">1-E3-02</text>
<line x1="1689.2" y1="1893" x2="1746.3" y2="1893" class="t0"/>
<text x="1691.2" y="1908.4" class="lt" font-size="14.6" letter-spacing="0.35">1-T3-02</text>
<line x1="1689.2" y1="1911.4" x2="1746.3" y2="1911.4" class="t0"/>
<text x="2399" y="697" class="lt" font-size="14.6" letter-spacing="0.35">1-M3-06</text>
<line x1="2397" y1="700" x2="2454.1" y2="700" class="t0"/>
<text x="2399" y="740" class="lt" font-size="14.6" letter-spacing="0.35">1-E3-04</text>
<line x1="2397" y1="743" x2="2454.1" y2="743" class="t0"/>
<text x="2399" y="787" class="lt" font-size="14.6" letter-spacing="0.35">1-T3-04</text>
<line x1="2397" y1="790" x2="2454.1" y2="790" class="t0"/>
<text x="2399" y="825" class="lt" font-size="14.6" letter-spacing="0.35">1-DT-06</text>
<line x1="2397" y1="828" x2="2454.1" y2="828" class="t0"/>
<text x="2520" y="714" class="lt" font-size="14.6" letter-spacing="0.35">1-LT-04</text>
<text x="2397" y="1739" class="lt" font-size="14.6" letter-spacing="0.35">1-DT-05</text>
<line x1="2395" y1="1742" x2="2452.1" y2="1742" class="t0"/>
<text x="2397" y="1784" class="lt" font-size="14.6" letter-spacing="0.35">1-T3-03</text>
<line x1="2395" y1="1787" x2="2452.1" y2="1787" class="t0"/>
<text x="2397" y="1837" class="lt" font-size="14.6" letter-spacing="0.35">1-E3-03</text>
<line x1="2395" y1="1840" x2="2452.1" y2="1840" class="t0"/>
<text x="2397" y="1880" class="lt" font-size="14.6" letter-spacing="0.35">1-M3-03</text>
<line x1="2395" y1="1883" x2="2452.1" y2="1883" class="t0"/>
<text x="2521" y="1840" class="lt" font-size="14.6" letter-spacing="0.35">1-LT-03</text>
<text x="2502" y="1117" class="lt" font-size="14.6" letter-spacing="0.35">1-LT-12</text>
<text x="2499" y="1453" class="lt" font-size="14.6" letter-spacing="0.35">1-LT-11</text>
<text x="2330" y="1049" class="lt" font-size="14.6" letter-spacing="0.35">1-M3-12</text>
<line x1="2328" y1="1052" x2="2385.1" y2="1052" class="t0"/>
<text x="2336" y="1531" class="lt" font-size="14.6" letter-spacing="0.35">1-M3-11</text>
<line x1="2334" y1="1534" x2="2391.1" y2="1534" class="t0"/>
<text x="3001" y="935" class="lt" font-size="14.6" letter-spacing="0.35">1-M3-05</text>
<text x="3001" y="1630" class="lt" font-size="14.6" letter-spacing="0.35">1-M3-04</text>
<text x="1417" y="437" class="st" font-size="5.5" text-anchor="start">MQ</text>
<text x="1675" y="438" class="st" font-size="5.5" text-anchor="start">MQ</text>
<text x="411" y="1175" class="st" font-size="5.5" text-anchor="start">MQ</text>
<text x="411" y="1436" class="st" font-size="5.5" text-anchor="start">MQ</text>
<text x="1417" y="2126" class="st" font-size="5.5" text-anchor="start">MQ</text>
<text x="1675" y="2125" class="st" font-size="5.5" text-anchor="start">MQ</text></svg></body></html>
